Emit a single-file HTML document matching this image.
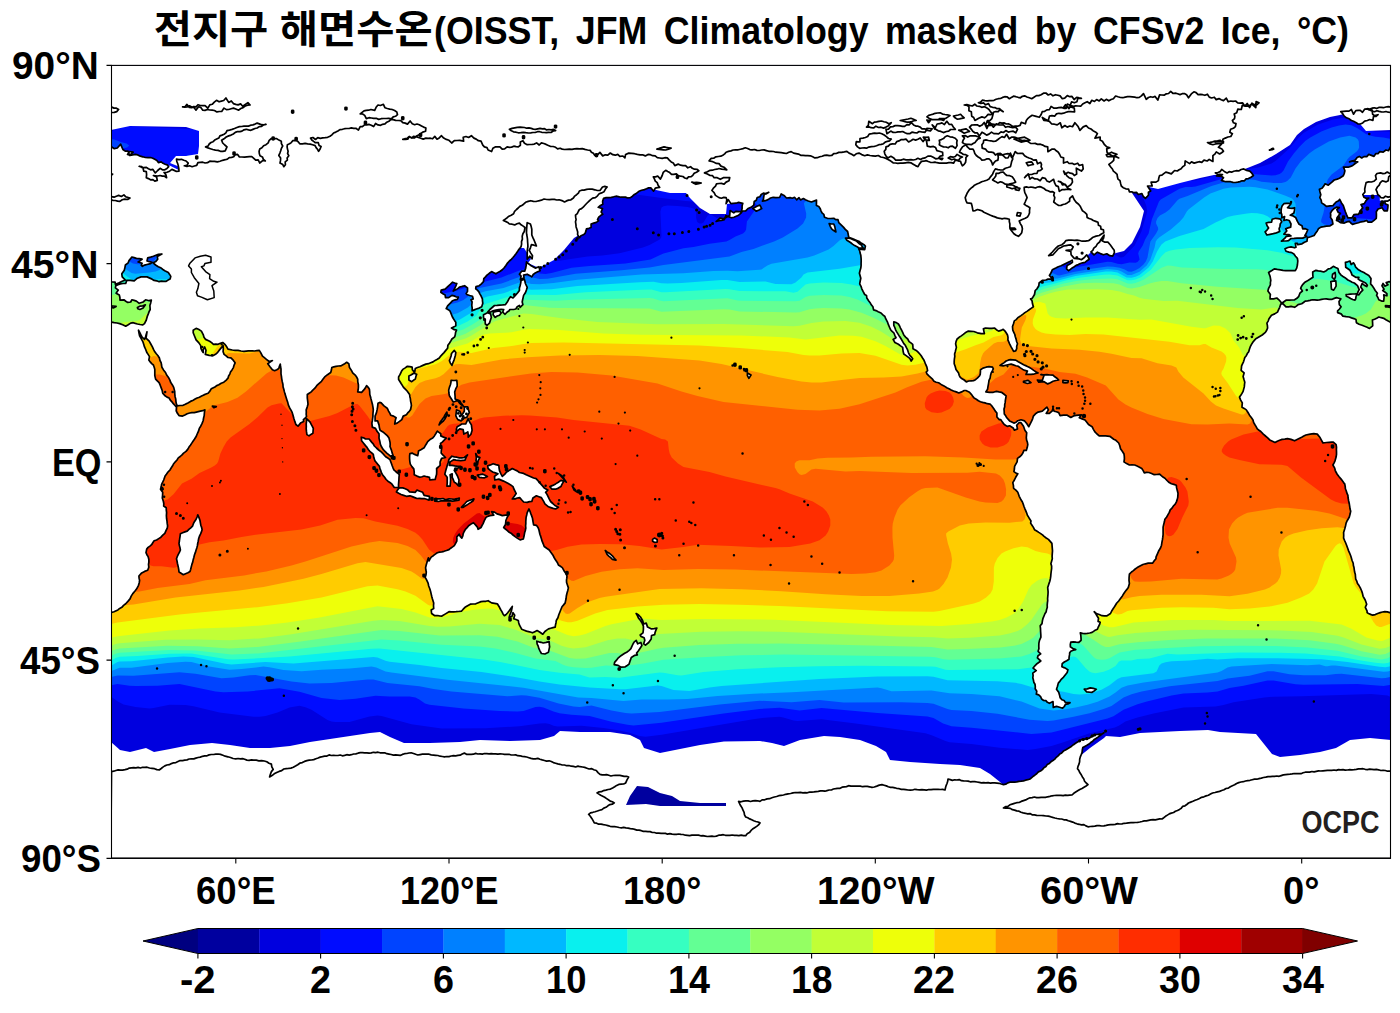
<!DOCTYPE html><html><head><meta charset="utf-8"><title>SST</title><style>html,body{margin:0;padding:0;background:#fff}#p{position:relative;width:1400px;height:1013px;overflow:hidden;background:#fff;font-family:"Liberation Sans",sans-serif}.t{position:absolute;white-space:nowrap;font-weight:bold;color:#000;line-height:normal;transform-origin:0 0;letter-spacing:0}svg{position:absolute;left:0;top:0}</style></head><body><div id="p"><svg width="1400" height="1013" viewBox="0 0 1400 1013"><defs><clipPath id="mc"><rect x="111.5" y="65.4" width="1279.0" height="793.0"/></clipPath></defs><g clip-path="url(#mc)"><rect x="109.5" y="63.4" width="1283.0" height="797.0" fill="#00009f"/><path d="M107.5 61.4L1395.5 61.4L1395.5 863.4L107.5 863.4L107.5 61.4Z" fill="#0000df" fill-rule="evenodd"/><path d="M107.5 61.4L471.5 61.4L472.6 65.4L477.5 76.5L488.1 109.4L487.5 111.7L485.5 112.9L481.5 113.3L383.5 113.2L367.5 111.6L185.5 111.6L181.5 111.9L175.5 114.3L171.5 114.8L167.5 114.1L163.5 112.3L159.5 111.6L118.0 111.4L114.8 109.4L113.5 106.4L110.5 95.4L107.5 92.4L107.5 61.4ZM745.3 63.4L745.6 61.4L971.4 61.4L971.5 79.4L973.3 89.4L973.1 111.4L971.5 115.0L969.5 116.7L965.5 117.6L961.5 117.7L763.5 117.3L757.5 116.8L751.5 114.9L741.5 114.2L739.5 112.9L738.7 111.4L738.6 105.4L742.2 85.4L745.3 63.4ZM1117.9 61.4L1137.9 61.4L1147.0 109.4L1147.0 111.4L1146.3 113.4L1143.5 115.4L1137.5 116.0L1131.5 115.4L1129.5 114.4L1127.6 111.4L1125.9 105.4L1120.8 75.4L1117.9 61.4ZM1385.3 61.4L1395.5 61.4L1395.5 111.1L1393.5 109.1L1391.8 103.4L1385.5 77.2L1384.2 69.4L1385.3 61.4ZM1375.0 79.4L1375.5 79.0L1377.9 79.4L1378.4 81.4L1377.5 87.4L1370.6 109.4L1368.6 113.4L1367.5 114.5L1363.5 116.0L1355.5 116.2L1353.5 116.1L1351.5 115.2L1350.2 113.4L1350.1 111.4L1352.3 107.4L1369.1 85.4L1375.0 79.4ZM1332.9 119.4L1341.5 118.1L1351.5 118.8L1365.5 124.3L1367.5 125.5L1370.7 129.4L1373.5 131.2L1375.5 131.7L1389.5 131.7L1391.5 131.1L1395.5 128.4L1395.5 165.2L1383.5 167.1L1379.5 168.7L1376.1 171.4L1374.9 173.4L1373.8 177.4L1372.5 187.4L1373.5 193.7L1375.5 196.1L1377.5 197.0L1389.5 197.4L1395.5 196.7L1395.5 699.7L1387.5 695.4L1371.5 693.9L1301.5 696.3L1273.5 696.7L1264.3 697.4L1233.5 702.3L1223.5 705.0L1215.5 706.5L1183.5 707.5L1153.5 713.6L1137.5 717.6L1125.4 721.4L1119.2 725.4L1114.9 727.4L1088.9 733.4L1063.5 742.3L1051.5 745.9L1035.5 749.1L1027.5 749.9L999.5 747.8L971.5 744.0L949.5 742.2L945.5 741.1L932.3 735.4L925.5 733.2L855.7 723.4L821.5 719.2L797.5 720.9L793.5 720.4L783.3 717.4L779.5 716.8L767.8 717.4L751.5 719.4L661.5 734.8L645.5 736.8L639.5 736.1L629.5 732.7L619.5 730.4L603.5 727.9L581.5 725.8L557.5 726.6L553.5 725.7L549.5 724.0L545.5 723.3L539.5 723.6L519.5 726.3L485.5 728.3L441.5 728.5L411.5 724.2L381.5 716.0L377.5 715.4L369.5 716.4L349.5 722.0L335.5 722.0L331.5 721.4L327.5 719.9L311.5 709.8L305.5 707.3L299.5 705.8L289.5 707.6L277.5 712.5L265.5 715.9L259.5 716.8L253.5 716.7L219.5 712.6L193.5 706.3L185.5 705.1L169.5 704.8L153.5 708.1L149.5 708.4L135.5 706.9L123.5 704.5L117.5 701.3L111.5 696.9L107.5 695.4L107.5 197.4L113.5 196.9L115.5 196.0L117.5 193.6L125.1 173.4L126.4 169.4L126.4 167.4L124.2 165.4L121.5 165.0L107.5 166.0L107.5 132.2L111.7 131.4L117.5 127.0L121.5 126.2L131.5 126.2L197.5 129.6L505.5 130.1L1171.5 133.3L1199.5 133.8L1210.4 135.4L1210.1 137.4L1202.5 141.4L1083.9 187.4L1075.9 191.4L1075.1 193.4L1077.5 195.4L1086.2 199.4L1091.6 203.4L1102.5 217.4L1105.5 220.4L1107.5 221.3L1113.5 222.0L1114.6 223.4L1115.1 225.4L1114.8 229.4L1110.8 247.4L1110.6 251.4L1112.2 253.4L1119.5 257.3L1121.5 257.6L1123.5 256.9L1125.2 255.4L1134.7 245.4L1141.5 231.3L1147.3 211.4L1146.2 205.4L1142.2 195.4L1142.2 193.4L1143.4 191.4L1145.8 189.4L1151.5 186.5L1183.5 176.4L1185.5 176.0L1187.5 176.3L1187.9 179.4L1189.5 180.1L1191.5 180.8L1195.5 180.5L1221.5 174.3L1241.5 170.1L1258.1 167.4L1271.5 163.5L1275.5 161.1L1289.5 148.2L1298.8 137.4L1303.5 133.1L1317.5 124.8L1332.9 119.4ZM275.5 149.2L273.6 149.4L274.8 151.4L288.6 157.4L529.5 249.0L533.8 251.4L535.6 255.4L539.5 256.2L549.5 256.8L551.6 257.4L555.5 260.4L557.5 260.9L587.5 256.4L602.4 255.4L619.5 253.2L642.9 247.4L649.5 245.0L659.7 239.4L661.2 237.4L661.5 235.4L660.4 211.4L661.5 207.6L663.5 206.3L667.5 205.6L677.5 206.0L687.5 207.1L693.5 208.6L694.9 209.4L696.2 211.4L696.1 217.4L697.0 221.4L697.5 222.3L699.5 223.6L701.5 223.4L703.5 222.4L707.5 215.7L709.5 214.6L711.5 214.7L717.5 218.4L719.5 218.7L723.1 217.4L724.0 215.4L722.8 207.4L721.5 205.6L717.5 204.0L713.5 203.1L685.5 200.9L663.5 198.2L512.3 177.4L359.5 157.4L309.2 151.4L288.3 149.4L275.5 149.2Z" fill="#000cff" fill-rule="evenodd"/><path d="M749.8 61.4L968.5 61.4L968.6 79.4L970.4 89.4L970.3 109.4L969.8 111.4L968.1 113.4L963.5 114.4L863.5 114.5L849.5 113.7L765.5 113.7L759.5 113.2L757.5 112.3L755.5 110.4L753.5 105.4L753.1 97.4L751.5 89.4L751.1 81.4L749.7 73.4L749.8 61.4ZM1339.0 125.4L1345.5 124.6L1351.5 125.2L1357.5 128.2L1365.5 133.8L1369.5 135.5L1375.5 136.8L1383.5 137.5L1395.5 140.0L1395.5 150.4L1385.5 152.8L1375.5 156.8L1365.5 162.2L1361.8 165.4L1360.1 169.4L1356.9 181.4L1355.5 183.7L1349.5 189.6L1341.0 201.4L1338.8 205.4L1337.6 211.4L1338.2 213.4L1339.5 215.0L1343.5 216.6L1361.5 218.6L1369.5 218.9L1373.5 219.8L1377.5 222.6L1387.5 231.3L1391.5 234.1L1395.5 235.9L1395.5 684.1L1383.5 686.0L1357.5 684.0L1303.5 684.8L1295.5 684.2L1273.5 680.5L1267.5 680.5L1243.5 685.8L1229.5 688.0L1217.5 691.4L1207.5 692.6L1183.5 693.5L1171.5 695.6L1146.9 701.4L1137.5 704.3L1123.5 709.7L1113.5 716.3L1107.5 718.6L1051.5 732.5L1031.5 733.9L971.5 727.7L951.5 726.3L943.1 723.4L933.5 718.1L927.5 716.5L877.5 713.0L821.5 707.9L799.5 710.6L779.5 707.7L759.5 708.9L723.5 713.5L661.5 722.8L633.5 725.5L627.5 724.8L611.5 721.7L589.5 716.1L571.5 714.8L559.5 713.2L553.5 711.6L543.5 707.5L539.5 706.7L535.5 707.1L523.5 711.0L517.5 711.5L499.5 711.0L463.5 708.6L429.5 704.8L425.0 703.4L419.3 699.4L415.5 697.5L409.5 696.6L389.5 696.4L375.5 695.7L355.5 698.7L339.5 700.1L321.5 698.0L299.5 691.8L279.5 688.3L247.5 691.5L223.5 692.3L215.5 691.5L179.5 684.1L157.5 685.7L135.5 686.0L129.5 685.7L117.5 684.0L107.5 685.8L107.5 232.0L123.5 240.0L131.5 243.2L135.5 244.1L139.5 244.0L141.5 243.4L143.5 241.7L153.5 219.2L159.5 212.2L163.5 205.9L182.3 163.4L185.5 157.6L187.5 155.6L189.5 155.1L191.5 155.4L197.5 158.4L425.5 288.2L433.5 291.5L439.5 292.7L445.5 293.0L457.5 290.6L475.5 284.0L501.4 277.4L519.5 270.5L523.5 269.5L529.5 269.9L539.5 273.4L545.5 274.0L551.5 273.1L571.5 267.7L589.5 265.9L625.5 263.4L650.5 259.4L663.5 253.4L683.5 248.3L693.5 246.9L709.5 243.7L726.3 241.4L729.5 240.1L735.5 236.6L743.0 233.4L745.1 231.4L746.1 229.4L746.9 221.4L756.6 207.4L757.0 205.4L755.6 203.4L750.2 201.4L745.5 200.5L649.0 187.4L566.1 175.4L530.3 169.4L521.7 167.4L520.8 165.4L533.5 164.7L565.5 164.6L963.5 166.6L993.7 167.4L999.1 169.4L997.4 171.4L988.9 175.4L948.3 191.4L944.5 193.4L943.4 195.4L947.4 197.4L978.3 203.4L996.6 209.4L1005.6 213.4L1010.1 217.4L1037.4 253.4L1041.1 257.4L1048.5 261.4L1059.5 264.8L1065.5 268.1L1067.5 268.7L1107.5 261.8L1111.5 262.0L1117.5 263.8L1121.5 264.3L1129.5 262.5L1135.5 262.8L1137.5 262.0L1139.6 259.4L1138.2 253.4L1138.8 251.4L1142.7 245.4L1145.1 239.4L1148.6 233.4L1151.8 219.4L1159.0 201.4L1160.7 199.4L1179.5 188.8L1185.5 186.9L1191.5 187.1L1195.5 186.5L1223.5 178.5L1245.5 174.7L1255.5 174.3L1271.5 175.6L1275.5 175.2L1279.5 174.0L1281.5 172.8L1283.5 170.5L1288.0 161.4L1293.8 153.4L1299.5 146.7L1305.5 140.8L1310.3 137.4L1321.3 131.4L1331.6 127.4L1339.0 125.4ZM107.5 139.4L107.5 138.7L109.5 138.7L114.2 139.4L121.5 142.2L126.6 143.4L129.2 145.4L127.2 147.4L107.5 152.0L107.5 139.4Z" fill="#0044ff" fill-rule="evenodd"/><path d="M861.5 63.4L863.5 61.4L965.6 61.4L965.8 81.4L967.6 91.4L967.5 107.4L967.0 109.4L965.5 110.9L961.5 111.5L875.5 111.5L861.5 111.4L855.7 109.4L849.7 103.4L849.5 102.1L847.5 101.4L843.5 101.4L843.5 99.4L845.5 97.4L845.5 95.4L847.5 93.4L847.5 91.4L849.5 89.4L849.5 87.4L851.5 85.4L851.5 83.4L853.5 81.4L853.5 79.4L855.5 77.4L855.5 75.4L857.5 73.4L857.5 71.4L859.5 69.4L859.5 67.4L861.5 65.4L861.5 63.4ZM1340.2 137.4L1349.5 135.7L1355.6 137.4L1357.9 139.4L1358.8 141.4L1359.1 147.4L1358.3 149.4L1356.7 151.4L1349.5 157.0L1347.5 159.2L1343.5 165.5L1331.5 174.6L1327.7 179.4L1326.0 185.4L1324.5 207.4L1323.5 212.8L1321.3 219.4L1321.1 221.4L1321.5 222.4L1323.5 223.9L1345.5 230.9L1363.5 232.6L1373.5 230.6L1375.5 230.9L1377.5 231.8L1381.5 235.2L1391.5 246.0L1395.5 249.7L1395.5 675.5L1385.5 678.1L1381.5 678.3L1341.5 673.8L1335.5 673.9L1325.5 675.3L1303.5 675.3L1289.5 674.3L1273.5 671.2L1267.5 671.3L1249.5 675.7L1227.5 678.5L1217.5 681.0L1169.5 686.3L1141.5 691.5L1131.5 694.3L1123.6 697.4L1111.5 706.1L1103.5 709.1L1089.5 713.2L1073.5 716.7L1053.5 720.6L1047.5 721.1L1029.5 719.8L997.5 713.7L971.5 711.1L951.5 710.1L947.5 709.1L933.5 703.7L927.5 702.9L901.5 702.3L843.5 702.6L819.5 699.9L791.5 702.2L759.5 700.7L719.5 704.4L659.5 711.9L631.5 713.5L625.5 713.0L611.5 710.5L591.5 705.4L579.5 707.0L573.5 706.4L558.6 703.4L539.5 697.8L526.4 695.4L521.5 695.2L507.5 696.3L451.5 691.6L433.5 689.1L419.5 686.2L387.5 682.9L373.5 679.5L367.5 679.6L331.5 683.0L309.5 683.5L291.5 681.5L255.5 675.1L249.5 675.2L233.5 677.5L221.5 678.2L195.5 673.7L179.5 672.2L133.5 675.8L117.5 675.5L107.5 677.9L107.5 242.0L111.5 245.1L123.5 257.0L129.5 261.5L133.0 263.4L137.5 264.3L145.5 264.0L149.5 263.3L153.5 261.5L156.4 257.4L171.5 217.5L177.5 203.8L191.5 178.3L193.5 175.8L195.5 174.8L199.5 175.5L203.5 177.6L410.6 295.4L417.5 297.9L451.5 304.1L457.5 302.6L463.5 299.9L467.5 297.1L473.5 291.4L479.5 288.1L501.5 283.4L521.5 276.3L525.5 276.0L539.5 279.1L547.5 278.8L575.5 273.8L621.5 270.3L649.5 267.6L663.5 264.9L729.5 256.5L741.5 252.0L753.5 248.9L774.1 241.4L782.8 237.4L797.5 228.6L803.1 223.4L806.1 217.4L806.2 213.4L803.9 203.4L805.0 201.4L809.5 200.5L815.5 200.8L865.5 207.2L883.2 211.4L912.2 221.4L921.8 225.4L926.7 229.4L937.6 243.4L943.2 247.4L948.0 249.4L961.9 253.4L979.2 257.4L1049.5 271.8L1057.5 275.3L1059.5 275.4L1073.5 272.0L1091.5 268.7L1107.5 266.4L1113.5 266.7L1119.5 267.8L1124.7 269.4L1128.1 271.4L1131.5 271.7L1135.5 270.3L1139.5 267.9L1143.5 264.4L1145.8 261.4L1147.5 257.4L1150.4 241.4L1156.1 233.4L1158.2 229.4L1158.0 227.4L1156.1 223.4L1156.1 221.4L1157.5 218.1L1159.9 215.4L1165.5 212.6L1169.5 209.5L1177.5 200.3L1179.5 198.7L1187.5 196.1L1211.5 186.1L1223.5 182.6L1233.5 180.8L1241.5 179.8L1251.5 179.5L1255.5 180.0L1261.5 181.8L1273.5 182.9L1281.5 182.9L1285.5 181.9L1287.5 180.8L1290.8 177.4L1295.5 168.5L1300.7 161.4L1309.5 153.2L1314.7 149.4L1328.8 141.4L1340.2 137.4Z" fill="#0080ff" fill-rule="evenodd"/><path d="M1230.7 187.4L1249.5 186.7L1255.5 187.2L1267.5 189.4L1284.9 195.4L1291.5 198.3L1293.5 200.1L1295.4 203.4L1295.9 207.4L1295.9 215.4L1296.6 219.4L1301.4 227.4L1303.5 235.4L1305.4 237.4L1309.5 239.6L1313.5 240.2L1321.5 237.9L1325.5 237.6L1329.5 238.6L1345.5 244.5L1359.5 246.4L1365.5 245.9L1375.5 242.3L1379.5 242.4L1383.5 245.1L1391.5 253.6L1395.5 257.1L1395.5 668.6L1391.5 670.5L1387.5 671.5L1383.5 671.7L1335.5 665.4L1331.5 665.4L1327.5 666.3L1325.5 666.2L1319.5 664.6L1307.5 665.2L1271.5 663.9L1231.5 666.5L1227.5 667.5L1221.5 671.1L1217.5 672.4L1143.5 682.6L1127.5 685.5L1121.5 687.8L1115.5 692.5L1109.5 696.4L1097.5 701.7L1087.5 704.7L1075.5 707.5L1065.5 709.3L1053.5 710.6L1039.5 708.5L1021.5 701.5L999.5 696.3L971.5 694.0L949.5 693.3L931.5 690.4L891.5 691.2L881.5 688.2L877.5 687.6L791.5 692.3L753.5 693.7L717.5 696.0L687.5 698.9L667.5 699.6L641.5 699.6L623.5 701.1L591.5 698.1L578.2 697.4L523.5 687.7L447.5 679.8L391.5 672.6L385.5 671.4L376.3 667.4L371.5 666.6L349.5 668.4L321.5 669.7L301.5 671.3L283.5 670.1L269.5 667.2L263.5 666.6L241.5 669.1L229.5 669.8L207.5 666.2L191.5 662.1L185.5 661.7L167.5 663.1L131.5 667.8L119.5 667.8L111.5 670.9L107.5 671.7L107.5 249.2L111.5 252.7L126.2 269.4L131.5 273.1L135.5 273.8L149.5 272.4L155.7 271.4L159.5 270.0L161.9 267.4L169.5 250.2L177.5 235.0L197.5 199.3L199.5 196.4L201.5 194.7L203.5 194.4L205.5 194.8L211.5 197.8L395.5 302.4L403.5 304.8L419.5 306.9L437.5 310.2L447.5 313.9L451.5 314.7L457.5 313.2L467.9 307.4L471.5 304.0L477.6 295.4L481.5 292.5L485.5 291.2L503.5 288.0L519.5 282.4L523.5 282.2L531.5 284.0L539.5 284.3L553.5 283.1L577.5 279.7L641.5 274.4L683.5 273.2L713.5 271.1L727.5 270.7L737.5 271.2L759.5 269.7L761.5 269.4L767.4 265.4L771.5 263.8L807.5 257.5L814.3 255.4L828.6 249.4L833.5 246.0L839.5 240.6L841.5 239.2L843.5 238.6L847.5 239.0L881.5 246.4L1035.5 276.8L1049.5 278.9L1057.5 278.6L1075.5 274.0L1107.5 269.0L1117.5 270.0L1121.5 271.5L1127.5 275.1L1131.5 275.1L1139.5 271.7L1146.7 265.4L1150.4 259.4L1154.6 247.4L1155.8 241.4L1157.1 239.4L1159.5 237.2L1170.8 229.4L1179.9 221.4L1183.4 217.4L1186.8 211.4L1188.5 209.4L1204.1 197.4L1210.4 193.4L1223.5 188.8L1230.7 187.4Z" fill="#00b8ff" fill-rule="evenodd"/><path d="M1247.1 213.4L1251.5 213.0L1257.5 213.3L1263.5 214.5L1267.5 216.2L1272.0 219.4L1285.5 233.5L1290.3 239.4L1292.7 241.4L1301.5 244.7L1313.5 250.7L1315.5 251.0L1321.5 250.1L1325.5 250.4L1347.5 258.5L1357.5 260.1L1363.5 259.6L1377.5 254.3L1381.5 253.4L1385.5 255.1L1395.5 264.2L1395.5 662.6L1389.5 666.5L1385.5 667.2L1379.5 666.8L1347.5 661.9L1321.5 659.2L1277.5 658.3L1237.5 658.2L1217.5 659.5L1207.5 658.7L1189.5 660.5L1171.5 661.2L1165.5 662.3L1161.5 663.6L1159.3 665.4L1156.6 671.4L1153.5 673.2L1121.5 677.3L1117.5 679.1L1109.5 685.3L1101.5 689.8L1089.5 693.8L1079.5 694.6L1073.5 694.1L1063.5 691.7L1035.5 688.3L1021.5 683.9L1015.5 682.8L997.5 681.3L947.5 680.3L933.5 676.8L927.5 676.3L877.5 676.5L819.5 678.9L721.5 686.1L709.5 687.4L689.5 691.1L673.5 690.1L661.5 686.1L657.5 685.6L625.5 689.2L619.5 689.3L589.5 687.6L559.5 684.4L539.5 681.5L513.5 676.8L481.5 672.1L441.5 667.9L419.5 664.9L389.5 661.7L385.5 660.7L377.5 657.4L373.5 657.0L293.5 663.5L265.5 662.0L231.5 664.4L225.5 663.7L193.5 657.1L183.5 656.6L167.5 657.4L131.5 661.2L119.5 661.4L117.5 661.9L111.5 665.6L107.5 667.0L107.5 256.3L111.5 259.8L123.5 273.5L127.5 276.7L133.5 280.4L135.5 281.0L139.5 281.3L159.5 279.3L167.5 279.4L169.5 278.7L171.5 277.0L173.5 274.0L205.4 217.4L207.5 214.9L209.5 214.0L213.5 214.9L217.5 217.0L379.5 308.9L388.5 311.4L413.5 314.6L435.5 319.0L443.5 321.7L449.5 322.3L453.5 321.7L459.5 319.7L471.5 312.6L473.5 310.8L479.5 302.0L483.5 298.0L487.5 296.6L503.5 293.2L517.5 288.2L521.5 288.2L531.5 289.8L551.5 289.2L577.5 286.1L639.5 282.2L653.5 281.7L661.5 283.2L667.5 283.4L681.5 282.9L721.5 280.0L727.5 280.1L739.5 281.9L765.5 281.5L775.5 283.9L791.5 284.2L795.5 282.4L801.4 277.4L803.5 274.6L807.5 272.6L839.5 268.7L861.5 265.0L875.5 265.9L965.5 276.2L1031.5 284.6L1051.5 282.2L1075.5 276.1L1105.5 271.6L1111.5 271.6L1117.5 272.5L1126.6 277.4L1131.5 277.7L1135.5 276.7L1139.5 274.9L1148.6 267.4L1152.8 261.4L1157.1 251.4L1159.5 247.4L1161.5 244.4L1165.2 241.4L1179.5 236.0L1203.5 229.0L1215.5 222.4L1227.5 217.0L1234.1 215.4L1247.1 213.4Z" fill="#09f0ee" fill-rule="evenodd"/><path d="M213.5 235.4L215.5 233.9L217.5 233.6L223.5 236.1L363.5 315.5L371.5 317.7L403.5 321.5L441.5 329.7L447.5 328.9L457.5 326.3L467.5 321.4L476.5 315.4L481.5 307.2L485.5 303.9L517.5 293.9L529.5 294.8L555.5 294.9L585.5 292.3L641.5 289.8L651.5 289.6L661.5 292.2L665.5 292.3L725.5 289.0L729.5 289.2L739.5 291.1L785.5 291.3L793.5 292.7L797.5 291.8L805.5 284.5L809.5 283.4L823.5 282.5L841.5 283.0L851.5 284.5L861.5 287.1L865.5 287.4L869.5 286.6L879.5 282.0L885.5 281.2L1009.5 294.9L1019.5 295.4L1027.5 293.4L1037.5 288.4L1043.5 286.2L1051.5 284.5L1065.5 280.6L1079.5 277.7L1103.5 274.7L1109.5 274.4L1117.5 275.4L1127.5 280.3L1131.5 280.3L1135.5 279.5L1141.5 277.0L1151.1 269.4L1161.5 256.2L1165.5 252.3L1169.5 250.8L1175.5 249.6L1189.5 248.1L1217.5 247.2L1235.5 247.4L1267.5 250.2L1281.5 252.8L1291.5 255.8L1293.5 256.0L1297.5 254.5L1299.5 254.5L1303.5 255.7L1315.5 261.3L1325.5 263.3L1347.5 271.9L1355.5 273.8L1361.5 273.3L1383.5 265.0L1387.5 265.4L1395.5 271.2L1395.5 657.6L1389.5 662.2L1387.5 663.1L1383.5 663.4L1375.5 662.7L1359.5 660.3L1339.5 656.4L1305.5 653.6L1279.5 652.8L1239.5 652.5L1177.5 654.4L1167.5 653.8L1149.5 658.6L1137.5 659.0L1131.5 660.6L1121.5 660.4L1119.0 661.4L1115.5 665.9L1109.5 669.6L1103.5 671.8L1095.5 673.2L1091.5 672.6L1089.4 671.4L1085.5 667.9L1077.5 658.4L1075.5 657.0L1073.5 656.5L1068.0 657.4L1037.5 666.7L1017.5 669.2L949.5 670.1L945.5 669.8L935.5 666.8L931.5 666.4L861.5 665.8L817.5 666.3L779.5 667.2L737.5 669.3L703.5 671.9L681.5 675.4L677.5 675.3L663.5 672.7L659.5 672.5L619.5 677.8L605.5 677.0L589.5 677.5L579.5 674.6L559.5 672.7L539.5 669.9L501.5 662.3L483.5 659.6L379.5 648.5L371.5 648.8L289.5 656.6L233.5 659.6L227.5 659.3L191.5 653.4L169.5 653.7L137.5 656.0L119.5 656.7L115.5 658.0L111.5 660.5L107.5 662.3L107.5 264.7L111.5 267.5L127.2 283.4L133.5 286.8L139.5 287.6L157.5 286.9L171.5 290.8L175.5 291.1L179.5 290.3L181.5 289.4L185.0 285.4L213.5 235.4Z" fill="#36ffc1" fill-rule="evenodd"/><path d="M223.0 253.4L225.5 253.5L231.5 256.4L347.5 322.0L351.6 323.4L357.5 324.4L393.5 328.5L435.5 337.4L441.5 336.4L463.2 329.4L471.5 325.0L479.5 319.9L482.1 317.4L486.3 311.4L488.9 309.4L511.5 301.1L519.5 299.4L555.5 300.8L573.5 299.8L649.5 298.1L653.5 298.5L659.5 300.6L663.5 301.2L727.5 298.2L737.5 300.5L741.5 300.8L795.5 301.3L799.5 300.7L805.5 297.1L809.5 295.8L823.5 295.0L841.5 295.6L849.5 296.9L857.5 299.5L873.5 307.5L877.5 308.6L881.5 307.5L899.5 298.0L903.5 296.8L907.5 296.5L991.5 305.7L1001.5 306.2L1009.5 305.4L1017.5 303.0L1037.5 291.6L1043.5 289.0L1063.5 283.5L1077.5 280.7L1093.5 279.1L1111.5 278.4L1117.5 279.2L1127.5 283.4L1131.5 283.7L1135.5 283.0L1143.5 279.7L1161.5 267.8L1167.5 265.6L1171.5 265.7L1181.5 267.5L1225.5 268.9L1257.5 269.2L1267.5 270.1L1271.5 271.4L1279.5 275.9L1289.5 283.9L1293.5 286.0L1297.5 285.5L1311.5 279.7L1317.5 278.8L1333.5 280.9L1351.5 286.6L1357.5 287.4L1361.5 286.3L1385.5 276.8L1389.5 276.2L1391.5 276.8L1395.5 278.7L1395.5 653.4L1387.5 658.3L1381.5 659.5L1361.5 656.5L1337.5 650.8L1307.5 647.5L1275.5 646.0L1239.5 645.8L1199.5 646.3L1135.5 649.8L1119.5 652.5L1109.5 658.2L1105.5 659.5L1101.5 659.8L1097.5 659.3L1095.5 658.4L1093.5 657.0L1083.2 645.4L1079.5 643.0L1075.5 642.1L1043.5 647.2L1029.5 653.9L1021.5 656.4L999.5 658.4L949.5 659.8L943.5 659.2L935.5 657.3L929.5 656.8L783.5 654.6L741.5 655.2L701.5 657.2L663.5 659.8L643.5 663.6L633.5 664.9L619.5 666.1L605.5 665.6L591.5 667.7L585.5 668.0L573.5 667.2L567.5 666.3L563.5 665.0L555.5 660.9L535.5 658.6L515.5 652.9L495.5 648.5L479.5 646.6L441.5 644.7L399.5 640.5L381.5 639.4L258.1 653.4L231.5 654.6L195.5 650.4L169.5 650.1L119.5 652.7L115.5 653.8L107.5 657.8L107.5 276.1L111.5 276.5L113.5 277.6L117.5 281.4L121.9 287.4L127.5 290.5L133.5 292.8L137.5 293.5L155.5 294.6L177.5 302.1L181.5 302.4L189.5 301.2L193.5 299.8L196.0 297.4L218.7 257.4L221.5 254.0L223.0 253.4Z" fill="#63ff94" fill-rule="evenodd"/><path d="M228.9 273.4L231.5 272.9L237.5 275.5L325.2 325.4L333.5 329.3L343.5 331.1L382.9 335.4L429.5 345.0L435.5 344.1L447.5 339.2L459.5 335.9L465.5 333.7L480.0 325.4L493.5 314.2L509.5 308.9L517.5 305.5L521.5 304.8L549.5 307.7L559.5 308.1L649.5 308.5L661.5 311.7L723.5 309.2L729.5 309.5L739.5 311.4L795.5 312.5L799.5 312.3L809.5 309.2L815.5 308.4L823.5 308.0L841.5 308.5L849.5 309.5L861.5 312.7L873.5 317.7L885.5 323.8L889.5 325.3L891.5 325.4L895.5 324.6L905.5 321.0L921.5 313.2L927.5 311.9L935.5 312.2L979.5 317.0L987.5 316.7L999.5 314.8L1005.5 313.2L1013.5 309.4L1035.5 295.6L1041.5 292.7L1063.5 286.4L1081.5 283.3L1095.5 282.8L1113.5 283.2L1119.5 284.5L1127.5 287.9L1131.5 288.4L1139.5 286.9L1149.5 283.4L1155.5 281.9L1161.5 281.0L1167.5 280.9L1181.5 283.3L1217.5 286.8L1267.5 290.0L1273.5 292.3L1285.3 299.4L1289.5 301.2L1325.5 311.2L1331.1 313.4L1339.5 318.2L1345.5 319.5L1351.5 318.7L1361.5 315.4L1365.9 313.4L1370.8 309.4L1375.5 301.5L1377.5 299.9L1385.5 296.6L1395.5 294.0L1395.5 649.1L1385.5 653.9L1379.5 654.7L1361.5 651.2L1341.5 644.9L1335.5 643.7L1309.5 640.3L1275.5 638.5L1205.5 638.5L1169.5 639.9L1137.5 642.2L1119.5 644.2L1109.5 647.0L1105.5 647.1L1101.5 645.3L1093.0 639.4L1065.5 623.4L1059.5 621.3L1051.5 620.6L1047.5 621.3L1045.5 623.0L1042.9 627.4L1033.5 637.4L1029.5 640.1L1021.5 643.9L1015.5 645.4L1000.3 647.4L967.5 649.0L947.5 649.5L931.5 647.0L817.5 644.3L779.5 643.6L737.5 643.7L699.5 645.1L663.5 647.8L657.5 648.7L631.5 654.6L627.5 654.9L617.5 653.1L609.5 653.1L585.5 658.4L575.5 658.8L569.5 658.1L549.5 650.6L533.5 647.7L517.5 641.6L497.5 636.8L479.5 635.2L439.5 635.5L399.5 631.0L381.5 630.1L300.7 641.4L257.5 646.9L229.5 648.4L197.5 646.2L167.5 645.7L119.5 648.4L115.5 649.4L107.5 652.9L107.5 295.9L115.5 294.3L119.5 294.8L131.5 298.7L153.5 302.7L179.5 312.3L185.5 313.8L202.6 311.4L205.5 310.3L208.3 307.4L225.5 277.1L227.5 274.4L228.9 273.4Z" fill="#94ff63" fill-rule="evenodd"/><path d="M1076.3 289.4L1097.5 289.2L1111.5 290.0L1119.7 291.4L1127.5 293.9L1134.1 295.4L1139.5 297.8L1143.5 298.8L1163.5 300.9L1177.5 300.8L1237.5 308.0L1261.5 309.5L1275.5 307.6L1279.3 309.4L1281.1 311.4L1289.7 327.4L1293.5 335.8L1295.5 337.5L1301.5 338.8L1337.5 339.7L1343.5 339.4L1349.5 337.8L1375.5 328.1L1395.5 324.7L1395.5 643.8L1385.5 648.1L1379.5 648.8L1361.5 644.6L1343.5 637.5L1337.5 635.7L1311.5 632.0L1281.5 630.4L1191.5 629.8L1171.5 630.4L1135.5 632.9L1117.5 635.3L1109.5 636.9L1107.5 636.8L1103.5 635.3L1091.5 629.2L1053.5 604.6L1047.5 601.7L1045.5 601.8L1043.5 603.0L1041.5 605.1L1031.7 619.4L1027.5 623.9L1021.5 628.9L1017.5 631.0L1009.4 633.4L999.5 635.6L969.5 637.7L947.5 638.4L933.5 637.3L899.5 636.4L779.5 631.7L739.5 631.2L701.5 631.7L659.5 633.9L655.5 634.7L637.5 640.3L633.5 640.2L625.5 638.4L617.5 638.4L607.5 640.2L585.5 647.2L573.5 648.5L567.5 647.6L561.5 645.8L549.5 640.2L535.5 637.9L515.5 629.7L499.5 625.0L479.5 623.8L449.5 626.4L437.5 626.7L429.5 625.9L399.5 620.9L381.5 619.9L373.5 620.7L291.5 634.2L259.5 638.4L229.5 640.3L197.5 639.5L165.5 639.8L119.5 643.2L115.5 644.0L107.5 647.5L107.5 325.7L113.5 325.0L123.5 322.3L137.5 320.8L140.3 319.4L145.5 314.4L147.5 313.1L149.5 312.6L155.5 313.7L187.5 324.3L191.5 325.2L195.5 325.0L203.5 322.9L215.5 321.7L217.5 320.8L220.6 317.4L233.5 295.0L235.5 293.1L237.5 292.5L239.5 292.8L243.5 294.7L309.5 332.2L316.2 335.4L326.0 337.4L373.5 342.5L423.5 352.7L427.5 352.4L431.5 351.3L447.5 344.1L465.5 338.6L471.5 335.6L491.5 323.0L495.5 321.0L523.5 313.4L531.5 313.9L561.5 318.3L597.5 321.9L657.5 324.2L723.5 324.1L793.5 326.2L799.5 325.7L811.5 323.1L823.5 321.5L845.5 320.9L859.5 322.8L871.5 326.8L881.0 331.4L893.5 339.4L897.5 340.7L899.5 340.7L928.1 333.4L947.0 327.4L967.5 327.7L993.5 323.3L999.5 321.0L1005.5 317.7L1029.5 302.0L1039.5 296.8L1049.0 293.4L1055.5 291.8L1067.5 289.6L1076.3 289.4Z" fill="#c1ff36" fill-rule="evenodd"/><path d="M1032.3 303.4L1035.5 302.2L1039.5 301.8L1045.3 303.4L1047.7 313.4L1049.3 315.4L1051.5 316.8L1055.5 317.9L1065.5 318.4L1085.5 317.5L1107.5 317.5L1139.5 319.8L1151.5 319.5L1191.5 326.8L1203.5 328.3L1205.5 328.3L1213.5 325.6L1219.5 325.7L1225.5 328.5L1230.7 333.4L1233.5 340.5L1239.2 347.4L1243.0 355.4L1253.5 357.8L1331.5 359.5L1339.5 359.2L1345.5 357.4L1389.5 340.5L1395.5 338.7L1395.5 636.6L1389.5 637.9L1383.5 640.5L1381.5 640.9L1377.5 640.6L1366.3 637.4L1351.5 628.8L1341.5 624.6L1309.5 620.8L1229.5 621.0L1213.5 620.0L1171.5 620.0L1133.5 622.5L1113.5 627.2L1109.5 627.3L1103.4 625.4L1094.4 619.4L1072.5 601.4L1051.5 580.7L1047.5 578.2L1045.5 578.0L1041.5 578.8L1037.5 580.5L1031.5 585.1L1028.4 589.4L1023.1 601.4L1018.0 609.4L1013.5 613.7L1006.5 617.4L999.5 620.1L992.1 621.4L969.5 624.0L941.5 625.9L891.5 624.9L773.5 619.7L703.5 618.9L661.5 619.9L641.5 618.6L611.5 624.2L605.5 625.9L585.5 633.9L579.5 635.5L573.5 636.2L567.5 635.1L555.5 629.9L541.5 626.3L505.5 612.2L493.5 608.8L487.5 608.6L475.5 609.4L461.5 611.7L443.5 617.0L433.5 618.1L429.5 617.5L415.5 612.4L401.5 608.9L377.5 606.3L319.7 617.4L287.5 622.6L261.1 625.4L235.5 627.2L199.5 628.6L169.5 630.5L117.5 636.3L107.5 638.6L107.5 341.2L126.9 335.4L131.5 331.2L133.5 330.2L139.5 328.8L145.5 325.6L147.5 325.0L151.5 325.4L171.5 331.4L183.5 335.6L195.5 339.0L199.5 339.3L201.5 338.7L206.2 335.4L209.5 334.1L213.5 333.3L225.5 332.6L229.5 331.3L231.6 329.4L241.5 313.4L243.5 312.2L245.5 312.3L251.5 314.9L294.6 339.4L301.5 342.3L311.5 344.0L363.5 349.5L417.5 360.4L423.5 359.8L429.5 358.0L439.5 354.1L449.5 348.5L467.5 343.4L479.5 336.3L483.5 334.6L489.5 333.5L511.5 332.3L523.5 329.7L529.5 328.9L559.5 330.1L603.5 333.5L641.5 334.7L741.5 335.6L789.5 337.4L805.5 339.6L839.5 335.6L853.5 335.8L861.5 336.8L875.5 341.3L885.5 346.1L899.5 353.9L903.5 355.4L905.5 355.4L915.5 351.6L943.5 344.5L971.5 335.7L985.5 332.9L991.5 330.9L995.5 328.8L1023.5 308.5L1032.3 303.4Z" fill="#eeff09" fill-rule="evenodd"/><path d="M1031.2 307.4L1034.5 307.4L1036.1 309.4L1035.9 311.4L1032.9 319.4L1032.7 323.4L1033.5 326.3L1035.5 329.0L1037.5 330.4L1041.5 332.4L1045.5 333.5L1055.5 334.6L1069.5 335.0L1085.5 333.9L1103.5 334.4L1169.5 341.7L1189.5 345.3L1199.5 345.2L1203.5 343.9L1205.5 343.9L1211.5 347.4L1221.5 351.5L1224.1 353.4L1225.7 355.4L1226.4 357.4L1226.1 361.4L1223.5 368.8L1221.8 371.4L1221.3 373.4L1222.0 375.4L1227.5 382.7L1235.8 395.4L1237.5 397.4L1239.5 398.0L1241.5 395.9L1245.5 387.8L1247.5 385.9L1253.5 385.0L1255.5 384.0L1259.5 379.6L1261.5 378.7L1267.5 378.3L1329.5 379.4L1335.5 378.9L1395.5 356.7L1395.5 622.9L1389.5 624.1L1381.5 626.9L1379.5 626.9L1376.2 625.4L1373.5 622.1L1369.7 615.4L1367.3 605.4L1364.8 599.4L1361.0 593.4L1356.0 587.4L1353.7 583.4L1343.5 547.8L1341.5 544.0L1339.5 543.2L1337.5 544.2L1335.5 546.1L1324.5 561.4L1317.1 583.4L1313.3 589.4L1309.2 593.4L1301.0 597.4L1287.5 602.7L1269.5 606.6L1249.5 608.6L1229.5 609.3L1213.5 607.7L1181.5 607.3L1161.5 607.7L1131.5 610.2L1127.5 611.1L1121.5 613.9L1117.5 614.6L1109.5 611.3L1097.2 601.4L1087.0 591.4L1072.8 575.4L1051.5 555.2L1047.5 553.4L1041.5 552.6L1035.5 550.9L1027.5 547.3L1021.5 546.6L1013.5 548.2L1005.1 551.4L1001.5 553.5L997.5 558.0L994.8 563.4L993.9 567.4L993.8 581.4L992.6 589.4L990.4 593.4L986.1 597.4L979.7 601.4L973.8 603.4L939.5 610.9L933.5 611.8L887.5 611.2L779.5 606.0L739.5 604.7L699.5 604.0L663.5 604.8L637.5 606.4L607.5 609.9L595.1 613.4L577.5 620.7L571.5 622.2L567.5 622.3L561.5 620.8L537.9 611.4L531.3 607.4L521.8 599.4L515.5 596.8L505.5 596.2L495.5 594.6L465.5 597.4L451.5 595.1L447.5 595.0L445.4 595.4L443.5 596.8L439.5 601.3L436.6 603.4L431.5 605.6L429.5 605.4L427.5 604.4L415.5 595.7L405.5 591.5L397.5 589.2L377.5 585.5L367.5 586.2L321.5 597.4L287.5 603.2L257.5 607.2L199.5 612.4L179.5 614.6L117.5 622.6L107.5 624.7L107.5 359.3L113.5 357.4L139.0 347.4L141.5 345.3L143.2 339.4L145.5 338.1L149.5 339.4L153.5 343.1L155.5 344.0L171.5 346.4L187.5 351.4L205.5 356.1L209.5 356.4L211.5 355.3L216.5 347.4L218.4 345.4L223.5 343.8L239.5 342.7L241.5 341.8L243.5 340.0L248.1 333.4L249.5 332.2L251.5 331.8L257.5 334.0L281.5 347.4L287.5 349.3L355.5 356.8L386.8 363.4L400.6 367.4L402.6 369.4L400.1 371.4L396.0 373.4L394.6 375.4L399.5 380.5L403.5 386.1L405.5 386.5L407.5 384.4L410.5 373.4L411.6 371.4L415.6 369.4L435.5 364.2L441.5 361.2L449.5 355.0L453.5 352.8L459.5 351.8L467.5 352.9L471.5 352.9L493.5 347.9L513.5 345.8L523.5 343.9L531.5 343.1L563.5 342.5L699.5 345.4L739.5 348.0L787.5 352.0L803.5 355.0L809.5 355.6L819.5 355.5L841.5 353.5L859.5 352.9L875.5 355.8L901.5 364.7L907.5 365.4L915.5 364.8L927.5 361.9L965.5 349.3L975.5 345.2L983.5 342.6L993.5 337.0L1001.5 335.3L1003.9 333.4L1004.7 331.4L1005.1 327.4L1006.1 325.4L1009.9 321.4L1023.5 311.2L1031.2 307.4Z" fill="#ffcc00" fill-rule="evenodd"/><path d="M1023.1 315.4L1025.5 314.9L1026.2 315.4L1026.2 317.4L1025.5 320.0L1021.8 327.4L1020.0 339.4L1021.5 344.3L1023.2 345.4L1051.5 348.5L1079.5 349.7L1099.5 351.8L1111.5 353.8L1131.5 358.0L1141.5 358.2L1157.5 363.3L1171.5 365.5L1176.3 367.4L1178.3 371.4L1183.3 377.4L1203.5 393.6L1210.9 401.4L1216.0 405.4L1223.5 408.6L1241.5 414.5L1243.5 414.5L1245.5 413.0L1249.5 402.6L1251.5 400.7L1255.5 400.7L1265.5 402.7L1267.5 402.5L1273.5 399.1L1277.5 398.5L1329.5 399.0L1335.5 397.4L1395.5 374.6L1395.5 598.8L1387.7 593.4L1383.9 589.4L1382.7 587.4L1373.6 557.4L1371.1 551.4L1368.3 547.4L1361.9 541.4L1347.5 530.1L1343.5 528.1L1337.5 527.3L1321.5 528.3L1307.5 530.3L1293.5 533.5L1288.4 535.4L1285.2 537.4L1281.7 541.4L1278.7 549.4L1278.5 555.4L1281.2 569.4L1281.0 573.4L1279.8 577.4L1277.5 581.4L1275.4 583.4L1269.6 587.4L1264.9 589.4L1247.5 593.8L1229.5 596.2L1201.5 594.7L1161.5 594.8L1139.5 596.1L1131.5 597.3L1123.5 599.3L1121.5 599.2L1119.5 598.3L1116.4 595.4L1103.3 579.4L1092.0 567.4L1089.7 563.4L1087.9 551.4L1086.2 547.4L1082.1 543.4L1067.1 531.4L1063.4 527.4L1062.0 523.4L1061.7 517.4L1060.7 513.4L1053.5 502.6L1051.5 500.9L1048.3 499.4L1031.5 495.9L1029.5 495.9L1027.4 497.4L1026.3 501.4L1025.2 517.4L1024.5 519.4L1022.4 521.4L1009.5 522.7L985.5 522.6L968.7 523.4L959.8 525.4L948.3 531.4L946.1 533.4L946.2 535.4L947.9 543.4L951.1 553.4L952.0 559.4L951.0 567.4L947.5 577.4L943.5 584.0L939.5 588.5L937.5 589.8L933.0 591.4L919.3 593.4L889.5 595.9L861.5 595.9L825.5 594.3L781.5 591.2L741.5 589.3L701.5 588.3L659.5 588.9L605.5 596.7L599.5 598.0L587.5 602.2L577.5 607.9L569.7 613.4L567.5 613.9L565.5 613.4L563.6 611.4L559.5 603.9L547.5 591.4L541.5 587.3L529.5 582.0L523.5 581.3L509.5 581.8L499.5 580.7L477.5 583.5L461.5 584.6L433.5 578.9L423.5 578.9L421.5 578.4L415.5 573.9L411.5 571.6L401.5 568.0L365.5 562.0L357.5 563.3L321.5 574.1L303.5 578.7L263.5 586.9L239.5 590.5L175.5 597.4L133.5 604.5L127.5 605.0L123.5 604.5L121.2 603.4L111.5 595.8L107.5 593.4L107.5 377.3L113.5 375.4L125.5 370.1L153.5 355.9L157.5 356.4L191.5 368.4L213.5 374.5L215.5 374.2L218.3 371.4L224.8 355.4L227.4 353.4L229.5 352.9L249.5 353.5L257.5 351.3L259.5 351.5L269.5 355.4L275.5 356.5L343.5 363.6L351.5 365.4L356.6 367.4L363.7 373.4L369.9 377.4L374.0 379.4L389.5 385.1L392.2 387.4L396.9 393.4L405.5 398.4L407.5 398.4L409.5 396.8L415.5 387.1L419.5 383.0L425.5 380.4L435.5 378.3L439.5 376.8L443.5 374.2L451.5 366.6L455.5 364.3L459.5 363.9L471.5 364.9L501.7 359.4L527.5 357.2L559.5 355.6L599.5 355.0L637.5 355.9L699.5 360.6L721.5 364.0L777.5 377.0L801.3 381.4L811.5 382.5L821.5 382.6L841.5 379.9L859.5 378.1L883.5 377.6L901.5 376.5L917.5 373.5L941.5 367.5L945.5 367.2L949.5 368.7L955.5 373.4L961.5 376.4L965.5 379.1L967.5 379.5L973.5 377.3L978.1 373.4L979.7 369.4L980.1 363.4L981.3 357.4L983.0 353.4L984.6 351.4L993.8 343.4L997.5 342.0L1003.5 341.7L1005.5 340.9L1007.1 339.4L1010.8 333.4L1014.1 323.4L1017.4 319.4L1023.1 315.4Z" fill="#ff9400" fill-rule="evenodd"/><path d="M1016.7 363.4L1021.5 363.9L1027.5 366.3L1045.5 368.7L1059.5 372.1L1075.5 373.8L1087.1 377.4L1105.8 385.4L1118.4 399.4L1125.5 404.4L1131.4 407.4L1147.5 414.0L1163.5 419.0L1191.5 424.2L1207.5 424.4L1229.5 423.4L1247.5 424.5L1250.1 423.4L1253.5 416.9L1255.5 415.4L1257.5 415.3L1273.5 419.5L1279.5 420.5L1289.5 418.8L1325.5 418.8L1331.5 417.0L1359.5 406.1L1395.5 389.7L1395.5 554.3L1391.7 551.4L1387.9 547.4L1385.3 543.4L1382.5 537.4L1380.5 535.4L1369.9 529.4L1347.5 519.5L1329.5 513.5L1315.5 510.8L1287.5 507.7L1277.5 507.8L1247.5 512.8L1243.5 514.4L1238.2 517.4L1235.7 519.4L1232.1 523.4L1229.0 529.4L1228.5 537.4L1229.7 543.4L1236.0 557.4L1236.5 561.4L1235.2 569.4L1234.0 571.4L1231.9 573.4L1228.9 575.4L1221.5 578.6L1217.3 579.4L1181.5 578.7L1150.8 581.4L1139.5 581.8L1134.8 581.4L1133.5 580.8L1131.5 578.6L1129.6 573.4L1126.8 547.4L1125.6 543.4L1123.5 540.5L1116.0 533.4L1113.9 529.4L1113.8 497.4L1111.8 491.4L1085.5 452.6L1083.5 450.9L1079.5 449.2L1065.5 446.7L1057.5 447.3L1049.5 449.1L1019.5 458.4L1013.5 459.5L995.5 459.6L963.5 457.4L925.5 456.2L871.5 456.7L851.5 457.6L827.5 457.8L817.5 458.5L809.5 460.3L799.5 460.3L796.3 461.4L794.7 463.4L794.8 467.4L797.5 472.3L799.5 474.2L801.5 475.0L805.5 473.9L811.5 469.6L815.5 468.8L845.5 471.6L859.5 471.1L911.5 472.9L967.5 472.8L979.5 471.7L996.0 473.4L999.8 475.4L1003.4 479.4L1005.0 483.4L1006.1 489.4L1005.9 495.4L1003.6 499.4L1001.5 501.4L997.5 503.0L985.5 502.6L979.5 501.6L965.7 497.4L937.5 487.6L925.5 488.1L921.5 489.1L917.2 491.4L908.9 497.4L900.3 505.4L897.5 509.8L894.4 517.4L892.8 523.4L892.4 527.4L892.5 537.4L894.2 555.4L893.8 559.4L892.8 561.4L889.4 565.4L881.5 570.5L875.5 572.3L865.5 573.6L851.5 573.9L735.5 569.6L697.5 569.1L663.5 569.9L637.5 568.3L619.5 569.2L601.5 571.8L585.5 576.1L573.5 581.1L571.5 580.7L566.1 577.4L545.5 567.9L539.5 566.4L515.5 567.3L503.5 566.9L469.0 571.4L461.5 571.9L455.5 571.2L437.5 567.2L429.5 564.7L425.5 561.5L420.9 555.4L415.5 550.1L407.5 546.0L397.5 542.9L379.5 540.9L369.5 542.4L351.5 546.5L305.4 561.4L291.5 565.4L266.3 571.4L244.1 575.4L205.5 580.3L189.5 583.9L157.5 588.0L139.5 591.5L135.5 591.7L133.5 591.1L131.5 589.0L122.7 565.4L119.7 559.4L113.5 552.3L107.5 547.2L107.5 392.9L135.2 381.4L155.5 374.5L159.5 374.5L163.5 375.6L184.9 383.4L189.2 385.4L191.9 387.4L192.8 389.4L192.2 391.4L188.8 395.4L179.1 403.4L177.8 405.4L177.4 407.4L178.8 413.4L183.5 423.8L185.5 427.3L187.5 429.2L189.5 429.2L193.5 425.9L205.5 412.1L210.9 407.4L215.5 405.1L227.5 401.9L237.5 397.8L246.0 391.4L266.5 373.4L271.5 370.5L275.5 369.6L281.5 369.9L319.5 375.1L336.0 375.4L343.5 377.5L355.5 383.1L375.5 387.9L379.1 389.4L382.1 391.4L392.5 401.4L394.1 403.4L397.3 409.4L399.5 412.0L405.5 416.5L407.5 417.5L409.5 417.6L412.2 415.4L419.5 403.9L425.5 398.5L431.5 395.9L443.5 394.3L447.5 393.2L461.5 384.7L469.5 382.6L530.9 373.4L551.5 372.1L577.5 372.4L611.5 375.4L657.5 383.6L681.5 391.5L697.5 396.1L723.5 401.9L797.5 409.8L819.5 410.6L839.5 408.7L859.5 404.2L895.5 392.6L906.6 387.4L921.5 381.8L929.5 380.0L939.5 380.2L951.5 382.2L955.1 383.4L957.5 385.6L961.5 393.3L963.5 395.8L965.5 397.3L967.5 398.0L969.5 397.8L989.5 383.7L995.5 378.2L1003.5 374.4L1011.5 365.5L1013.5 364.2L1016.7 363.4ZM985.5 413.3L985.5 413.8L985.5 413.3Z" fill="#ff6000" fill-rule="evenodd"/><path d="M935.4 391.4L939.5 390.5L945.5 390.9L949.5 392.5L951.5 394.5L953.1 397.4L953.9 401.4L952.6 405.4L949.5 409.0L941.5 412.4L937.5 413.0L931.5 412.2L926.5 409.4L925.2 407.4L924.7 403.4L926.5 397.4L928.0 395.4L930.6 393.4L935.4 391.4ZM278.8 403.4L281.5 403.2L296.9 419.4L299.5 421.5L303.5 422.7L329.5 416.1L337.5 412.9L353.5 404.8L355.5 404.0L357.5 404.1L359.5 405.7L367.5 416.1L379.1 433.4L379.5 435.4L378.5 467.4L379.5 469.4L383.5 470.8L395.5 470.3L403.5 469.0L411.5 466.8L419.5 462.3L423.5 461.2L429.5 461.3L437.5 463.0L441.5 463.2L443.7 461.4L444.4 457.4L440.6 445.4L440.1 441.4L440.4 437.4L442.3 433.4L447.5 426.3L449.5 424.8L453.5 423.8L469.5 422.8L479.5 418.6L483.9 417.4L503.5 415.8L521.5 415.2L529.7 415.4L557.1 417.4L573.5 420.0L629.5 425.7L640.7 429.4L661.5 439.0L665.2 439.4L667.9 441.4L668.8 449.4L669.7 453.4L671.7 457.4L678.0 463.4L683.5 466.9L709.5 471.9L725.5 476.6L775.5 488.0L779.5 489.2L789.5 493.6L812.8 501.4L822.6 507.4L826.5 511.4L828.9 515.4L830.3 519.4L830.3 525.4L828.2 531.4L825.6 535.4L819.5 540.2L810.3 543.4L789.5 546.9L759.5 547.6L731.5 545.9L697.5 544.7L683.5 547.0L661.5 549.5L639.5 546.1L621.5 544.2L599.5 544.0L581.5 544.5L567.5 546.8L557.5 549.8L551.5 550.9L521.5 552.7L507.5 553.0L467.5 558.6L459.5 559.2L447.5 557.2L433.5 553.1L429.0 549.4L422.4 539.4L418.8 535.4L415.5 532.8L407.5 529.0L397.5 525.8L375.3 521.4L363.5 518.3L355.5 517.9L337.5 519.8L320.2 525.4L301.4 529.4L255.5 534.7L241.5 536.9L223.5 540.5L209.5 542.2L199.5 544.6L195.5 546.7L193.5 548.5L178.9 565.4L175.6 567.4L173.5 567.7L161.5 566.3L153.5 566.2L150.6 565.4L149.5 564.4L148.0 561.4L144.9 547.4L142.5 543.4L137.2 539.4L131.5 536.2L111.5 526.2L107.5 524.7L107.5 503.2L161.5 500.9L167.5 499.4L173.5 494.3L182.0 483.4L191.5 478.7L199.5 473.1L211.3 467.4L214.8 465.4L217.1 463.4L218.2 461.4L220.4 453.4L223.5 446.9L226.7 441.4L230.5 437.4L249.5 424.1L257.5 417.2L267.5 407.4L271.5 405.3L278.8 403.4ZM998.6 423.4L1001.5 423.0L1005.5 424.3L1007.5 425.5L1010.7 429.4L1011.3 431.4L1011.1 435.4L1008.8 441.4L1007.0 443.4L1003.9 445.4L997.5 447.6L990.5 447.4L984.8 445.4L982.3 443.4L979.7 439.4L979.6 435.4L981.4 431.4L987.5 427.4L998.6 423.4ZM1257.6 431.4L1261.5 431.6L1289.5 438.1L1297.5 439.0L1321.5 438.6L1337.5 433.2L1345.5 431.2L1348.6 431.4L1353.1 433.4L1355.5 433.9L1369.5 432.1L1371.5 432.1L1374.5 433.4L1391.5 458.0L1395.5 462.8L1395.5 481.3L1364.4 497.4L1358.9 501.4L1358.4 503.4L1367.5 503.9L1395.5 502.9L1395.5 528.1L1389.0 525.4L1367.3 513.4L1361.2 509.4L1355.5 503.9L1341.5 503.6L1335.5 501.7L1330.9 499.4L1301.0 477.4L1287.5 465.9L1281.5 464.7L1259.5 464.3L1239.5 460.1L1229.4 457.4L1225.7 455.4L1223.1 453.4L1221.7 451.4L1221.9 449.4L1224.1 445.4L1228.1 441.4L1231.1 439.4L1243.5 434.4L1257.6 431.4ZM107.5 453.4L107.5 452.5L109.5 454.4L115.7 463.4L117.3 467.4L118.7 475.4L118.4 477.4L117.3 479.4L115.2 481.4L111.5 483.8L107.5 485.4L107.5 453.4ZM1168.4 477.4L1171.5 477.1L1175.5 478.3L1179.5 480.0L1181.5 481.9L1185.5 487.6L1187.4 491.4L1188.8 501.4L1188.3 505.4L1182.3 517.4L1177.5 529.1L1173.5 534.5L1171.5 535.8L1169.5 536.2L1167.1 535.4L1165.6 533.4L1165.0 529.4L1165.9 485.4L1166.9 479.4L1168.4 477.4Z" fill="#ff2d00" fill-rule="evenodd"/><path d="M476.9 513.4L479.5 512.9L485.8 517.4L491.4 519.4L517.5 524.1L521.5 525.3L526.7 529.4L528.2 531.4L528.6 533.4L527.4 535.4L525.5 536.5L519.5 538.1L461.5 545.5L456.8 545.4L453.5 543.5L452.8 541.4L453.3 537.4L455.2 533.4L457.9 529.4L463.5 523.7L476.9 513.4Z" fill="#df0000" fill-rule="evenodd"/><path d="M105.0 60.0L1396.0 60.0L1392.0 130.0L1366.0 131.0L1350.0 112.0L1340.0 115.0L1330.0 117.0L1316.0 122.0L1304.0 129.0L1297.0 135.0L1290.0 145.0L1276.0 154.0L1260.0 163.0L1250.0 167.0L1232.0 174.0L1214.0 175.0L1200.0 178.0L1180.0 183.0L1158.0 189.0L1140.0 185.0L1132.0 193.0L1144.0 211.0L1140.0 227.0L1132.0 243.0L1124.0 251.0L1114.0 253.4L1110.0 251.0L1100.0 250.0L1091.0 252.0L1087.0 256.0L1078.0 262.0L1060.0 262.0L1020.0 250.0L940.0 245.0L870.0 190.0L800.0 185.0L760.0 195.0L745.0 202.0L727.0 204.0L726.0 214.0L710.0 214.0L700.0 208.0L690.0 198.0L686.0 193.0L670.0 193.0L656.0 190.0L650.0 186.0L610.0 192.0L600.0 200.0L585.0 215.0L579.0 235.0L574.0 238.0L564.0 250.0L554.0 260.0L539.0 268.0L528.0 263.0L531.0 259.0L524.0 248.0L516.0 248.0L500.0 232.0L480.0 210.0L450.0 195.0L300.0 185.0L200.0 175.0L170.0 163.0L176.0 156.0L186.0 156.0L198.0 154.0L199.0 146.0L199.0 131.0L186.0 127.0L130.0 126.0L111.0 130.0Z" fill="#fff"/><path d="M111.0 742.0L120.0 750.0L130.0 752.0L146.0 748.0L154.0 752.0L170.0 749.0L190.0 745.0L212.0 743.0L230.0 745.0L250.0 748.0L270.0 748.0L290.0 746.0L310.0 742.0L330.0 739.0L350.0 736.0L370.0 733.0L380.0 732.0L390.0 737.0L404.0 743.0L430.0 743.0L460.0 742.0L480.0 740.0L510.0 741.0L540.0 740.0L554.0 736.0L560.0 731.0L580.0 732.0L610.0 732.0L630.0 735.0L640.0 740.0L644.0 748.0L660.0 753.0L680.0 749.0L700.0 745.0L724.0 741.6L760.0 741.0L772.0 743.0L784.0 746.0L800.0 740.0L824.0 736.0L840.0 737.0L860.0 740.0L876.0 746.0L886.0 752.0L890.0 760.0L910.0 762.0L940.0 764.0L960.0 765.0L980.0 768.0L990.0 774.0L1000.0 782.0L1004.0 786.0L1012.0 786.0L1030.0 787.0L1060.0 775.0L1075.0 760.0L1090.0 748.0L1104.0 738.0L1106.0 736.0L1120.0 737.0L1140.0 733.0L1160.0 732.0L1180.0 731.0L1208.0 730.0L1220.0 732.0L1256.0 734.0L1264.0 744.0L1272.0 754.0L1280.0 757.0L1300.0 755.0L1320.0 752.0L1336.0 748.0L1350.0 740.0L1370.0 738.0L1392.0 740.0L1396.0 865.0L105.0 865.0Z" fill="#fff"/><path d="M136.4 165.8L170.1 165.8L180.8 171.1L180.8 175.5L164.8 182.1L143.5 182.1L136.4 175.5Z" fill="#fff"/><path d="M1415.4 165.8L1449.1 165.8L1459.8 171.1L1459.8 175.5L1443.8 182.1L1422.5 182.1L1415.4 175.5Z" fill="#fff"/><path d="M83.1 194.9L129.3 194.9L129.3 171.1L83.1 171.1Z" fill="#fff"/><path d="M1362.1 194.9L1408.3 194.9L1408.3 171.1L1362.1 171.1Z" fill="#fff"/><path d="M100.8 200.7L132.8 200.7L132.8 194.0L100.8 194.0Z" fill="#fff"/><path d="M1379.8 200.7L1411.8 200.7L1411.8 194.0L1379.8 194.0Z" fill="#fff"/><path d="M521.1 246.0L527.9 246.0L527.9 221.8L520.1 221.8Z" fill="#fff"/><path d="M1800.1 246.0L1806.9 246.0L1806.9 221.8L1799.1 221.8Z" fill="#fff"/><path d="M637.0 786.0L648.0 787.0L660.0 793.0L672.0 796.0L680.0 801.0L700.0 803.0L726.0 803.0L726.0 806.0L660.0 806.0L646.0 804.0L626.0 805.0L630.0 796.0Z" fill="#00009f"/><path d="M1.7 304.2L3.9 303.7L5.5 305.3L7.0 306.8L9.6 306.8L12.0 306.4L15.6 307.3L17.4 306.1L19.1 304.6L22.7 303.7L24.5 302.5L26.2 301.1L28.6 300.8L31.0 300.4L33.3 299.8L35.7 299.9L38.1 300.1L40.4 299.8L42.7 299.4L44.9 299.0L47.2 298.9L50.2 299.3L53.2 299.3L55.3 298.4L57.5 297.6L59.7 298.2L61.8 298.9L60.0 301.5L60.3 304.6L62.1 306.8L60.5 309.0L58.6 310.8L58.6 312.6L62.1 313.9L63.9 316.1L67.1 316.6L70.3 317.0L72.5 317.9L74.8 318.6L77.0 319.6L77.4 322.7L80.1 324.2L83.1 325.3L85.6 326.3L88.1 327.2L90.5 328.4L93.7 325.8L93.6 322.9L93.4 320.0L95.6 319.2L97.7 318.2L99.8 317.0L102.2 317.7L104.7 318.3L106.9 319.7L109.2 321.0L111.5 322.2L114.2 322.7L117.0 323.0L119.7 323.6L122.7 324.8L125.7 326.2L128.2 324.7L130.7 323.1L133.2 322.7L135.3 323.4L137.4 324.0L140.1 324.5L142.8 324.9L144.5 323.6L146.3 320.0L147.4 316.1L148.3 313.9L149.1 311.6L150.2 309.5L149.9 305.5L150.7 302.9L151.3 300.2L149.2 300.7L145.6 299.8L143.1 302.0L139.2 303.3L136.4 301.1L134.1 300.4L131.8 299.8L130.7 302.0L127.8 302.4L125.8 301.2L123.9 299.8L120.0 300.2L119.9 297.5L119.3 294.9L116.1 293.2L118.3 290.1L115.4 287.9L115.8 285.7L118.0 284.7L120.4 283.9L123.0 283.5L125.7 283.5L126.8 280.4L130.3 280.4L134.2 280.8L137.4 278.2L141.0 276.9L144.0 276.9L147.0 276.9L150.9 278.6L154.1 280.4L156.7 280.8L159.1 281.7L161.4 281.2L163.7 281.3L166.2 281.3L168.1 280.1L170.1 279.1L170.8 276.4L169.6 274.4L168.3 272.5L164.8 270.7L162.9 269.5L161.2 268.1L158.3 266.7L155.6 265.0L153.1 262.8L155.9 261.4L157.7 259.2L157.3 256.6L159.6 255.2L161.9 254.0L158.4 254.4L155.9 255.3L153.4 256.2L150.6 257.1L147.7 257.9L147.0 261.0L149.5 261.7L152.0 262.3L150.6 263.6L147.0 264.5L144.6 265.1L142.4 266.3L141.3 265.4L142.1 263.2L138.1 261.9L140.1 260.6L142.1 259.2L139.2 258.6L136.4 258.4L134.1 257.6L131.8 257.0L130.4 258.9L129.0 260.6L128.2 262.8L125.4 265.0L124.9 267.6L124.3 270.3L121.8 273.8L122.2 276.9L123.7 278.4L125.4 280.0L122.2 281.3L118.6 283.0L115.4 284.4L115.1 282.2L112.4 282.0L109.7 281.7L107.2 282.6L109.0 284.8L105.8 286.1L104.0 283.5L103.0 285.7L105.1 289.2L103.7 290.5L106.2 292.3L107.9 293.6L107.9 295.8L104.7 294.9L105.1 297.1L104.7 301.1L102.6 301.1L99.8 299.8L98.9 297.5L97.6 295.4L98.4 293.2L96.2 290.5L94.4 287.4L93.1 285.6L91.6 283.9L91.8 281.3L92.0 278.6L89.8 275.5L87.3 274.1L84.9 272.5L82.1 271.2L79.5 269.8L76.7 267.2L75.8 264.9L74.6 262.8L72.1 264.5L71.0 261.0L68.7 261.8L66.4 262.3L66.6 264.7L66.7 267.2L68.9 268.7L71.0 270.3L72.2 272.6L73.1 275.1L76.7 277.3L79.9 277.3L79.2 279.1L81.0 280.4L83.1 281.3L86.6 283.0L88.4 285.2L87.7 286.6L85.3 285.2L83.1 283.5L81.7 287.0L83.8 290.1L81.3 292.7L79.9 294.9L78.1 294.5L79.2 291.4L80.2 289.6L78.5 285.7L75.3 283.0L73.1 282.2L71.0 281.1L68.9 280.0L66.0 277.7L64.0 276.5L62.1 275.1L60.0 272.5L58.9 268.5L56.6 267.5L54.3 266.3L51.5 268.5L49.3 268.9L47.2 270.7L44.7 272.0L41.5 271.1L39.2 270.8L36.9 270.3L33.7 272.0L33.8 274.7L34.0 277.3L30.5 279.5L28.0 281.1L25.5 282.6L23.9 284.3L22.6 286.2L21.6 288.3L23.4 291.0L20.9 293.2L19.8 296.3L17.9 298.3L15.6 299.8L12.9 300.0L10.2 300.2L7.0 300.2L4.9 301.7L2.8 303.3L1.4 301.5L-0.1 299.8L-2.2 298.0L-5.4 298.9L-8.9 298.9L-8.9 296.7L-8.6 294.5L-11.1 291.0L-10.4 288.3L-8.6 284.8L-8.6 282.6L-8.2 280.4L-8.9 276.4L-10.4 272.5L-6.8 270.3L-4.7 268.9L-1.7 269.4L1.4 269.8L4.0 270.3L6.7 270.7L9.4 270.7L12.0 270.7L16.3 270.7L17.7 268.1L18.4 265.0L18.8 261.0L18.4 258.4L16.5 256.3L14.9 254.0L12.7 252.6L9.9 252.1L7.0 251.3L6.0 248.7L8.9 247.5L12.0 246.9L15.6 247.8L17.0 247.3L16.3 243.4L18.4 243.4L18.8 244.7L23.0 243.8L25.4 242.2L28.0 241.2L28.4 237.7L31.6 236.8L35.1 235.5L36.9 232.8L38.3 230.9L39.4 228.8L41.9 227.1L44.7 226.7L47.6 226.2L51.1 225.8L53.9 224.0L53.2 220.0L51.5 217.4L51.7 215.2L51.5 213.0L53.2 210.3L55.2 208.4L57.5 207.2L60.3 207.7L57.8 209.7L59.3 212.5L61.4 213.4L59.7 215.4L58.2 217.4L57.5 220.5L59.6 221.3L61.4 222.7L65.3 223.1L67.7 221.9L70.3 221.4L71.8 223.0L73.5 224.4L76.5 223.5L79.5 222.7L82.2 221.8L85.0 221.4L87.7 220.5L89.1 222.2L92.7 222.2L95.0 220.3L97.3 218.3L97.4 216.1L97.4 213.9L97.3 211.7L99.1 209.0L103.0 207.7L105.1 210.8L108.3 210.8L108.8 207.9L109.0 205.1L106.2 203.7L105.8 201.1L108.5 201.2L110.8 199.8L113.1 200.3L115.3 200.5L117.6 201.1L119.9 201.4L122.2 199.8L124.7 199.1L127.6 199.5L130.0 198.0L127.7 197.4L125.6 196.7L123.9 194.9L121.4 196.5L118.6 195.4L116.3 196.2L114.1 197.2L111.5 196.7L109.1 197.1L106.5 196.2L104.4 198.0L102.0 197.7L100.5 195.9L98.7 194.5L98.1 192.0L97.0 189.6L98.4 187.0L100.2 185.1L101.3 182.6L103.3 180.8L106.9 181.9L109.2 180.8L109.7 176.9L112.6 174.2L110.4 173.2L108.3 172.0L106.2 173.3L103.9 173.6L101.6 172.9L98.0 173.5L96.5 175.5L97.3 179.1L94.8 181.3L92.4 182.0L89.5 181.9L87.1 182.6L86.3 186.1L85.7 189.0L85.9 192.1L83.8 194.5L84.9 197.2L87.0 198.3L89.8 198.0L87.0 200.7L85.3 203.6L82.0 204.6L83.7 207.9L81.3 210.8L79.5 214.3L77.2 214.3L74.9 214.7L73.1 217.8L68.9 217.8L67.4 214.3L66.3 211.5L65.3 208.6L64.3 205.5L62.5 202.9L60.7 199.3L59.6 200.7L57.1 202.0L55.4 203.8L53.9 205.7L51.1 205.9L47.6 206.4L45.1 204.5L42.6 202.9L42.2 200.1L40.8 197.6L41.8 194.7L41.0 192.0L40.4 189.2L43.0 188.2L44.7 186.1L46.1 183.8L49.3 185.2L51.1 183.6L52.9 182.1L55.2 180.0L58.2 179.1L60.5 178.3L62.4 177.0L64.3 175.7L65.3 173.3L65.9 170.8L64.5 167.1L69.2 167.2L71.6 166.4L73.8 165.4L76.2 163.5L78.8 161.9L76.1 161.6L73.4 160.9L70.6 161.9L73.5 161.0L76.3 160.1L78.1 157.5L80.3 156.4L82.7 158.0L84.9 156.6L87.8 156.6L89.8 154.4L92.4 155.4L95.0 156.4L96.7 153.7L99.0 153.6L100.8 151.7L104.2 152.1L106.9 150.0L109.6 150.7L111.4 146.8L114.3 148.7L117.3 148.0L120.6 144.2L122.9 149.5L125.2 151.1L128.0 151.0L129.6 155.4L133.2 152.2L129.6 151.5L127.5 154.4L130.0 155.3L132.6 154.8L135.3 154.4L137.8 154.9L140.3 156.2L142.8 156.8L145.3 157.5L147.9 157.6L150.6 157.5L152.8 158.2L154.8 159.3L156.9 160.4L158.4 162.6L161.2 161.9L163.0 163.3L165.1 164.2L167.2 164.9L168.7 166.7L167.0 168.5L164.8 169.8L162.4 169.8L160.1 168.3L157.7 170.5L155.3 172.9L152.9 169.4L150.6 169.8L148.4 168.7L146.4 167.4L143.8 167.6L141.4 167.3L139.2 166.3L141.7 166.6L143.1 168.5L143.8 171.2L146.3 171.6L146.6 174.7L146.3 177.7L148.4 178.6L150.5 179.8L152.9 179.6L154.8 181.1L157.3 180.4L156.6 177.0L153.4 175.5L157.7 176.0L160.1 175.5L162.3 176.1L164.6 176.2L166.6 177.7L165.9 174.8L164.1 172.5L167.0 172.3L169.6 171.2L171.9 169.4L174.2 170.4L176.4 171.4L179.0 171.1L178.8 168.5L178.3 165.8L177.7 163.6L176.8 161.5L176.5 159.2L178.9 159.6L181.5 159.3L183.8 160.3L186.1 161.0L188.2 163.2L186.9 165.4L184.3 165.8L186.9 166.5L189.6 165.8L192.1 166.7L194.4 166.0L196.7 165.4L197.9 162.6L200.3 162.3L202.7 162.2L205.1 163.0L207.5 162.7L209.8 161.2L212.1 161.3L214.5 161.4L217.3 161.9L220.0 161.2L222.6 160.3L225.2 159.7L227.4 159.1L229.2 157.6L231.6 157.4L233.7 156.7L235.3 154.6L237.6 154.4L239.4 157.0L241.9 157.0L244.4 157.1L246.9 156.8L249.3 156.6L251.8 156.6L253.8 158.3L255.7 160.1L258.2 159.9L259.7 163.0L263.0 160.4L265.3 161.0L263.4 159.4L262.4 156.9L260.0 155.7L259.3 153.5L259.1 151.3L259.7 149.1L261.9 147.8L263.6 145.7L266.0 144.7L268.2 142.9L269.2 140.3L271.4 138.5L274.0 138.6L276.7 138.6L278.9 140.1L281.3 141.2L281.4 143.6L282.7 146.0L281.4 148.4L280.7 150.7L279.9 153.1L278.8 155.4L280.6 157.9L280.5 160.4L280.0 163.1L282.8 164.6L283.8 166.7L285.4 164.7L285.2 161.8L287.4 160.1L287.1 157.9L288.8 155.7L287.6 153.5L288.1 151.3L287.5 149.1L287.1 146.9L287.4 144.7L289.5 143.8L291.3 142.6L292.7 140.7L295.7 140.3L298.0 141.6L299.8 143.8L302.5 143.9L305.1 143.4L307.6 143.9L310.2 144.1L312.6 144.8L315.1 145.6L316.1 147.6L317.5 149.3L318.6 151.3L320.1 149.0L321.1 146.5L319.1 145.4L318.3 142.7L315.4 142.7L313.6 141.4L311.8 140.0L310.5 138.1L312.9 137.5L315.5 139.5L317.8 137.7L320.3 138.3L322.7 137.8L325.2 137.6L327.6 137.3L330.0 136.3L331.9 134.9L333.6 133.0L335.8 132.1L337.9 131.0L339.9 129.6L342.4 129.3L344.6 128.7L346.9 128.5L349.1 128.5L351.3 127.9L353.7 128.4L355.9 128.3L358.4 130.1L360.2 126.6L362.4 126.7L364.5 124.8L366.8 124.9L368.9 124.4L371.3 125.2L373.6 126.6L375.6 123.5L378.0 124.9L380.6 125.3L382.6 124.3L385.0 123.9L386.8 122.2L388.9 121.3L390.8 119.7L393.2 119.6L395.6 120.4L398.2 120.5L400.8 120.7L402.8 122.7L405.2 123.1L407.5 124.1L410.1 121.0L412.3 123.8L414.6 124.7L417.0 124.0L419.3 124.8L421.5 126.0L423.6 127.1L425.9 128.0L425.6 131.2L422.7 132.1L420.6 133.7L418.6 135.0L416.5 136.1L414.6 137.9L412.1 137.9L409.3 136.5L407.7 139.2L405.3 139.5L402.8 139.4L404.9 138.7L407.1 138.3L409.0 136.6L411.7 138.1L413.5 136.3L416.0 136.8L418.4 137.4L420.8 138.2L423.2 139.1L425.9 138.1L428.1 138.3L430.4 138.2L432.6 138.8L434.8 136.4L437.0 139.2L439.2 137.9L441.5 135.7L443.7 138.1L446.3 139.4L449.0 140.3L451.7 143.0L454.3 140.7L457.0 140.5L459.7 140.3L463.6 141.2L463.2 137.2L466.0 136.5L468.6 137.5L471.4 135.7L473.9 138.1L476.2 139.1L478.4 140.7L481.0 141.2L482.8 145.1L484.4 146.9L487.0 147.6L488.1 150.0L491.6 151.5L492.9 148.2L495.2 146.9L497.6 146.9L499.9 146.8L502.2 149.1L504.6 148.8L507.1 146.8L509.4 147.3L511.6 147.1L513.8 146.2L516.1 146.7L518.3 146.9L520.4 145.3L520.3 142.0L522.9 140.7L524.5 143.3L527.2 144.7L529.6 144.5L532.0 144.5L534.3 144.1L536.6 142.9L539.2 145.0L541.4 142.9L543.8 143.5L546.1 144.4L548.4 145.5L550.7 146.5L553.2 146.5L555.6 147.3L557.6 148.9L560.1 148.2L562.2 149.1L564.5 149.5L567.0 149.3L569.4 149.1L572.0 149.3L574.4 148.8L576.9 148.7L579.6 148.9L582.3 148.6L584.9 149.4L587.6 150.0L590.1 150.3L591.4 152.2L593.4 153.3L594.7 155.3L597.3 155.1L599.9 152.4L602.7 155.9L605.3 154.8L607.8 155.1L610.3 153.0L612.8 154.7L615.3 155.2L617.8 154.4L619.8 156.3L622.9 156.0L624.9 157.9L625.6 154.5L628.8 153.1L631.7 153.3L634.5 153.7L637.3 154.4L640.0 154.8L642.6 154.8L645.3 155.9L648.0 154.4L650.4 154.7L652.7 155.7L655.2 155.9L657.3 157.6L659.7 158.0L662.2 158.4L664.9 157.7L667.3 157.9L669.3 160.1L671.2 161.9L673.3 163.0L674.8 165.6L678.2 164.1L680.5 165.2L683.0 165.7L685.6 165.6L687.8 167.8L690.6 166.7L692.3 168.3L694.4 169.2L696.9 169.3L698.8 170.7L696.5 172.2L694.2 173.3L692.8 175.3L691.2 176.7L688.5 176.9L687.0 178.6L684.8 178.0L682.9 176.5L680.4 176.2L678.2 175.5L676.4 173.8L673.8 174.4L671.5 174.3L669.7 172.6L667.7 171.5L665.7 170.3L663.2 172.4L662.2 175.5L660.4 179.1L657.7 176.0L655.6 176.9L653.3 176.9L654.4 178.9L655.3 181.1L657.2 182.6L658.1 185.2L659.7 187.4L657.5 187.7L655.3 188.2L653.6 191.2L650.8 187.9L648.6 187.9L646.5 188.8L644.4 189.6L641.6 190.3L638.9 191.3L636.6 193.2L634.4 194.4L632.5 196.2L630.4 197.6L627.7 198.0L625.5 197.1L623.1 197.0L620.7 197.2L618.3 196.6L616.0 196.2L613.6 196.8L611.3 197.3L608.9 197.6L606.1 197.6L603.6 198.4L602.6 201.2L602.8 204.2L600.4 205.5L598.2 207.3L600.3 208.0L602.5 208.6L601.1 212.1L602.8 214.3L600.6 215.6L598.7 217.2L597.5 219.6L598.6 220.9L596.3 222.4L593.7 223.1L591.1 224.0L591.1 227.5L588.9 228.3L586.5 228.8L585.9 231.1L585.1 233.3L583.3 234.8L580.9 235.7L579.4 237.7L577.6 234.6L577.7 231.9L576.9 229.3L576.1 226.9L575.9 224.3L575.5 221.8L576.1 219.6L575.7 217.4L575.5 215.2L577.3 213.6L578.3 211.5L579.4 209.5L581.5 208.6L583.2 207.2L584.7 205.5L586.6 203.5L588.5 201.7L590.4 199.8L592.6 198.1L595.4 197.6L597.5 195.8L599.2 193.8L601.6 192.9L603.9 191.8L605.3 189.3L607.1 187.0L604.8 186.4L602.5 187.0L600.0 190.5L597.3 190.5L594.8 189.8L592.2 189.2L589.4 189.0L586.7 189.4L584.0 190.1L581.7 190.2L579.4 191.0L578.4 193.2L576.6 194.7L574.7 196.1L573.4 198.0L570.9 199.8L568.6 200.1L566.5 200.9L564.5 202.0L561.9 200.6L559.1 199.8L556.8 200.0L554.4 199.4L552.0 199.3L549.4 199.6L546.7 199.5L544.0 199.0L541.4 200.2L538.7 200.8L536.1 201.5L533.4 201.4L530.7 200.7L528.2 201.4L525.6 202.3L523.6 204.2L521.8 205.5L519.8 206.4L518.2 208.0L516.5 209.5L514.6 211.3L513.6 213.8L511.2 215.2L509.0 216.2L507.2 217.7L505.3 219.1L503.4 220.5L505.5 221.4L507.7 222.4L509.4 224.0L512.1 224.2L514.7 224.9L517.0 223.8L519.4 223.1L521.1 224.8L523.2 226.1L525.0 227.5L524.3 231.5L522.9 233.8L522.2 236.3L522.4 239.1L521.5 241.6L521.6 244.1L521.1 246.5L519.8 248.4L518.4 250.1L517.2 252.1L515.8 254.0L514.4 255.8L513.0 257.5L511.3 259.3L509.4 261.0L507.5 263.1L505.9 265.4L504.2 267.7L502.3 269.8L500.2 271.2L498.0 272.4L495.9 273.8L493.8 272.7L491.6 271.6L489.3 273.3L487.0 275.1L485.5 276.9L483.8 278.6L483.5 281.7L481.4 283.8L479.2 285.7L476.0 286.6L475.7 288.8L477.4 290.2L478.9 291.8L479.8 293.9L481.0 295.8L482.4 298.9L482.5 301.1L482.8 303.3L481.7 306.8L479.2 308.1L476.4 309.0L474.2 309.9L472.1 310.8L472.2 308.1L471.8 305.5L472.1 302.0L471.0 299.8L473.2 298.9L472.5 296.3L469.6 295.5L466.8 294.5L466.1 293.6L467.5 291.4L467.5 287.9L464.6 285.7L462.2 286.4L459.7 287.0L458.0 288.4L456.1 289.6L453.3 291.0L454.7 288.3L455.9 285.9L456.8 283.5L454.7 283.0L452.6 282.2L450.5 284.2L448.3 286.1L446.7 287.7L445.1 289.2L441.2 290.1L440.8 292.3L442.9 293.8L445.1 294.9L445.5 297.6L448.7 297.6L451.9 295.4L454.0 295.9L456.1 296.8L458.3 297.1L457.5 299.3L455.0 299.8L452.6 300.7L450.1 303.3L447.6 305.9L446.2 308.6L448.3 309.7L450.1 311.2L451.2 313.9L452.2 316.5L453.3 318.5L454.5 320.4L455.8 322.2L455.8 325.8L453.6 326.9L451.5 328.0L454.3 329.7L456.5 330.2L455.6 332.3L455.3 334.6L454.7 336.8L451.9 339.0L450.7 341.1L449.4 343.2L447.9 345.2L447.6 348.2L445.8 350.4L444.0 352.6L442.3 354.4L440.7 356.1L439.3 358.0L437.3 359.3L435.1 360.4L433.0 361.9L430.7 362.8L428.4 363.7L425.9 364.1L422.9 365.4L419.9 366.7L417.5 367.5L415.3 368.5L414.6 372.5L412.4 369.8L412.1 367.2L409.8 366.7L407.4 366.3L405.2 367.9L402.8 369.4L401.8 370.7L400.8 372.8L399.8 374.9L398.6 376.9L398.6 379.5L399.9 381.5L401.1 383.5L402.3 385.4L403.5 387.4L405.3 389.2L407.1 391.0L409.6 394.5L409.9 396.7L410.4 398.9L410.6 401.1L411.1 403.3L411.4 405.5L410.6 409.5L409.3 411.3L407.7 412.9L406.4 414.8L403.2 416.1L401.8 419.6L399.5 421.4L397.1 423.1L394.7 424.0L395.4 420.0L396.1 417.8L393.6 416.1L390.7 415.2L389.8 413.1L388.6 411.2L387.2 408.2L384.0 405.9L381.2 402.9L379.7 402.4L378.0 403.3L377.6 406.8L377.1 409.7L376.5 412.6L375.1 416.1L375.1 418.5L375.1 420.9L377.6 420.9L379.0 424.9L379.4 427.6L380.1 430.2L382.9 431.9L386.1 434.6L387.7 436.2L389.0 438.1L390.0 442.1L390.2 444.3L390.0 446.5L391.5 450.4L392.2 453.1L393.2 455.7L390.4 456.2L388.7 454.6L386.8 453.1L384.8 451.2L382.9 449.1L381.5 446.8L380.4 444.3L379.8 441.2L379.0 438.1L379.1 435.9L379.0 433.7L376.9 431.1L375.5 428.4L372.3 427.1L371.9 423.1L372.3 420.9L372.6 418.7L372.9 416.5L372.9 414.3L373.1 412.1L373.3 409.9L373.0 407.3L372.4 404.2L371.6 401.1L371.0 398.9L370.5 396.7L369.8 394.5L369.7 391.8L369.4 389.2L368.2 387.3L366.6 385.7L364.5 389.2L361.6 392.3L357.7 391.9L358.2 389.5L358.4 387.2L358.4 384.8L357.8 382.0L357.7 379.1L356.6 377.0L355.2 375.1L352.7 372.9L351.3 370.2L349.5 367.6L348.8 363.7L346.7 362.3L344.2 364.1L340.7 365.9L338.3 366.0L336.0 366.3L333.8 366.8L331.8 367.6L331.4 370.1L330.7 372.5L327.5 374.7L324.7 376.9L323.1 379.1L321.5 381.3L318.6 383.9L316.7 385.7L315.1 387.9L313.1 389.8L311.2 391.9L309.2 393.2L307.3 394.5L307.3 398.0L307.7 401.1L308.0 404.2L307.2 407.1L306.2 409.9L306.3 412.1L306.2 414.3L306.5 416.5L305.1 418.2L303.4 419.6L303.7 421.4L300.5 423.1L298.0 426.2L295.9 424.5L294.8 421.4L293.8 418.3L293.0 415.2L292.0 412.1L291.0 410.1L289.8 408.2L288.4 405.1L287.8 402.6L287.0 400.2L285.9 396.7L284.9 393.6L284.3 391.4L283.8 389.2L283.1 387.0L282.9 384.2L282.2 381.4L281.7 378.6L281.4 376.2L281.0 373.8L281.0 371.4L281.0 368.9L280.5 366.5L280.3 364.1L279.4 366.3L278.8 368.5L276.8 369.7L274.6 370.7L272.4 369.8L270.0 366.7L267.8 363.7L270.1 362.1L272.4 360.6L269.2 361.5L266.4 359.3L264.4 357.7L262.5 356.2L260.7 352.6L259.3 350.4L256.9 350.7L254.6 351.0L252.2 350.9L248.3 350.9L244.0 351.3L241.0 351.0L238.0 350.4L235.1 350.3L232.3 350.0L228.0 349.1L226.7 346.8L225.2 344.7L222.7 342.5L220.4 343.3L218.1 344.3L215.8 344.1L213.5 344.3L211.6 342.6L209.6 341.2L205.6 339.4L204.0 337.2L203.2 334.6L201.4 331.1L198.5 329.3L196.1 328.4L193.2 330.2L193.2 332.8L194.6 336.3L196.1 339.9L198.9 342.9L200.7 345.6L201.0 348.7L202.0 350.7L203.2 352.6L203.2 349.6L204.6 346.9L206.0 350.4L205.3 354.4L209.2 355.3L212.8 355.7L216.0 354.0L217.7 352.3L219.1 350.4L221.6 347.4L223.1 345.6L223.3 348.7L223.1 351.8L224.1 354.4L226.1 355.9L228.0 357.5L230.9 357.9L233.2 360.2L235.1 362.8L234.1 365.1L233.4 367.6L232.0 369.9L230.5 372.0L229.8 374.1L228.6 376.0L228.0 378.2L226.0 380.3L223.8 382.2L221.2 383.3L218.8 384.8L216.7 385.6L214.9 387.0L211.3 388.8L209.9 391.1L208.1 393.2L206.0 394.0L203.9 394.9L201.6 396.0L199.4 397.2L197.1 398.0L195.1 399.1L193.2 400.2L190.5 401.4L187.9 402.9L185.3 404.3L182.6 405.5L179.9 405.5L177.2 405.9L176.2 403.3L175.9 401.1L175.7 398.9L175.1 396.7L174.8 394.1L174.7 391.4L173.7 387.4L172.4 384.9L170.8 382.6L169.9 380.1L168.7 377.8L166.8 375.3L165.5 372.5L163.5 369.9L161.9 367.2L161.5 365.0L161.2 362.8L160.0 360.5L159.4 358.0L158.0 355.7L156.3 353.8L154.8 351.8L153.5 349.4L152.4 346.9L150.8 344.0L149.2 341.2L147.6 339.6L146.0 338.1L146.5 335.0L147.0 331.9L146.2 334.4L145.5 337.0L144.5 339.4L142.1 337.2L140.9 334.9L139.7 332.5L138.5 330.2L139.0 333.0L139.6 335.9L141.2 338.7L142.8 341.6L143.7 344.3L144.5 346.9L145.7 349.5L146.7 352.2L148.1 354.4L149.5 356.6L148.8 360.1L150.2 361.9L151.7 363.6L153.4 365.0L154.2 367.2L154.8 369.4L154.8 372.5L154.8 375.6L155.6 379.1L157.3 380.9L159.1 382.6L160.2 385.2L161.2 387.9L162.2 390.5L162.7 393.2L165.1 395.8L167.0 397.1L169.1 398.0L170.3 400.1L171.9 401.8L173.3 403.7L175.0 405.5L176.5 407.3L176.2 410.8L177.4 413.3L179.0 415.6L182.6 416.1L184.9 415.0L187.2 413.8L189.7 413.0L191.9 412.6L194.2 412.6L196.4 412.1L200.3 411.2L202.7 410.7L204.9 409.9L204.4 412.8L204.2 415.6L203.6 418.0L203.2 420.5L202.1 423.4L200.7 426.2L199.3 428.4L198.6 430.9L197.5 433.3L196.3 436.2L194.6 439.0L193.2 441.0L191.8 443.1L190.4 445.2L189.0 447.1L187.9 449.1L186.0 451.4L183.6 453.1L182.0 454.8L180.2 456.5L178.3 457.9L177.0 460.0L175.3 461.8L173.7 463.7L172.6 465.8L171.3 467.8L170.1 469.8L168.0 472.0L166.6 474.0L165.1 476.0L163.7 480.0L162.7 482.2L161.6 484.4L161.2 486.8L160.5 489.2L162.7 492.3L162.6 495.2L162.3 498.0L163.4 501.5L163.8 503.7L163.7 506.0L166.2 507.7L166.3 510.1L166.6 512.6L166.4 515.6L166.6 518.7L167.0 521.1L167.2 523.4L167.6 525.8L167.3 528.0L166.0 530.6L164.8 533.3L162.8 535.2L160.9 537.2L158.7 538.6L156.6 540.0L154.1 540.8L152.8 542.7L151.6 544.7L149.9 546.1L148.1 547.4L146.7 549.1L146.0 552.7L146.9 554.7L148.1 556.6L148.8 559.3L148.9 561.9L148.5 564.5L148.8 567.2L147.7 570.3L144.6 571.4L141.7 572.9L138.9 576.0L139.1 578.2L139.6 580.4L139.2 582.9L138.5 585.3L136.7 588.8L134.8 591.2L132.8 593.6L131.2 596.1L130.0 598.9L127.9 601.4L125.7 603.8L123.6 605.4L121.8 607.3L119.7 608.4L117.9 609.9L114.0 611.7L110.8 612.6L108.3 611.9L105.8 611.7L103.5 612.0L101.2 612.6L98.7 613.5L96.3 614.6L93.7 615.2L91.6 614.4L89.5 613.5L88.1 612.6L88.1 611.2L86.3 607.3L87.7 604.2L86.3 600.2L85.2 598.3L84.1 596.3L83.5 593.6L82.7 591.0L81.3 587.9L80.0 585.6L78.5 583.5L77.8 581.2L76.7 579.1L76.5 576.7L76.3 574.3L75.6 572.0L75.3 569.8L75.0 567.6L74.4 565.5L74.2 563.2L73.0 560.2L72.1 557.1L71.4 555.0L70.5 552.9L69.6 550.9L68.5 547.8L67.4 544.7L66.5 542.5L65.5 540.3L64.6 538.1L64.7 535.3L64.6 532.4L65.7 528.9L66.5 526.0L67.1 523.1L68.0 521.0L69.2 519.0L70.3 517.0L71.1 514.1L71.7 511.2L71.0 508.8L70.7 506.3L70.3 503.8L69.6 500.7L69.1 498.0L68.9 495.4L67.9 493.2L67.3 491.0L66.4 488.8L66.2 486.3L65.7 483.9L64.6 482.6L62.1 479.1L60.1 476.7L58.2 474.2L57.1 472.3L56.2 470.3L55.7 468.1L53.9 465.0L55.1 462.8L56.1 460.6L57.1 457.1L57.5 454.4L57.5 451.8L57.4 449.4L57.5 447.1L57.1 444.7L54.3 442.1L52.5 442.1L50.0 442.3L47.6 442.5L44.0 443.0L42.4 440.1L40.8 437.2L38.3 434.1L34.8 433.7L31.2 434.1L26.9 435.0L24.8 436.0L22.7 437.2L19.1 439.0L15.6 440.8L12.0 439.4L8.5 438.6L5.8 439.2L3.1 439.4L0.6 440.2L-1.7 441.2L-4.0 442.5L-6.6 441.2L-9.3 439.9L-11.3 437.8L-13.5 436.0L-15.7 434.1L-18.2 431.5L-20.0 430.2L-21.7 428.9L-22.9 426.6L-24.2 424.5L-25.4 422.4L-26.0 420.0L-27.7 417.6L-29.5 415.2L-31.0 412.5L-32.7 409.9L-34.8 408.4L-37.0 407.3L-36.9 405.1L-36.7 402.9L-38.3 400.1L-39.5 397.1L-38.2 395.3L-37.0 393.4L-35.9 391.4L-35.3 389.1L-34.7 386.9L-34.5 384.5L-34.2 382.2L-35.1 379.3L-35.9 376.4L-34.9 372.9L-37.9 370.3L-37.6 368.1L-37.4 365.9L-36.5 363.8L-35.5 361.8L-34.8 359.6L-34.2 357.5L-32.7 355.7L-31.7 353.6L-30.3 351.8L-29.6 349.3L-28.8 346.9L-27.5 344.4L-26.0 342.0L-24.2 339.9L-23.2 338.8L-21.0 337.5L-18.9 336.2L-16.8 335.0L-13.6 332.4L-12.3 330.3L-11.4 328.0L-11.6 325.5L-12.1 323.1L-10.8 321.1L-10.0 318.7L-7.5 315.2L-4.3 313.9L-1.5 312.1L-0.4 309.7L0.7 307.3ZM1280.7 304.2L1282.9 303.7L1284.5 305.3L1286.0 306.8L1288.6 306.8L1291.0 306.4L1294.6 307.3L1296.4 306.1L1298.1 304.6L1301.7 303.7L1303.5 302.5L1305.2 301.1L1307.6 300.8L1310.0 300.4L1312.3 299.8L1314.7 299.9L1317.1 300.1L1319.4 299.8L1321.7 299.4L1323.9 299.0L1326.2 298.9L1329.2 299.3L1332.2 299.3L1334.3 298.4L1336.5 297.6L1338.7 298.2L1340.8 298.9L1339.0 301.5L1339.3 304.6L1341.1 306.8L1339.5 309.0L1337.6 310.8L1337.6 312.6L1341.1 313.9L1342.9 316.1L1346.1 316.6L1349.3 317.0L1351.5 317.9L1353.8 318.6L1356.0 319.6L1356.4 322.7L1359.1 324.2L1362.1 325.3L1364.6 326.3L1367.1 327.2L1369.5 328.4L1372.7 325.8L1372.6 322.9L1372.4 320.0L1374.6 319.2L1376.7 318.2L1378.8 317.0L1381.2 317.7L1383.7 318.3L1385.9 319.7L1388.2 321.0L1390.5 322.2L1393.2 322.7L1396.0 323.0L1398.7 323.6L1401.7 324.8L1404.7 326.2L1407.2 324.7L1409.7 323.1L1412.2 322.7L1414.3 323.4L1416.4 324.0L1419.1 324.5L1421.8 324.9L1423.5 323.6L1425.3 320.0L1426.4 316.1L1427.3 313.9L1428.1 311.6L1429.2 309.5L1428.9 305.5L1429.7 302.9L1430.3 300.2L1428.2 300.7L1424.6 299.8L1422.1 302.0L1418.2 303.3L1415.4 301.1L1413.1 300.4L1410.8 299.8L1409.7 302.0L1406.8 302.4L1404.8 301.2L1402.9 299.8L1399.0 300.2L1398.9 297.5L1398.3 294.9L1395.1 293.2L1397.3 290.1L1394.4 287.9L1394.8 285.7L1397.0 284.7L1399.4 283.9L1402.0 283.5L1404.7 283.5L1405.8 280.4L1409.3 280.4L1413.2 280.8L1416.4 278.2L1420.0 276.9L1423.0 276.9L1426.0 276.9L1429.9 278.6L1433.1 280.4L1435.7 280.8L1438.1 281.7L1440.4 281.2L1442.7 281.3L1445.2 281.3L1447.1 280.1L1449.1 279.1L1449.8 276.4L1448.6 274.4L1447.3 272.5L1443.8 270.7L1441.9 269.5L1440.2 268.1L1437.3 266.7L1434.6 265.0L1432.1 262.8L1434.9 261.4L1436.7 259.2L1436.3 256.6L1438.6 255.2L1440.9 254.0L1437.4 254.4L1434.9 255.3L1432.4 256.2L1429.6 257.1L1426.7 257.9L1426.0 261.0L1428.5 261.7L1431.0 262.3L1429.6 263.6L1426.0 264.5L1423.6 265.1L1421.4 266.3L1420.3 265.4L1421.1 263.2L1417.1 261.9L1419.1 260.6L1421.1 259.2L1418.2 258.6L1415.4 258.4L1413.1 257.6L1410.8 257.0L1409.4 258.9L1408.0 260.6L1407.2 262.8L1404.4 265.0L1403.9 267.6L1403.3 270.3L1400.8 273.8L1401.2 276.9L1402.7 278.4L1404.4 280.0L1401.2 281.3L1397.6 283.0L1394.4 284.4L1394.1 282.2L1391.4 282.0L1388.7 281.7L1386.2 282.6L1388.0 284.8L1384.8 286.1L1383.0 283.5L1382.0 285.7L1384.1 289.2L1382.7 290.5L1385.2 292.3L1386.9 293.6L1386.9 295.8L1383.7 294.9L1384.1 297.1L1383.7 301.1L1381.6 301.1L1378.8 299.8L1377.9 297.5L1376.6 295.4L1377.4 293.2L1375.2 290.5L1373.4 287.4L1372.1 285.6L1370.6 283.9L1370.8 281.3L1371.0 278.6L1368.8 275.5L1366.3 274.1L1363.9 272.5L1361.1 271.2L1358.5 269.8L1355.7 267.2L1354.8 264.9L1353.6 262.8L1351.1 264.5L1350.0 261.0L1347.7 261.8L1345.4 262.3L1345.6 264.7L1345.7 267.2L1347.9 268.7L1350.0 270.3L1351.2 272.6L1352.1 275.1L1355.7 277.3L1358.9 277.3L1358.2 279.1L1360.0 280.4L1362.1 281.3L1365.6 283.0L1367.4 285.2L1366.7 286.6L1364.3 285.2L1362.1 283.5L1360.7 287.0L1362.8 290.1L1360.3 292.7L1358.9 294.9L1357.1 294.5L1358.2 291.4L1359.2 289.6L1357.5 285.7L1354.3 283.0L1352.1 282.2L1350.0 281.1L1347.9 280.0L1345.0 277.7L1343.0 276.5L1341.1 275.1L1339.0 272.5L1337.9 268.5L1335.6 267.5L1333.3 266.3L1330.5 268.5L1328.3 268.9L1326.2 270.7L1323.7 272.0L1320.5 271.1L1318.2 270.8L1315.9 270.3L1312.7 272.0L1312.8 274.7L1313.0 277.3L1309.5 279.5L1307.0 281.1L1304.5 282.6L1302.9 284.3L1301.6 286.2L1300.6 288.3L1302.4 291.0L1299.9 293.2L1298.8 296.3L1296.9 298.3L1294.6 299.8L1291.9 300.0L1289.2 300.2L1286.0 300.2L1283.9 301.7L1281.8 303.3L1280.4 301.5L1278.9 299.8L1276.8 298.0L1273.6 298.9L1270.1 298.9L1270.1 296.7L1270.4 294.5L1267.9 291.0L1268.6 288.3L1270.4 284.8L1270.4 282.6L1270.8 280.4L1270.1 276.4L1268.6 272.5L1272.2 270.3L1274.3 268.9L1277.3 269.4L1280.4 269.8L1283.0 270.3L1285.7 270.7L1288.4 270.7L1291.0 270.7L1295.3 270.7L1296.7 268.1L1297.4 265.0L1297.8 261.0L1297.4 258.4L1295.5 256.3L1293.9 254.0L1291.7 252.6L1288.9 252.1L1286.0 251.3L1285.0 248.7L1287.9 247.5L1291.0 246.9L1294.6 247.8L1296.0 247.3L1295.3 243.4L1297.4 243.4L1297.8 244.7L1302.0 243.8L1304.4 242.2L1307.0 241.2L1307.4 237.7L1310.6 236.8L1314.1 235.5L1315.9 232.8L1317.3 230.9L1318.4 228.8L1320.9 227.1L1323.7 226.7L1326.5 226.2L1330.1 225.8L1332.9 224.0L1332.2 220.0L1330.5 217.4L1330.7 215.2L1330.5 213.0L1332.2 210.3L1334.2 208.4L1336.5 207.2L1339.3 207.7L1336.8 209.7L1338.3 212.5L1340.4 213.4L1338.7 215.4L1337.2 217.4L1336.5 220.5L1338.6 221.3L1340.4 222.7L1344.3 223.1L1346.7 221.9L1349.3 221.4L1350.8 223.0L1352.5 224.4L1355.5 223.5L1358.5 222.7L1361.2 221.8L1364.0 221.4L1366.7 220.5L1368.1 222.2L1371.7 222.2L1374.0 220.3L1376.3 218.3L1376.4 216.1L1376.4 213.9L1376.3 211.7L1378.1 209.0L1382.0 207.7L1384.1 210.8L1387.3 210.8L1387.8 207.9L1388.0 205.1L1385.2 203.7L1384.8 201.1L1387.5 201.2L1389.8 199.8L1392.1 200.3L1394.3 200.5L1396.6 201.1L1398.9 201.4L1401.2 199.8L1403.7 199.1L1406.6 199.5L1409.0 198.0L1406.7 197.4L1404.6 196.7L1402.9 194.9L1400.4 196.5L1397.6 195.4L1395.3 196.2L1393.1 197.2L1390.5 196.7L1388.1 197.1L1385.5 196.2L1383.4 198.0L1381.0 197.7L1379.5 195.9L1377.7 194.5L1377.1 192.0L1376.0 189.6L1377.4 187.0L1379.2 185.1L1380.3 182.6L1382.3 180.8L1385.9 181.9L1388.2 180.8L1388.7 176.9L1391.6 174.2L1389.4 173.2L1387.3 172.0L1385.2 173.3L1382.9 173.6L1380.6 172.9L1377.0 173.5L1375.5 175.5L1376.3 179.1L1373.8 181.3L1371.4 182.0L1368.5 181.9L1366.1 182.6L1365.3 186.1L1364.7 189.0L1364.9 192.1L1362.8 194.5L1363.9 197.2L1366.0 198.3L1368.8 198.0L1366.0 200.7L1364.3 203.6L1361.0 204.6L1362.7 207.9L1360.3 210.8L1358.5 214.3L1356.2 214.3L1353.9 214.7L1352.1 217.8L1347.9 217.8L1346.4 214.3L1345.3 211.5L1344.3 208.6L1343.3 205.5L1341.5 202.9L1339.7 199.3L1338.6 200.7L1336.1 202.0L1334.4 203.8L1332.9 205.7L1330.1 205.9L1326.5 206.4L1324.1 204.5L1321.6 202.9L1321.2 200.1L1319.8 197.6L1320.8 194.7L1320.0 192.0L1319.4 189.2L1322.0 188.2L1323.7 186.1L1325.1 183.8L1328.3 185.2L1330.1 183.6L1331.9 182.1L1334.2 180.0L1337.2 179.1L1339.5 178.3L1341.4 177.0L1343.3 175.7L1344.3 173.3L1344.9 170.8L1343.5 167.1L1348.2 167.2L1350.6 166.4L1352.8 165.4L1355.2 163.5L1357.8 161.9L1355.1 161.6L1352.4 160.9L1349.6 161.9L1352.5 161.0L1355.3 160.1L1357.1 157.5L1359.3 156.4L1361.7 158.0L1363.9 156.6L1366.8 156.6L1368.8 154.4L1371.4 155.4L1374.0 156.4L1375.7 153.7L1378.0 153.6L1379.8 151.7L1383.2 152.1L1385.9 150.0L1388.6 150.7L1390.4 146.8L1393.3 148.7L1396.3 148.0L1399.6 144.2L1401.9 149.5L1404.2 151.1L1407.0 151.0L1408.6 155.4L1412.2 152.2L1408.6 151.5L1406.5 154.4L1409.0 155.3L1411.6 154.8L1414.3 154.4L1416.8 154.9L1419.3 156.2L1421.8 156.8L1424.3 157.5L1426.9 157.6L1429.6 157.5L1431.8 158.2L1433.8 159.3L1435.9 160.4L1437.4 162.6L1440.2 161.9L1442.0 163.3L1444.1 164.2L1446.2 164.9L1447.7 166.7L1446.0 168.5L1443.8 169.8L1441.4 169.8L1439.1 168.3L1436.7 170.5L1434.3 172.9L1431.9 169.4L1429.6 169.8L1427.4 168.7L1425.4 167.4L1422.8 167.6L1420.4 167.3L1418.2 166.3L1420.7 166.6L1422.1 168.5L1422.8 171.2L1425.3 171.6L1425.6 174.7L1425.3 177.7L1427.4 178.6L1429.5 179.8L1431.9 179.6L1433.8 181.1L1436.3 180.4L1435.6 177.0L1432.4 175.5L1436.7 176.0L1439.1 175.5L1441.3 176.1L1443.6 176.2L1445.6 177.7L1444.9 174.8L1443.1 172.5L1446.0 172.3L1448.6 171.2L1450.9 169.4L1453.2 170.4L1455.4 171.4L1458.0 171.1L1457.8 168.5L1457.3 165.8L1456.7 163.6L1455.8 161.5L1455.5 159.2L1457.9 159.6L1460.5 159.3L1462.8 160.3L1465.1 161.0L1467.2 163.2L1465.9 165.4L1463.3 165.8L1465.9 166.5L1468.6 165.8L1471.1 166.7L1473.4 166.0L1475.7 165.4L1476.9 162.6L1479.3 162.3L1481.7 162.2L1484.1 163.0L1486.5 162.7L1488.8 161.2L1491.1 161.3L1493.5 161.4L1496.3 161.9L1499.0 161.2L1501.6 160.3L1504.2 159.7L1506.4 159.1L1508.2 157.6L1510.6 157.4L1512.7 156.7L1514.3 154.6L1516.6 154.4L1518.4 157.0L1520.9 157.0L1523.4 157.1L1525.9 156.8L1528.3 156.6L1530.8 156.6L1532.8 158.3L1534.7 160.1L1537.2 159.9L1538.7 163.0L1542.0 160.4L1544.3 161.0L1542.4 159.4L1541.4 156.9L1539.0 155.7L1538.3 153.5L1538.1 151.3L1538.7 149.1L1540.9 147.8L1542.6 145.7L1545.0 144.7L1547.2 142.9L1548.2 140.3L1550.4 138.5L1553.0 138.6L1555.7 138.6L1557.9 140.1L1560.3 141.2L1560.4 143.6L1561.7 146.0L1560.4 148.4L1559.7 150.7L1558.9 153.1L1557.8 155.4L1559.6 157.9L1559.5 160.4L1559.0 163.1L1561.8 164.6L1562.8 166.7L1564.4 164.7L1564.2 161.8L1566.4 160.1L1566.1 157.9L1567.8 155.7L1566.6 153.5L1567.1 151.3L1566.5 149.1L1566.1 146.9L1566.4 144.7L1568.5 143.8L1570.3 142.6L1571.7 140.7L1574.7 140.3L1577.0 141.6L1578.8 143.8L1581.5 143.9L1584.1 143.4L1586.6 143.9L1589.2 144.1L1591.6 144.8L1594.1 145.6L1595.1 147.6L1596.5 149.3L1597.6 151.3L1599.1 149.0L1600.1 146.5L1598.1 145.4L1597.3 142.7L1594.4 142.7L1592.6 141.4L1590.8 140.0L1589.5 138.1L1591.9 137.5L1594.5 139.5L1596.8 137.7L1599.3 138.3L1601.7 137.8L1604.2 137.6L1606.6 137.3L1609.0 136.3L1610.9 134.9L1612.6 133.0L1614.8 132.1L1616.9 131.0L1618.9 129.6L1621.4 129.3L1623.6 128.7L1625.9 128.5L1628.1 128.5L1630.3 127.9L1632.7 128.4L1634.9 128.3L1637.4 130.1L1639.2 126.6L1641.4 126.7L1643.5 124.8L1645.8 124.9L1647.9 124.4L1650.3 125.2L1652.6 126.6L1654.6 123.5L1657.0 124.9L1659.6 125.3L1661.6 124.3L1664.0 123.9L1665.8 122.2L1667.9 121.3L1669.8 119.7L1672.2 119.6L1674.6 120.4L1677.2 120.5L1679.8 120.7L1681.8 122.7L1684.2 123.1L1686.5 124.1L1689.1 121.0L1691.3 123.8L1693.6 124.7L1696.0 124.0L1698.3 124.8L1700.5 126.0L1702.6 127.1L1704.9 128.0L1704.6 131.2L1701.7 132.1L1699.6 133.7L1697.6 135.0L1695.5 136.1L1693.6 137.9L1691.1 137.9L1688.3 136.5L1686.7 139.2L1684.3 139.5L1681.8 139.4L1683.9 138.7L1686.1 138.3L1688.0 136.6L1690.7 138.1L1692.5 136.3L1695.0 136.8L1697.4 137.4L1699.8 138.2L1702.2 139.1L1704.9 138.1L1707.1 138.3L1709.4 138.2L1711.6 138.8L1713.8 136.4L1716.0 139.2L1718.2 137.9L1720.5 135.7L1722.7 138.1L1725.3 139.4L1728.0 140.3L1730.7 143.0L1733.3 140.7L1736.0 140.5L1738.7 140.3L1742.6 141.2L1742.2 137.2L1745.0 136.5L1747.6 137.5L1750.4 135.7L1752.9 138.1L1755.2 139.1L1757.4 140.7L1760.0 141.2L1761.8 145.1L1763.4 146.9L1766.0 147.6L1767.1 150.0L1770.6 151.5L1771.9 148.2L1774.2 146.9L1776.6 146.9L1778.9 146.8L1781.2 149.1L1783.6 148.8L1786.1 146.8L1788.4 147.3L1790.6 147.1L1792.8 146.2L1795.1 146.7L1797.3 146.9L1799.4 145.3L1799.3 142.0L1801.9 140.7L1803.5 143.3L1806.2 144.7L1808.6 144.5L1811.0 144.5L1813.3 144.1L1815.6 142.9L1818.2 145.0L1820.4 142.9L1822.8 143.5L1825.1 144.4L1827.4 145.5L1829.7 146.5L1832.2 146.5L1834.6 147.3L1836.6 148.9L1839.1 148.2L1841.2 149.1L1843.5 149.5L1846.0 149.3L1848.4 149.1L1851.0 149.3L1853.4 148.8L1855.9 148.7L1858.6 148.9L1861.3 148.6L1863.9 149.4L1866.6 150.0L1869.1 150.3L1870.4 152.2L1872.4 153.3L1873.7 155.3L1876.3 155.1L1878.9 152.4L1881.7 155.9L1884.3 154.8L1886.8 155.1L1889.3 153.0L1891.8 154.7L1894.3 155.2L1896.8 154.4L1898.8 156.3L1901.9 156.0L1903.9 157.9L1904.6 154.5L1907.8 153.1L1910.7 153.3L1913.5 153.7L1916.3 154.4L1919.0 154.8L1921.6 154.8L1924.3 155.9L1927.0 154.4L1929.4 154.7L1931.7 155.7L1934.2 155.9L1936.3 157.6L1938.7 158.0L1941.2 158.4L1943.9 157.7L1946.3 157.9L1948.3 160.1L1950.2 161.9L1952.3 163.0L1953.8 165.6L1957.2 164.1L1959.5 165.2L1962.0 165.7L1964.6 165.6L1966.8 167.8L1969.6 166.7L1971.3 168.3L1973.4 169.2L1975.9 169.3L1977.8 170.7L1975.5 172.2L1973.2 173.3L1971.8 175.3L1970.2 176.7L1967.5 176.9L1966.0 178.6L1963.8 178.0L1961.9 176.5L1959.4 176.2L1957.2 175.5L1955.4 173.8L1952.8 174.4L1950.5 174.3L1948.7 172.6L1946.7 171.5L1944.7 170.3L1942.2 172.4L1941.2 175.5L1939.4 179.1L1936.7 176.0L1934.6 176.9L1932.3 176.9L1933.4 178.9L1934.3 181.1L1936.2 182.6L1937.1 185.2L1938.7 187.4L1936.5 187.7L1934.3 188.2L1932.6 191.2L1929.8 187.9L1927.6 187.9L1925.5 188.8L1923.4 189.6L1920.6 190.3L1917.9 191.3L1915.6 193.2L1913.4 194.4L1911.5 196.2L1909.4 197.6L1906.7 198.0L1904.5 197.1L1902.1 197.0L1899.7 197.2L1897.3 196.6L1895.0 196.2L1892.6 196.8L1890.3 197.3L1887.9 197.6L1885.1 197.6L1882.6 198.4L1881.6 201.2L1881.8 204.2L1879.4 205.5L1877.2 207.3L1879.3 208.0L1881.5 208.6L1880.1 212.1L1881.8 214.3L1879.6 215.6L1877.7 217.2L1876.5 219.6L1877.6 220.9L1875.3 222.4L1872.7 223.1L1870.1 224.0L1870.1 227.5L1867.9 228.3L1865.5 228.8L1864.9 231.1L1864.1 233.3L1862.3 234.8L1859.9 235.7L1858.4 237.7L1856.6 234.6L1856.7 231.9L1855.9 229.3L1855.1 226.9L1854.9 224.3L1854.5 221.8L1855.1 219.6L1854.7 217.4L1854.5 215.2L1856.3 213.6L1857.3 211.5L1858.4 209.5L1860.5 208.6L1862.2 207.2L1863.7 205.5L1865.6 203.5L1867.5 201.7L1869.4 199.8L1871.6 198.1L1874.4 197.6L1876.5 195.8L1878.2 193.8L1880.6 192.9L1882.9 191.8L1884.3 189.3L1886.1 187.0L1883.8 186.4L1881.5 187.0L1879.0 190.5L1876.3 190.5L1873.8 189.8L1871.2 189.2L1868.4 189.0L1865.7 189.4L1863.0 190.1L1860.7 190.2L1858.4 191.0L1857.4 193.2L1855.6 194.7L1853.7 196.1L1852.4 198.0L1849.9 199.8L1847.6 200.1L1845.5 200.9L1843.5 202.0L1840.9 200.6L1838.1 199.8L1835.8 200.0L1833.4 199.4L1831.0 199.3L1828.4 199.6L1825.7 199.5L1823.0 199.0L1820.4 200.2L1817.7 200.8L1815.1 201.5L1812.4 201.4L1809.7 200.7L1807.2 201.4L1804.6 202.3L1802.6 204.2L1800.8 205.5L1798.8 206.4L1797.2 208.0L1795.5 209.5L1793.6 211.3L1792.6 213.8L1790.2 215.2L1788.0 216.2L1786.2 217.7L1784.3 219.1L1782.4 220.5L1784.5 221.4L1786.7 222.4L1788.4 224.0L1791.1 224.2L1793.7 224.9L1796.0 223.8L1798.4 223.1L1800.1 224.8L1802.2 226.1L1804.0 227.5L1803.3 231.5L1801.9 233.8L1801.2 236.3L1801.4 239.1L1800.5 241.6L1800.6 244.1L1800.1 246.5L1798.8 248.4L1797.4 250.1L1796.2 252.1L1794.8 254.0L1793.4 255.8L1792.0 257.5L1790.3 259.3L1788.4 261.0L1786.5 263.1L1784.9 265.4L1783.2 267.7L1781.3 269.8L1779.2 271.2L1777.0 272.4L1774.9 273.8L1772.8 272.7L1770.6 271.6L1768.3 273.3L1766.0 275.1L1764.5 276.9L1762.8 278.6L1762.5 281.7L1760.4 283.8L1758.2 285.7L1755.0 286.6L1754.7 288.8L1756.4 290.2L1757.9 291.8L1758.8 293.9L1760.0 295.8L1761.4 298.9L1761.5 301.1L1761.8 303.3L1760.7 306.8L1758.2 308.1L1755.4 309.0L1753.2 309.9L1751.1 310.8L1751.2 308.1L1750.8 305.5L1751.1 302.0L1750.0 299.8L1752.2 298.9L1751.5 296.3L1748.6 295.5L1745.8 294.5L1745.1 293.6L1746.5 291.4L1746.5 287.9L1743.6 285.7L1741.2 286.4L1738.7 287.0L1737.0 288.4L1735.1 289.6L1732.3 291.0L1733.7 288.3L1734.9 285.9L1735.8 283.5L1733.7 283.0L1731.6 282.2L1729.5 284.2L1727.3 286.1L1725.7 287.7L1724.1 289.2L1720.2 290.1L1719.8 292.3L1721.9 293.8L1724.1 294.9L1724.5 297.6L1727.7 297.6L1730.9 295.4L1733.0 295.9L1735.1 296.8L1737.3 297.1L1736.5 299.3L1734.0 299.8L1731.6 300.7L1729.1 303.3L1726.6 305.9L1725.2 308.6L1727.3 309.7L1729.1 311.2L1730.2 313.9L1731.2 316.5L1732.3 318.5L1733.5 320.4L1734.8 322.2L1734.8 325.8L1732.6 326.9L1730.5 328.0L1733.3 329.7L1735.5 330.2L1734.6 332.3L1734.3 334.6L1733.7 336.8L1730.9 339.0L1729.7 341.1L1728.4 343.2L1726.9 345.2L1726.6 348.2L1724.8 350.4L1723.0 352.6L1721.3 354.4L1719.7 356.1L1718.3 358.0L1716.3 359.3L1714.1 360.4L1712.0 361.9L1709.7 362.8L1707.4 363.7L1704.9 364.1L1701.9 365.4L1698.9 366.7L1696.5 367.5L1694.3 368.5L1693.6 372.5L1691.4 369.8L1691.1 367.2L1688.8 366.7L1686.4 366.3L1684.2 367.9L1681.8 369.4L1680.8 370.7L1679.8 372.8L1678.8 374.9L1677.6 376.9L1677.6 379.5L1678.9 381.5L1680.1 383.5L1681.3 385.4L1682.5 387.4L1684.3 389.2L1686.1 391.0L1688.6 394.5L1688.9 396.7L1689.4 398.9L1689.6 401.1L1690.1 403.3L1690.4 405.5L1689.6 409.5L1688.3 411.3L1686.7 412.9L1685.4 414.8L1682.2 416.1L1680.8 419.6L1678.5 421.4L1676.1 423.1L1673.7 424.0L1674.4 420.0L1675.1 417.8L1672.6 416.1L1669.7 415.2L1668.8 413.1L1667.6 411.2L1666.2 408.2L1663.0 405.9L1660.2 402.9L1658.7 402.4L1657.0 403.3L1656.6 406.8L1656.1 409.7L1655.5 412.6L1654.1 416.1L1654.1 418.5L1654.1 420.9L1656.6 420.9L1658.0 424.9L1658.4 427.6L1659.1 430.2L1661.9 431.9L1665.1 434.6L1666.7 436.2L1668.0 438.1L1669.0 442.1L1669.2 444.3L1669.0 446.5L1670.5 450.4L1671.2 453.1L1672.2 455.7L1669.4 456.2L1667.7 454.6L1665.8 453.1L1663.8 451.2L1661.9 449.1L1660.5 446.8L1659.4 444.3L1658.8 441.2L1658.0 438.1L1658.1 435.9L1658.0 433.7L1655.9 431.1L1654.5 428.4L1651.3 427.1L1650.9 423.1L1651.3 420.9L1651.6 418.7L1651.9 416.5L1651.9 414.3L1652.1 412.1L1652.3 409.9L1652.0 407.3L1651.4 404.2L1650.6 401.1L1650.0 398.9L1649.5 396.7L1648.8 394.5L1648.7 391.8L1648.4 389.2L1647.2 387.3L1645.6 385.7L1643.5 389.2L1640.6 392.3L1636.7 391.9L1637.2 389.5L1637.4 387.2L1637.4 384.8L1636.8 382.0L1636.7 379.1L1635.6 377.0L1634.2 375.1L1631.7 372.9L1630.3 370.2L1628.5 367.6L1627.8 363.7L1625.7 362.3L1623.2 364.1L1619.7 365.9L1617.3 366.0L1615.0 366.3L1612.8 366.8L1610.8 367.6L1610.4 370.1L1609.7 372.5L1606.5 374.7L1603.7 376.9L1602.1 379.1L1600.5 381.3L1597.6 383.9L1595.7 385.7L1594.1 387.9L1592.1 389.8L1590.2 391.9L1588.2 393.2L1586.3 394.5L1586.3 398.0L1586.7 401.1L1587.0 404.2L1586.2 407.1L1585.2 409.9L1585.3 412.1L1585.2 414.3L1585.5 416.5L1584.1 418.2L1582.3 419.6L1582.7 421.4L1579.5 423.1L1577.0 426.2L1574.9 424.5L1573.8 421.4L1572.8 418.3L1572.0 415.2L1571.0 412.1L1570.0 410.1L1568.8 408.2L1567.4 405.1L1566.8 402.6L1566.0 400.2L1564.9 396.7L1563.9 393.6L1563.3 391.4L1562.8 389.2L1562.1 387.0L1561.9 384.2L1561.2 381.4L1560.7 378.6L1560.4 376.2L1560.0 373.8L1560.0 371.4L1560.0 368.9L1559.5 366.5L1559.3 364.1L1558.4 366.3L1557.8 368.5L1555.8 369.7L1553.6 370.7L1551.4 369.8L1549.0 366.7L1546.8 363.7L1549.1 362.1L1551.4 360.6L1548.2 361.5L1545.4 359.3L1543.4 357.7L1541.5 356.2L1539.7 352.6L1538.3 350.4L1535.9 350.7L1533.6 351.0L1531.2 350.9L1527.3 350.9L1523.0 351.3L1520.0 351.0L1517.0 350.4L1514.1 350.3L1511.3 350.0L1507.0 349.1L1505.7 346.8L1504.2 344.7L1501.7 342.5L1499.4 343.3L1497.1 344.3L1494.8 344.1L1492.5 344.3L1490.6 342.6L1488.6 341.2L1484.6 339.4L1483.0 337.2L1482.2 334.6L1480.4 331.1L1477.5 329.3L1475.1 328.4L1472.2 330.2L1472.2 332.8L1473.6 336.3L1475.1 339.9L1477.9 342.9L1479.7 345.6L1480.0 348.7L1481.0 350.7L1482.2 352.6L1482.2 349.6L1483.6 346.9L1485.0 350.4L1484.3 354.4L1488.2 355.3L1491.8 355.7L1495.0 354.0L1496.7 352.3L1498.1 350.4L1500.6 347.4L1502.1 345.6L1502.3 348.7L1502.1 351.8L1503.1 354.4L1505.1 355.9L1507.0 357.5L1509.9 357.9L1512.2 360.2L1514.1 362.8L1513.1 365.1L1512.4 367.6L1511.0 369.9L1509.5 372.0L1508.8 374.1L1507.6 376.0L1507.0 378.2L1505.0 380.3L1502.8 382.2L1500.2 383.3L1497.8 384.8L1495.7 385.6L1493.9 387.0L1490.3 388.8L1488.9 391.1L1487.1 393.2L1485.0 394.0L1482.9 394.9L1480.6 396.0L1478.4 397.2L1476.1 398.0L1474.1 399.1L1472.2 400.2L1469.5 401.4L1466.9 402.9L1464.3 404.3L1461.6 405.5L1458.9 405.5L1456.2 405.9L1455.2 403.3L1454.9 401.1L1454.7 398.9L1454.1 396.7L1453.8 394.1L1453.7 391.4L1452.7 387.4L1451.4 384.9L1449.8 382.6L1448.9 380.1L1447.7 377.8L1445.8 375.3L1444.5 372.5L1442.5 369.9L1440.9 367.2L1440.5 365.0L1440.2 362.8L1439.0 360.5L1438.4 358.0L1437.0 355.7L1435.3 353.8L1433.8 351.8L1432.5 349.4L1431.4 346.9L1429.8 344.0L1428.2 341.2L1426.6 339.6L1425.0 338.1L1425.5 335.0L1426.0 331.9L1425.2 334.4L1424.5 337.0L1423.5 339.4L1421.1 337.2L1419.9 334.9L1418.7 332.5L1417.5 330.2L1418.0 333.0L1418.6 335.9L1420.2 338.7L1421.8 341.6L1422.7 344.3L1423.5 346.9L1424.7 349.5L1425.7 352.2L1427.1 354.4L1428.5 356.6L1427.8 360.1L1429.2 361.9L1430.7 363.6L1432.4 365.0L1433.2 367.2L1433.8 369.4L1433.8 372.5L1433.8 375.6L1434.6 379.1L1436.3 380.9L1438.1 382.6L1439.2 385.2L1440.2 387.9L1441.2 390.5L1441.7 393.2L1444.1 395.8L1446.0 397.1L1448.1 398.0L1449.3 400.1L1450.9 401.8L1452.3 403.7L1454.0 405.5L1455.5 407.3L1455.2 410.8L1456.4 413.3L1458.0 415.6L1461.6 416.1L1463.9 415.0L1466.2 413.8L1468.7 413.0L1470.9 412.6L1473.2 412.6L1475.4 412.1L1479.3 411.2L1481.7 410.7L1483.9 409.9L1483.4 412.8L1483.2 415.6L1482.6 418.0L1482.2 420.5L1481.1 423.4L1479.7 426.2L1478.3 428.4L1477.6 430.9L1476.5 433.3L1475.3 436.2L1473.6 439.0L1472.2 441.0L1470.8 443.1L1469.4 445.2L1468.0 447.1L1466.9 449.1L1465.0 451.4L1462.6 453.1L1461.0 454.8L1459.2 456.5L1457.3 457.9L1456.0 460.0L1454.3 461.8L1452.7 463.7L1451.6 465.8L1450.3 467.8L1449.1 469.8L1447.0 472.0L1445.6 474.0L1444.1 476.0L1442.7 480.0L1441.7 482.2L1440.6 484.4L1440.2 486.8L1439.5 489.2L1441.7 492.3L1441.6 495.2L1441.3 498.0L1442.4 501.5L1442.8 503.7L1442.7 506.0L1445.2 507.7L1445.3 510.1L1445.6 512.6L1445.4 515.6L1445.6 518.7L1446.0 521.1L1446.2 523.4L1446.6 525.8L1446.3 528.0L1445.0 530.6L1443.8 533.3L1441.8 535.2L1439.9 537.2L1437.7 538.6L1435.6 540.0L1433.1 540.8L1431.8 542.7L1430.6 544.7L1428.9 546.1L1427.1 547.4L1425.7 549.1L1425.0 552.7L1425.9 554.7L1427.1 556.6L1427.8 559.3L1427.9 561.9L1427.5 564.5L1427.8 567.2L1426.7 570.3L1423.6 571.4L1420.7 572.9L1417.9 576.0L1418.1 578.2L1418.6 580.4L1418.2 582.9L1417.5 585.3L1415.7 588.8L1413.8 591.2L1411.8 593.6L1410.2 596.1L1409.0 598.9L1406.9 601.4L1404.7 603.8L1402.6 605.4L1400.8 607.3L1398.7 608.4L1396.9 609.9L1393.0 611.7L1389.8 612.6L1387.3 611.9L1384.8 611.7L1382.5 612.0L1380.2 612.6L1377.7 613.5L1375.3 614.6L1372.7 615.2L1370.6 614.4L1368.5 613.5L1367.1 612.6L1367.1 611.2L1365.3 607.3L1366.7 604.2L1365.3 600.2L1364.2 598.3L1363.1 596.3L1362.5 593.6L1361.7 591.0L1360.3 587.9L1359.0 585.6L1357.5 583.5L1356.8 581.2L1355.7 579.1L1355.5 576.7L1355.3 574.3L1354.6 572.0L1354.3 569.8L1354.0 567.6L1353.4 565.5L1353.2 563.2L1352.0 560.2L1351.1 557.1L1350.4 555.0L1349.5 552.9L1348.6 550.9L1347.5 547.8L1346.4 544.7L1345.5 542.5L1344.5 540.3L1343.6 538.1L1343.7 535.3L1343.6 532.4L1344.7 528.9L1345.5 526.0L1346.1 523.1L1347.0 521.0L1348.2 519.0L1349.3 517.0L1350.1 514.1L1350.7 511.2L1350.0 508.8L1349.7 506.3L1349.3 503.8L1348.6 500.7L1348.1 498.0L1347.9 495.4L1346.9 493.2L1346.3 491.0L1345.4 488.8L1345.2 486.3L1344.7 483.9L1343.6 482.6L1341.1 479.1L1339.1 476.7L1337.2 474.2L1336.1 472.3L1335.2 470.3L1334.7 468.1L1332.9 465.0L1334.1 462.8L1335.1 460.6L1336.1 457.1L1336.5 454.4L1336.5 451.8L1336.4 449.4L1336.5 447.1L1336.1 444.7L1333.3 442.1L1331.5 442.1L1329.0 442.3L1326.5 442.5L1323.0 443.0L1321.4 440.1L1319.8 437.2L1317.3 434.1L1313.8 433.7L1310.2 434.1L1305.9 435.0L1303.8 436.0L1301.7 437.2L1298.1 439.0L1294.6 440.8L1291.0 439.4L1287.5 438.6L1284.8 439.2L1282.1 439.4L1279.6 440.2L1277.3 441.2L1275.0 442.5L1272.4 441.2L1269.7 439.9L1267.7 437.8L1265.5 436.0L1263.3 434.1L1260.8 431.5L1259.0 430.2L1257.3 428.9L1256.1 426.6L1254.8 424.5L1253.6 422.4L1253.0 420.0L1251.3 417.6L1249.5 415.2L1248.0 412.5L1246.3 409.9L1244.2 408.4L1242.0 407.3L1242.1 405.1L1242.3 402.9L1240.7 400.1L1239.5 397.1L1240.8 395.3L1242.0 393.4L1243.1 391.4L1243.7 389.1L1244.3 386.9L1244.5 384.5L1244.8 382.2L1243.9 379.3L1243.1 376.4L1244.1 372.9L1241.1 370.3L1241.4 368.1L1241.6 365.9L1242.5 363.8L1243.5 361.8L1244.2 359.6L1244.8 357.5L1246.3 355.7L1247.3 353.6L1248.7 351.8L1249.4 349.3L1250.2 346.9L1251.5 344.4L1253.0 342.0L1254.8 339.9L1255.8 338.8L1258.0 337.5L1260.1 336.2L1262.2 335.0L1265.4 332.4L1266.7 330.3L1267.6 328.0L1267.4 325.5L1266.9 323.1L1268.2 321.1L1269.0 318.7L1271.5 315.2L1274.7 313.9L1277.5 312.1L1278.6 309.7L1279.7 307.3ZM704.5 172.9L707.4 171.7L710.1 170.3L712.4 170.2L714.6 169.5L716.9 169.2L719.0 168.5L721.6 169.1L724.3 169.3L726.8 169.8L724.0 167.2L721.0 166.1L719.0 163.6L716.4 163.4L714.0 162.3L711.6 161.3L709.1 160.8L711.2 158.4L713.7 158.2L715.9 156.8L718.4 156.5L720.8 156.2L722.8 155.2L724.7 153.9L726.1 152.2L728.5 151.4L730.9 150.9L733.2 150.0L735.7 149.8L738.2 149.8L740.6 149.2L743.0 148.6L745.3 147.8L747.6 148.5L749.8 149.6L752.1 149.9L754.6 149.5L756.9 150.4L759.3 150.5L761.7 150.0L764.1 149.9L766.4 150.6L768.8 151.3L771.2 151.3L773.5 151.5L775.9 152.2L778.6 152.3L781.2 152.7L783.9 153.1L786.5 153.5L788.8 152.3L791.2 151.6L793.6 153.1L796.1 153.6L798.5 154.1L800.7 155.3L803.1 155.4L805.5 155.6L807.8 155.7L810.4 155.8L812.7 156.8L814.9 157.9L817.4 157.7L819.7 156.8L822.1 156.2L824.4 155.4L826.7 155.1L829.2 155.7L831.7 155.5L833.7 153.7L836.3 153.5L838.8 152.4L841.6 152.4L844.3 151.9L846.9 151.3L849.1 153.1L851.7 154.2L854.0 155.7L856.2 153.8L859.0 153.1L861.7 154.6L864.7 155.7L867.4 154.9L870.0 155.5L872.7 155.8L875.3 156.2L878.3 155.5L880.7 157.0L883.4 157.5L886.0 158.4L888.5 159.7L890.8 161.1L893.1 162.8L895.5 163.0L897.8 163.3L900.2 163.2L902.9 163.2L905.5 162.8L908.2 162.4L910.9 162.8L913.2 164.2L915.5 165.6L918.0 166.7L919.5 163.9L921.5 161.4L923.8 161.2L926.1 160.6L928.3 161.5L930.4 162.3L932.6 162.5L934.9 162.1L937.1 162.7L939.3 163.2L941.7 163.0L944.0 163.1L946.4 163.2L948.8 162.7L951.1 162.7L953.5 163.2L955.3 160.1L957.9 160.8L960.6 161.4L961.3 163.7L962.4 165.8L964.2 164.3L965.5 162.5L965.9 160.1L965.9 157.5L967.7 155.7L965.7 154.7L963.4 154.5L961.6 153.1L959.5 152.2L960.7 149.4L962.4 146.9L965.9 144.7L967.6 147.2L969.8 149.1L973.0 149.1L974.1 151.2L974.8 153.5L976.3 155.5L978.2 157.0L980.3 158.3L981.9 160.1L984.4 160.0L986.6 158.9L989.0 158.8L990.8 160.5L991.9 162.6L992.6 165.0L993.9 162.9L995.5 161.0L997.9 160.1L998.3 157.5L997.9 154.8L1000.4 154.7L1002.9 154.9L1005.4 154.0L1007.8 153.6L1010.4 154.4L1011.2 156.8L1012.8 158.8L1011.7 161.3L1011.1 164.1L1010.4 166.7L1007.9 167.5L1005.4 168.2L1003.2 169.8L1000.6 170.0L998.0 169.6L995.4 168.9L993.8 171.4L992.6 174.2L990.7 176.6L989.0 179.1L986.7 180.2L984.2 181.0L981.7 181.7L979.4 183.0L976.9 184.0L974.5 185.2L972.9 186.8L971.1 188.1L969.5 189.6L967.4 192.7L966.3 195.1L965.2 197.6L965.9 200.3L967.0 202.9L971.3 203.3L972.0 205.7L972.5 208.3L973.0 210.8L975.3 210.6L977.5 209.5L979.7 210.1L981.9 210.8L983.9 212.2L986.1 213.2L988.3 214.2L990.5 215.2L992.7 216.1L995.0 216.9L997.3 217.9L999.7 218.3L1002.1 218.9L1004.5 218.3L1006.9 218.6L1009.3 219.2L1009.3 221.6L1009.9 224.0L1009.8 226.4L1010.0 228.8L1011.9 231.3L1013.9 233.7L1016.1 235.3L1018.5 236.3L1020.2 234.7L1021.7 232.8L1022.4 228.8L1021.8 226.0L1020.3 223.6L1019.2 220.9L1022.2 219.5L1025.3 218.3L1027.4 217.1L1028.6 215.1L1029.5 213.0L1029.5 210.3L1029.9 207.7L1028.0 206.6L1026.0 205.4L1024.2 204.2L1025.2 202.0L1026.1 199.8L1027.1 197.6L1026.1 195.1L1024.8 192.7L1024.3 190.2L1024.2 187.4L1026.4 186.9L1028.6 187.5L1030.9 187.0L1033.1 187.4L1035.4 188.0L1037.6 187.0L1039.8 186.6L1042.0 187.4L1044.1 188.5L1045.9 190.1L1048.0 190.7L1050.0 191.8L1052.4 191.6L1054.4 192.7L1053.7 195.2L1054.8 197.6L1054.3 199.8L1053.7 202.0L1056.1 203.9L1058.7 205.5L1061.0 205.4L1063.0 204.5L1065.2 204.0L1067.2 202.9L1069.6 201.3L1069.7 198.4L1072.5 195.8L1074.3 199.8L1076.1 202.3L1078.6 204.2L1080.2 206.2L1081.3 208.5L1082.5 210.8L1084.8 212.4L1086.8 214.3L1087.1 217.4L1089.1 218.5L1091.4 219.2L1093.3 220.5L1095.7 221.4L1098.0 222.3L1098.5 225.3L1100.6 226.2L1101.0 229.1L1103.4 229.7L1103.8 232.8L1101.4 234.0L1099.2 235.5L1096.1 236.1L1093.1 237.2L1090.9 239.0L1088.5 240.7L1085.3 241.2L1082.1 241.2L1079.6 240.5L1077.0 240.1L1074.3 240.3L1071.4 240.0L1068.6 240.2L1065.8 240.7L1064.1 243.0L1061.9 244.7L1058.3 246.0L1056.1 247.9L1054.1 250.0L1052.4 252.0L1050.5 253.8L1048.7 255.7L1053.0 254.8L1054.8 252.8L1056.6 250.8L1058.3 248.7L1061.0 247.4L1063.6 246.0L1066.0 245.6L1068.4 245.2L1070.8 244.9L1073.2 246.9L1071.5 250.0L1068.8 250.2L1066.1 250.4L1068.5 250.8L1070.8 251.3L1071.1 254.8L1072.7 256.6L1074.3 258.4L1076.7 258.7L1079.1 258.9L1081.4 259.7L1083.4 258.3L1085.1 256.6L1086.7 254.8L1088.1 257.0L1089.2 259.2L1087.0 260.7L1085.0 262.3L1082.6 262.8L1080.4 263.5L1078.3 264.6L1076.1 265.4L1074.2 266.7L1072.2 267.9L1070.4 269.3L1068.6 270.7L1066.5 268.9L1067.2 265.4L1070.0 264.1L1072.5 262.3L1072.2 260.1L1069.8 261.6L1067.2 262.8L1063.6 264.5L1061.1 265.8L1058.3 266.7L1056.3 267.8L1054.3 268.8L1052.3 269.8L1050.5 273.8L1049.4 275.5L1050.9 277.3L1053.0 277.7L1052.3 276.6L1053.2 278.2L1050.9 279.1L1048.0 279.1L1045.9 280.0L1042.3 280.4L1039.1 283.0L1038.8 285.7L1037.0 288.8L1035.2 290.5L1034.5 294.5L1033.3 296.5L1032.0 298.5L1030.6 298.9L1032.0 300.7L1032.5 303.8L1033.4 306.8L1031.5 308.1L1029.5 309.5L1027.3 311.1L1024.9 312.6L1023.0 314.1L1021.0 315.6L1017.8 317.8L1016.2 319.6L1014.3 320.9L1013.5 323.8L1012.5 326.6L1012.8 330.2L1013.8 332.3L1014.8 334.5L1015.3 336.8L1016.1 339.1L1016.6 341.5L1017.5 343.8L1016.7 346.2L1016.7 348.7L1015.7 350.9L1013.6 351.3L1012.4 349.1L1011.1 346.9L1009.6 343.8L1007.9 339.9L1008.0 337.4L1007.5 335.0L1006.3 333.0L1005.0 331.1L1003.2 329.3L1001.0 330.4L998.6 331.1L996.4 329.7L994.4 328.0L991.9 328.3L989.4 328.4L985.5 328.0L983.4 328.9L983.9 331.3L984.4 333.7L981.2 333.7L977.3 332.8L973.8 331.5L971.1 331.3L968.4 331.1L965.2 332.8L963.3 334.4L961.3 335.9L959.1 337.3L957.1 339.0L956.1 341.3L955.6 343.8L956.4 347.4L955.8 349.6L955.3 351.8L954.6 354.0L954.8 356.4L954.4 358.8L954.2 361.2L954.2 363.7L955.2 366.5L956.0 369.4L957.3 371.2L958.6 373.1L959.2 375.3L960.3 377.3L962.1 378.8L964.2 380.0L966.3 381.9L968.7 381.0L971.3 380.8L973.5 380.6L975.5 379.7L977.6 377.9L979.4 376.0L980.2 374.4L980.4 372.1L980.5 369.8L983.0 368.1L986.0 367.2L989.0 366.7L992.6 367.2L993.3 368.9L992.3 370.9L991.2 372.9L990.5 375.5L990.1 378.2L989.0 380.4L988.7 382.6L988.3 384.8L987.9 387.0L987.6 389.2L985.8 391.9L989.4 392.3L993.3 392.3L996.5 391.4L999.0 391.9L1001.5 392.3L1003.8 394.0L1006.1 395.8L1005.8 398.0L1005.4 400.2L1005.2 402.4L1004.7 404.6L1004.7 406.8L1004.0 409.0L1004.2 411.5L1004.3 413.9L1005.7 415.8L1006.8 417.8L1009.6 420.9L1011.8 422.0L1013.9 423.1L1016.1 422.2L1017.8 420.7L1021.0 419.8L1024.6 420.9L1026.7 423.6L1028.8 426.7L1030.2 423.8L1031.7 420.9L1032.7 418.6L1033.4 416.1L1035.9 413.4L1038.1 412.1L1042.3 411.2L1044.6 409.2L1046.9 407.1L1048.4 409.9L1046.2 413.4L1049.4 413.4L1052.3 410.8L1053.0 408.2L1054.1 411.2L1056.4 411.8L1058.7 412.6L1060.1 415.6L1063.6 415.2L1067.2 415.2L1070.8 417.4L1073.6 415.9L1076.2 415.4L1078.8 415.1L1081.4 414.8L1079.3 417.8L1082.1 418.9L1085.0 420.0L1086.8 422.2L1088.5 424.5L1092.1 426.7L1093.4 429.3L1094.9 431.9L1097.0 434.0L1099.2 435.9L1102.4 435.8L1105.6 435.9L1109.8 436.3L1111.8 437.8L1113.7 439.2L1115.9 440.3L1118.7 443.0L1119.8 445.8L1120.5 448.7L1122.3 451.3L1124.0 454.0L1124.3 456.4L1124.4 458.8L1124.0 461.9L1126.6 463.6L1129.4 465.0L1132.0 464.8L1134.7 465.0L1137.1 466.0L1139.5 467.2L1141.8 468.5L1143.2 470.6L1144.3 472.9L1146.6 472.4L1148.9 472.5L1151.6 473.5L1154.2 474.7L1156.9 474.5L1159.6 474.2L1161.3 475.7L1163.0 477.1L1164.9 478.2L1167.0 480.5L1169.2 482.6L1171.4 483.8L1173.8 484.4L1176.3 485.2L1176.6 487.9L1177.3 490.5L1178.0 493.2L1177.9 495.4L1177.7 497.6L1177.1 499.9L1176.3 502.1L1175.2 504.2L1173.4 506.0L1172.0 508.1L1170.2 509.9L1169.3 512.4L1168.0 514.7L1166.7 517.0L1164.9 519.2L1164.4 521.8L1163.7 524.5L1163.1 527.1L1163.1 529.6L1163.1 532.1L1163.1 534.6L1162.8 537.2L1162.4 539.9L1161.9 542.5L1161.5 545.2L1160.6 547.8L1158.5 551.3L1157.3 554.2L1156.0 557.1L1156.0 558.8L1154.1 560.9L1152.5 563.2L1148.2 563.2L1145.5 563.8L1142.9 564.5L1140.0 566.1L1137.2 567.6L1135.2 569.0L1133.4 570.6L1131.5 572.0L1129.4 574.2L1129.1 577.3L1129.0 580.4L1129.4 583.5L1128.3 587.5L1126.9 589.4L1125.4 591.2L1124.0 593.2L1122.4 595.9L1120.5 598.5L1118.7 601.0L1116.6 603.3L1115.1 605.7L1113.6 608.1L1112.0 610.4L1110.5 613.5L1108.6 614.7L1106.6 615.9L1104.3 615.8L1102.0 615.7L1099.2 614.5L1096.3 613.5L1094.2 611.7L1095.8 613.8L1097.1 616.0L1098.5 618.3L1098.1 621.4L1100.2 622.3L1099.5 624.7L1098.3 627.0L1097.4 629.3L1094.6 630.6L1092.1 632.4L1089.7 633.0L1087.3 633.4L1085.0 633.7L1082.6 633.3L1080.3 632.8L1080.8 635.3L1081.0 637.8L1081.1 640.3L1078.6 642.5L1076.0 642.2L1073.4 641.8L1070.8 642.1L1070.3 644.5L1070.4 646.9L1072.9 648.5L1075.7 649.6L1073.2 650.2L1070.8 651.3L1069.7 652.7L1069.5 654.9L1069.1 657.1L1069.0 659.3L1066.7 660.7L1064.3 662.0L1062.2 663.7L1061.9 666.8L1064.0 667.6L1066.0 668.6L1067.9 669.8L1067.2 672.5L1065.4 674.7L1063.6 677.1L1061.5 679.1L1060.0 681.1L1058.3 683.1L1057.5 686.2L1056.5 689.2L1058.7 692.3L1059.5 694.9L1060.1 697.6L1061.9 699.8L1064.1 700.5L1065.4 702.4L1067.7 702.6L1070.0 702.7L1067.9 704.0L1065.4 704.4L1064.3 706.5L1062.6 708.2L1059.6 707.3L1056.5 706.4L1053.3 707.4L1053.0 701.6L1049.4 703.3L1047.4 702.3L1045.9 700.7L1043.4 700.3L1041.6 699.0L1040.6 696.7L1038.7 694.9L1036.3 694.1L1036.8 691.2L1035.2 688.8L1035.3 686.5L1035.0 684.2L1033.8 682.2L1033.4 680.0L1032.8 677.8L1033.1 675.6L1032.8 673.1L1036.2 670.6L1033.1 668.1L1034.9 665.8L1037.0 663.7L1040.8 661.0L1037.4 657.9L1038.0 655.8L1040.7 653.9L1038.1 651.3L1038.9 648.8L1038.8 646.1L1038.9 643.2L1039.5 640.3L1040.9 637.2L1040.8 634.4L1040.6 631.5L1040.5 628.6L1040.2 625.8L1042.0 623.6L1042.4 620.9L1043.0 618.3L1044.0 616.0L1044.9 613.8L1046.2 611.7L1046.6 609.4L1047.3 607.3L1047.2 605.1L1047.4 602.9L1047.7 600.7L1047.6 598.5L1047.8 596.3L1048.0 594.1L1048.1 591.9L1047.9 589.7L1047.7 587.5L1048.7 584.4L1049.8 581.3L1050.3 579.0L1050.7 576.6L1050.9 574.2L1051.2 571.5L1051.6 568.7L1051.6 565.9L1050.9 563.7L1051.6 561.2L1052.3 558.8L1052.1 556.2L1052.3 553.5L1052.5 550.9L1052.3 548.4L1052.1 545.9L1051.9 543.4L1050.2 541.4L1048.4 539.4L1046.2 538.0L1044.1 536.4L1042.5 534.9L1040.7 533.6L1038.8 532.4L1036.7 531.0L1034.5 529.7L1033.4 527.4L1032.0 525.3L1030.6 523.1L1031.0 520.9L1029.7 519.1L1028.6 517.1L1027.4 515.2L1026.6 512.8L1025.6 510.4L1024.7 508.3L1023.9 506.2L1023.2 504.1L1022.4 502.0L1020.7 499.2L1019.2 496.3L1017.8 492.3L1015.9 490.1L1013.6 488.3L1013.4 485.4L1012.8 482.6L1014.4 480.0L1015.7 477.3L1017.8 473.8L1016.4 473.4L1013.9 471.6L1014.4 469.0L1014.6 466.3L1015.8 464.1L1017.1 461.9L1017.5 458.4L1019.7 456.8L1021.7 454.9L1023.0 452.8L1023.9 450.4L1026.3 450.4L1027.2 447.6L1027.8 444.7L1027.4 442.3L1026.6 440.1L1026.3 437.7L1026.5 435.2L1026.7 432.8L1024.9 430.2L1023.5 426.2L1021.0 422.7L1019.2 422.5L1016.7 425.3L1017.5 428.9L1014.3 430.2L1013.2 428.0L1009.6 425.8L1007.2 426.4L1004.3 424.5L1002.4 422.1L1000.8 419.6L999.3 419.6L996.9 417.0L996.9 413.0L995.3 411.1L994.0 409.0L991.5 405.5L990.1 404.2L987.3 403.7L985.0 402.9L982.6 402.4L980.4 401.7L978.4 400.7L976.3 399.2L974.1 398.0L972.6 396.1L971.1 394.1L969.5 392.3L965.9 390.5L964.2 390.5L961.6 391.9L958.8 393.0L956.2 391.9L953.5 391.0L951.2 389.9L949.0 388.7L946.8 387.7L944.0 385.9L941.1 384.4L938.6 382.8L936.2 382.2L934.0 381.3L932.7 379.4L931.1 377.8L928.9 375.9L926.9 373.8L926.2 372.0L927.6 370.7L926.9 367.2L925.8 364.7L924.8 362.2L923.7 359.7L922.4 357.8L921.2 355.8L919.8 354.0L918.1 352.1L916.2 350.4L913.0 348.7L912.9 346.5L912.7 344.3L910.9 342.9L909.1 341.6L907.7 339.0L905.6 337.1L903.8 335.0L902.8 332.6L901.6 330.2L900.5 328.1L899.6 326.0L898.4 324.0L896.3 322.6L893.8 321.8L893.8 325.3L894.8 327.5L895.6 329.8L896.7 331.9L898.4 334.6L899.6 336.6L900.9 338.5L902.7 341.6L903.8 343.6L905.3 345.3L906.3 347.4L907.6 349.9L908.4 352.6L909.8 355.3L911.4 356.9L912.7 358.8L911.2 361.0L909.8 358.4L907.8 356.9L905.8 355.4L903.8 354.0L903.2 351.8L902.9 349.6L902.7 347.4L900.5 345.9L898.4 344.3L894.9 342.5L893.1 339.4L896.0 337.7L894.8 335.3L893.8 332.8L892.1 331.4L890.6 329.7L889.6 327.5L888.4 324.7L887.4 321.8L885.7 318.7L884.9 316.5L882.9 314.9L881.0 313.0L878.2 311.7L876.0 310.6L873.6 309.9L872.9 306.8L871.3 304.8L870.1 302.7L868.6 300.7L866.8 298.0L866.5 295.4L864.7 294.5L863.2 291.7L861.8 288.8L861.0 286.3L859.7 283.9L860.2 281.0L860.8 278.2L860.1 275.7L859.4 273.3L860.0 270.7L860.8 268.1L861.1 265.6L861.1 263.2L861.2 260.8L861.1 258.4L860.8 255.3L860.1 253.1L859.7 250.8L858.6 248.7L861.6 249.3L864.7 249.6L865.4 246.0L864.0 244.7L861.6 243.3L859.4 241.6L856.7 240.5L854.0 239.4L851.4 238.3L848.7 237.2L848.2 234.3L847.6 231.5L845.3 229.4L843.4 227.1L841.1 224.8L838.8 222.7L838.0 219.6L835.7 219.6L833.8 218.3L830.6 218.5L827.4 218.3L824.5 217.2L823.8 214.3L822.0 212.9L821.0 210.8L820.1 208.4L818.8 206.5L816.4 205.5L816.5 200.1L811.4 202.0L808.3 201.0L805.4 199.8L803.4 198.5L800.5 199.9L799.0 197.6L796.7 199.8L794.5 197.3L792.3 198.2L790.1 197.6L786.5 198.0L784.0 195.4L781.2 194.0L779.6 197.5L775.9 197.6L773.2 197.3L770.5 198.0L768.0 199.6L765.3 200.7L762.4 201.1L763.4 199.3L763.7 197.1L764.1 194.9L766.2 193.2L768.8 192.3L766.3 193.9L763.4 193.2L761.2 194.5L759.9 196.7L757.2 197.5L756.3 200.2L754.2 201.5L753.8 205.1L751.0 207.3L748.0 208.5L745.7 210.8L742.5 211.0L740.7 213.4L738.6 215.2L736.2 216.2L733.9 217.2L731.5 217.8L728.7 216.7L725.8 215.5L724.4 219.6L721.5 220.5L718.8 220.6L716.2 221.4L718.1 220.0L719.9 218.2L722.6 218.7L725.1 218.0L727.3 216.7L729.7 215.6L730.1 210.5L733.8 212.9L735.8 211.4L738.6 211.7L741.4 211.3L742.1 208.6L742.1 205.9L742.8 203.3L738.6 202.4L736.0 203.2L733.2 203.3L730.9 203.6L728.3 199.6L726.1 203.7L726.8 199.8L726.1 197.6L723.8 197.4L721.4 198.2L719.0 197.6L715.5 195.4L714.1 192.6L711.9 190.5L713.4 188.1L715.5 186.1L716.5 183.8L719.0 183.5L721.5 183.4L724.1 184.2L726.1 182.1L729.0 180.8L729.7 177.7L726.5 177.6L723.3 177.7L720.3 179.3L717.2 177.7L714.1 177.7L712.6 175.7L710.1 175.5L707.4 174.0ZM111.5 771.6L113.7 771.2L115.9 770.5L118.1 769.9L120.5 770.2L122.7 770.1L125.0 769.7L127.2 769.2L129.3 768.1L131.5 767.8L133.7 767.6L135.9 767.8L138.1 767.4L140.4 768.0L142.6 767.3L144.8 767.3L147.0 767.2L149.5 768.0L152.0 768.3L154.5 768.7L156.9 769.6L159.5 769.8L161.2 768.5L162.9 767.1L164.8 765.9L166.9 765.0L169.3 764.7L171.4 763.6L173.6 762.8L175.9 762.6L178.0 761.6L180.1 760.6L182.6 760.6L184.8 760.2L187.0 759.9L189.2 759.0L191.4 758.8L193.8 758.9L195.9 758.1L198.1 757.5L200.3 757.1L202.5 756.3L204.7 755.9L207.0 755.8L209.1 754.9L211.3 754.5L213.6 754.5L215.8 754.2L218.1 754.0L220.5 754.4L222.9 755.3L225.2 756.2L227.9 756.8L230.5 757.5L233.1 758.5L235.8 758.8L238.1 758.5L240.3 758.9L242.6 758.6L244.7 759.2L246.9 760.1L249.1 760.3L251.4 759.9L253.6 760.2L256.3 760.2L258.9 760.8L261.6 760.6L264.3 761.0L266.8 761.7L269.0 763.2L271.4 764.1L271.8 766.9L273.2 769.4L271.4 771.6L270.4 774.2L269.6 776.9L272.0 775.6L274.2 773.8L276.7 772.5L279.1 771.4L281.7 770.6L283.8 769.0L286.2 768.6L288.5 768.4L290.9 768.1L293.3 767.2L295.5 766.0L297.7 764.7L299.8 763.2L302.3 762.6L304.5 761.4L306.9 760.6L309.2 760.2L311.5 760.0L313.7 759.6L315.9 758.7L318.1 758.0L320.2 757.1L322.4 756.7L324.7 756.2L326.9 756.1L329.1 754.9L331.3 755.5L333.5 755.3L335.8 755.5L338.0 755.5L340.2 755.0L342.4 755.8L344.6 755.4L346.8 754.7L349.2 755.1L351.4 754.7L353.6 754.0L355.8 753.9L358.0 753.2L360.2 752.7L362.4 752.7L364.6 752.8L366.9 752.8L369.1 753.2L371.3 752.9L373.5 752.3L375.7 752.6L378.0 752.2L380.1 752.8L382.4 752.9L384.7 752.8L386.8 753.7L389.0 754.1L391.2 754.5L393.4 755.1L395.7 754.9L398.0 755.1L400.2 755.4L402.4 754.4L404.6 753.7L406.8 753.5L409.0 753.0L411.2 752.8L413.5 753.5L415.7 754.3L417.8 755.0L420.1 754.6L422.4 754.2L424.6 754.2L426.8 754.0L429.1 754.2L431.2 754.9L433.5 755.1L435.7 755.3L437.9 755.5L440.1 756.2L442.3 756.5L444.5 756.8L446.8 756.5L449.0 756.6L451.2 756.0L453.4 755.7L455.7 755.8L457.9 755.4L460.1 755.2L462.2 754.0L464.4 753.1L466.8 754.4L469.0 754.4L471.2 754.3L473.4 754.2L475.6 753.4L477.9 754.0L480.1 753.8L482.3 754.1L484.5 753.5L486.8 753.7L489.0 753.9L491.2 753.7L493.4 753.9L495.6 753.9L497.9 754.2L500.1 753.9L502.3 754.0L504.5 754.3L506.8 754.4L509.0 754.3L511.2 755.0L513.4 755.0L515.7 754.9L517.8 755.7L520.1 755.8L522.2 756.4L524.5 756.6L526.7 757.0L528.9 757.7L531.0 758.4L533.2 758.8L535.5 758.8L537.8 758.4L540.0 759.2L542.2 759.9L544.4 760.5L546.6 761.1L549.1 760.8L551.3 761.5L553.4 762.6L555.6 763.2L557.8 763.9L560.0 764.3L562.2 765.0L564.5 765.0L566.7 765.7L569.0 765.5L571.2 766.2L573.4 766.4L575.6 767.0L578.0 766.1L580.2 766.7L582.5 767.0L584.7 767.4L586.9 768.2L589.1 769.0L591.4 768.6L593.8 769.7L596.3 770.5L598.0 772.6L600.0 774.3L602.2 774.8L604.4 774.9L606.6 774.6L608.8 775.3L610.9 776.0L613.2 775.5L615.4 775.3L617.7 775.3L619.9 775.4L622.1 775.8L624.2 776.3L626.5 776.3L628.6 777.1L627.0 779.9L625.7 782.9L623.6 784.0L621.2 784.2L618.8 784.4L616.7 785.4L614.7 786.8L612.6 788.0L610.5 789.1L608.2 789.5L605.9 790.1L603.6 790.6L601.5 791.7L599.1 791.8L597.0 792.9L598.9 794.1L600.7 795.3L602.7 796.3L604.7 797.3L606.6 798.6L608.4 799.8L610.2 801.1L612.4 801.8L614.3 802.9L612.3 804.2L609.9 804.6L607.9 805.8L606.0 807.3L603.8 808.1L601.9 809.6L599.6 810.2L597.4 811.0L595.1 811.7L592.9 812.3L590.5 812.8L588.6 814.3L590.3 816.2L591.8 818.4L593.1 820.6L594.3 822.9L596.6 823.2L598.7 824.2L601.1 824.2L603.4 824.7L605.6 825.0L607.9 825.6L610.1 826.3L612.4 826.6L614.7 826.6L617.0 827.0L619.2 827.5L621.4 827.8L623.7 827.4L625.9 827.9L628.1 828.2L630.3 828.7L632.5 828.8L634.7 829.4L636.9 830.1L639.1 830.2L641.3 830.7L643.4 831.4L645.7 831.4L647.9 831.7L650.1 831.6L652.3 832.5L654.5 832.5L656.6 833.2L658.9 833.1L661.1 833.3L663.3 833.4L665.5 833.4L667.6 834.2L669.9 833.7L672.1 834.1L674.3 834.3L676.5 834.3L678.7 834.0L680.9 834.4L683.1 834.5L685.3 835.2L687.5 835.3L689.7 835.6L691.9 835.2L694.1 835.0L696.3 835.2L698.5 835.1L700.7 835.8L702.9 835.7L705.2 836.1L707.4 836.5L709.7 836.3L711.9 836.2L714.2 836.5L716.4 836.1L718.7 835.2L720.9 835.1L723.2 834.7L725.4 835.3L727.7 835.4L729.9 835.4L732.2 835.0L734.4 835.4L736.7 835.3L738.9 835.6L741.2 835.2L743.4 835.7L745.7 835.7L747.2 833.8L749.4 832.6L750.9 830.7L752.6 829.0L754.6 827.7L756.7 826.4L758.5 824.9L760.0 822.9L758.0 822.0L755.8 821.5L753.7 820.8L751.7 819.8L749.7 818.9L747.8 817.8L745.7 817.0L744.5 814.9L744.1 812.4L743.0 810.2L742.1 807.9L740.7 805.8L739.6 803.6L738.6 801.4L741.0 801.8L743.4 801.1L745.7 800.8L748.1 800.9L750.5 801.5L752.9 800.9L755.2 800.6L757.6 800.8L760.0 801.4L762.1 799.9L764.7 799.8L767.1 798.9L769.6 798.7L771.9 797.8L774.3 797.0L776.6 796.5L778.8 795.7L781.1 795.3L783.5 795.0L785.7 794.3L788.1 793.8L790.6 793.5L793.0 792.9L795.4 792.5L797.9 792.6L800.4 792.4L802.9 792.9L805.1 792.6L807.3 792.8L809.5 792.1L811.7 792.1L813.9 791.9L816.1 791.6L818.3 791.4L820.4 790.9L822.6 790.9L824.9 791.2L827.0 790.6L829.2 790.0L831.4 790.0L833.4 789.0L835.6 788.7L837.8 788.3L840.1 788.3L842.1 787.2L844.3 786.9L846.5 786.6L848.6 785.7L850.9 786.2L853.3 786.2L855.6 786.1L857.9 786.1L860.3 786.1L862.6 786.7L865.0 786.4L867.3 786.3L869.6 786.8L871.9 787.4L874.3 787.0L876.8 786.1L879.3 785.1L882.0 784.6L884.1 785.2L886.3 785.9L888.3 786.8L890.5 787.4L892.7 787.3L894.9 787.8L897.0 788.5L899.2 788.7L901.4 789.4L903.6 789.4L905.8 789.7L908.0 790.0L910.3 790.1L912.6 790.0L914.9 789.3L917.2 789.7L919.6 789.8L921.9 789.7L924.2 789.9L926.5 790.1L928.8 789.5L931.1 789.7L933.4 789.4L935.8 789.4L938.1 789.3L940.4 789.5L942.7 789.4L945.0 790.0L945.5 787.8L946.1 785.6L947.0 783.5L947.7 781.3L948.0 779.0L950.2 779.6L952.4 780.4L954.7 779.8L956.9 780.0L959.2 779.6L961.4 780.7L963.6 780.9L965.8 781.0L968.1 781.1L970.3 781.8L972.5 781.6L974.8 781.7L977.0 782.0L979.2 782.3L981.4 782.8L983.6 782.7L985.8 782.9L988.1 782.7L990.3 783.2L992.5 782.8L994.7 782.9L997.0 783.1L999.2 783.3L1001.3 784.0L1003.5 784.6L1005.7 784.2L1007.8 782.9L1009.9 782.2L1012.2 782.1L1014.5 782.2L1016.8 781.9L1019.0 781.4L1021.2 781.2L1023.5 780.9L1025.6 780.2L1027.8 779.7L1030.0 779.0L1031.7 777.6L1033.4 776.2L1035.2 774.9L1036.9 773.5L1038.4 771.9L1040.5 771.0L1042.4 769.6L1043.9 767.8L1045.9 766.6L1047.2 764.6L1049.3 763.5L1050.9 761.8L1052.9 760.5L1054.8 759.1L1056.3 757.3L1058.1 755.8L1059.7 754.1L1061.7 752.9L1063.4 751.1L1065.5 750.0L1067.6 748.7L1069.6 747.5L1071.6 746.2L1073.5 744.7L1075.5 743.3L1077.5 742.0L1079.6 740.9L1081.6 739.5L1083.9 739.1L1086.3 738.9L1088.6 738.4L1090.7 737.2L1092.7 736.0L1094.8 734.7L1097.2 734.5L1099.5 734.1L1102.0 734.1L1104.0 732.8L1102.0 734.0L1100.1 735.5L1098.3 736.9L1096.3 738.2L1094.3 739.4L1092.7 741.2L1090.7 742.5L1089.0 744.1L1086.9 745.3L1084.8 746.4L1082.8 747.6L1082.3 750.0L1082.1 752.4L1081.2 754.7L1080.3 756.9L1079.7 759.3L1079.6 761.7L1079.0 764.1L1078.0 766.3L1077.5 768.7L1078.9 770.6L1079.9 772.8L1081.3 774.8L1082.4 776.9L1083.7 778.8L1084.6 781.2L1086.2 783.0L1088.0 784.6L1086.1 786.0L1084.0 787.3L1082.0 788.5L1079.8 789.5L1077.7 790.7L1075.7 792.0L1073.8 793.3L1072.0 795.0L1069.8 795.1L1067.6 795.4L1065.3 795.1L1063.2 795.6L1060.9 795.3L1058.7 795.3L1056.5 795.4L1054.3 795.5L1052.1 795.8L1049.9 796.4L1047.7 796.8L1045.5 797.4L1043.3 797.3L1041.1 797.3L1038.9 797.6L1036.6 797.6L1034.4 797.0L1032.2 797.6L1030.0 797.8L1027.8 798.7L1025.7 799.9L1023.5 800.6L1021.2 801.4L1019.1 802.5L1016.7 802.7L1014.4 803.4L1012.1 804.1L1009.9 804.8L1007.9 806.4L1005.5 806.7L1003.5 808.0L1005.8 808.1L1008.1 808.2L1010.3 808.4L1012.4 809.7L1014.6 810.1L1016.7 810.9L1019.0 811.2L1021.0 812.3L1023.2 812.9L1025.4 813.3L1027.6 813.9L1030.0 813.6L1032.1 814.8L1034.5 814.8L1036.7 815.3L1039.0 815.5L1041.3 815.5L1043.6 815.7L1045.9 816.0L1048.2 816.2L1050.4 816.7L1052.7 817.4L1054.9 818.0L1057.1 818.5L1059.4 818.9L1061.7 819.0L1063.9 819.8L1066.2 819.9L1068.3 820.8L1070.5 821.4L1072.7 822.1L1074.8 823.1L1077.0 823.8L1079.2 824.3L1081.4 824.9L1083.9 824.6L1085.9 825.9L1088.0 826.8L1090.3 826.5L1092.5 826.3L1094.8 826.1L1097.0 825.6L1099.3 825.6L1101.7 826.0L1103.9 825.8L1106.2 825.4L1108.4 824.9L1110.7 824.7L1113.0 824.6L1115.3 824.4L1117.5 823.6L1119.8 824.0L1122.0 823.9L1124.2 823.3L1126.5 823.2L1128.7 822.8L1130.9 822.7L1133.2 822.7L1135.4 822.5L1137.6 822.4L1139.8 822.0L1142.0 821.5L1144.2 820.9L1146.4 820.8L1148.6 820.3L1150.8 819.8L1153.1 819.6L1155.3 819.8L1157.5 819.3L1159.7 818.8L1162.0 819.0L1163.8 817.7L1165.5 816.3L1167.4 815.1L1169.3 813.9L1171.3 813.1L1173.6 812.5L1175.4 811.3L1177.5 810.5L1179.5 809.4L1181.3 808.2L1182.7 806.3L1185.0 805.8L1186.8 804.5L1188.5 803.0L1190.7 802.1L1192.9 801.3L1195.1 800.2L1197.3 799.5L1199.5 798.5L1201.6 797.3L1203.9 796.8L1206.1 795.9L1208.4 795.3L1210.5 794.1L1212.6 793.0L1215.0 792.5L1217.3 791.9L1219.6 791.4L1221.7 790.5L1224.0 789.8L1226.0 788.5L1228.3 788.1L1230.3 786.7L1232.4 785.7L1234.6 784.8L1236.6 783.5L1238.7 782.6L1241.0 782.0L1243.3 781.7L1245.5 781.0L1247.7 780.6L1250.0 780.3L1252.2 779.7L1254.5 779.1L1256.8 779.2L1259.0 778.6L1261.3 778.1L1263.5 777.5L1265.8 777.1L1268.0 776.6L1270.2 776.6L1272.4 776.4L1274.6 776.3L1276.8 776.0L1279.1 776.3L1281.2 775.6L1283.4 774.9L1285.6 774.6L1287.8 774.4L1290.0 774.2L1292.1 773.9L1294.3 773.5L1296.6 773.6L1298.8 773.6L1301.0 773.7L1303.1 772.8L1305.3 772.2L1307.5 772.1L1309.7 772.1L1311.9 771.5L1314.1 771.9L1316.3 771.4L1318.5 770.9L1320.7 771.0L1322.9 770.8L1325.1 770.6L1327.4 770.4L1329.6 770.4L1331.8 770.3L1334.0 770.0L1336.3 770.4L1338.5 769.6L1340.7 769.9L1343.0 769.6L1345.2 770.1L1347.4 770.0L1349.7 769.7L1351.9 769.8L1354.1 769.7L1356.3 769.4L1358.5 768.9L1360.8 768.8L1363.0 768.7L1365.2 769.3L1367.4 769.7L1369.7 769.2L1371.9 769.4L1374.1 769.7L1376.4 769.4L1378.6 769.8L1380.8 770.5L1383.1 770.3L1385.3 770.5L1387.5 771.2L1389.7 771.2L1392.0 771.0L1391.2 858.4L110.8 858.4ZM197.8 514.8L199.0 517.6L200.0 520.5L200.4 522.8L200.8 525.2L201.6 527.4L202.1 529.7L201.4 531.9L200.6 533.9L199.6 535.9L198.7 538.5L198.2 541.2L197.7 543.4L197.4 545.7L196.8 547.9L196.1 550.0L195.4 552.4L194.5 554.8L193.9 557.3L193.2 559.7L192.7 562.1L191.9 564.4L191.3 566.8L190.7 569.2L190.0 571.6L187.9 572.8L185.5 573.7L183.3 574.7L181.1 573.3L179.0 572.0L178.8 569.8L178.4 567.6L177.9 565.4L177.4 563.2L177.0 561.0L176.5 558.8L177.3 556.5L178.3 554.3L179.5 552.2L180.4 550.0L180.0 547.8L179.4 545.6L179.0 543.4L179.4 541.0L179.7 538.6L180.1 536.1L180.4 533.7L182.7 532.8L184.9 531.9L187.2 531.1L188.9 529.4L190.8 527.9L192.5 526.2L193.4 523.7L194.6 521.4L196.1 519.2L197.1 517.0ZM306.5 418.7L308.4 420.4L310.1 422.2L311.2 424.3L312.3 426.3L313.3 428.4L313.1 430.8L312.9 433.3L310.9 434.4L309.0 435.9L306.9 434.6L306.5 431.7L306.2 428.9L306.3 426.4L306.2 424.0L306.5 421.4ZM361.3 437.2L363.5 437.8L365.5 439.0L369.1 439.0L371.6 442.1L373.2 443.9L374.4 446.0L376.5 448.0L378.7 450.0L381.5 452.2L383.1 453.8L384.5 455.5L386.1 457.1L388.2 458.3L390.0 459.7L391.5 463.7L392.2 465.7L393.0 467.8L393.9 469.8L395.7 471.5L397.5 473.0L399.3 474.7L399.0 477.1L398.9 479.5L398.7 482.2L398.5 484.8L398.6 487.5L394.3 487.5L391.8 483.9L389.9 482.5L387.9 481.2L386.1 479.5L384.6 477.3L382.9 475.2L381.5 472.9L380.8 470.7L379.9 468.6L379.4 466.3L377.8 464.4L376.3 462.5L374.8 460.6L373.8 457.6L373.3 454.4L371.7 452.8L369.8 451.3L368.3 449.5L367.0 447.4L365.5 445.6L363.6 443.2L361.6 440.8ZM396.4 491.9L397.7 489.8L399.3 487.9L402.8 487.9L405.2 488.7L407.4 489.7L409.6 491.9L412.4 492.1L415.3 492.3L417.0 490.1L419.9 491.2L422.7 492.3L424.1 495.4L426.8 495.8L429.5 496.3L429.1 500.2L426.6 499.3L424.1 498.5L421.8 498.7L419.4 498.4L417.0 498.5L414.7 497.6L412.3 496.6L409.9 495.8L406.4 496.3L403.7 495.4L401.1 494.5L398.7 493.3ZM409.9 453.5L412.1 453.1L414.6 454.4L417.7 455.7L418.2 453.3L418.5 450.9L421.3 449.4L424.1 447.8L425.3 445.7L426.5 443.7L427.7 441.6L430.0 439.6L432.7 438.1L434.4 435.9L435.9 433.5L437.3 431.1L439.0 432.4L440.8 433.7L440.8 435.9L443.5 437.1L446.2 438.1L444.2 440.1L442.3 442.1L440.5 443.4L440.8 446.1L441.6 448.7L441.3 450.9L441.2 453.1L443.3 455.3L445.5 457.5L441.6 458.4L440.1 461.9L440.1 465.4L438.4 467.0L436.6 468.5L436.7 471.4L436.6 474.2L435.8 476.9L435.2 479.5L432.5 479.7L429.8 480.0L429.5 477.3L426.8 476.7L424.1 476.0L422.0 476.7L419.9 477.3L417.0 476.1L414.2 474.7L414.2 471.8L413.8 468.9L411.9 466.6L410.3 464.1L409.8 461.3L409.6 458.4L409.6 455.9ZM449.0 459.3L451.9 456.2L454.3 456.9L456.9 457.2L459.3 457.9L461.8 457.9L464.3 457.5L467.5 454.9L466.1 457.4L465.0 460.1L460.7 460.6L458.4 460.4L456.0 460.2L453.6 459.7L450.1 461.9L449.4 465.4L452.1 465.4L454.7 465.9L457.7 466.3L460.7 466.3L458.7 467.6L456.8 468.9L454.3 470.3L455.9 473.1L457.5 476.0L459.0 480.0L458.6 482.8L458.3 485.7L455.8 483.0L454.3 482.2L453.3 479.7L452.2 477.3L452.2 473.8L450.1 474.7L450.5 477.5L450.6 480.2L450.4 483.0L450.1 486.1L446.9 486.1L447.2 483.3L447.2 480.4L447.2 477.3L444.8 474.2L445.6 471.1L446.5 468.1L447.3 465.2L448.3 462.3ZM487.7 465.9L490.5 464.9L493.1 463.7L495.9 464.6L498.8 465.4L499.1 468.1L499.5 470.7L500.8 473.6L502.3 476.4L504.6 474.4L506.6 472.0L508.5 470.9L510.4 469.7L512.3 468.5L514.7 469.8L517.2 470.9L519.4 472.5L523.6 473.4L526.2 474.8L529.0 476.0L531.3 477.0L533.6 478.0L536.1 478.6L537.7 480.3L539.1 482.2L540.7 483.9L542.5 485.9L544.2 487.9L547.8 490.1L545.6 492.3L547.0 494.4L548.1 496.7L549.3 499.1L550.6 501.5L552.8 503.5L554.9 505.5L558.4 507.3L555.6 509.0L553.2 508.4L550.8 507.6L548.5 506.8L546.7 505.3L544.9 503.8L543.8 501.7L542.6 499.6L541.4 497.6L538.9 496.7L536.4 495.8L532.9 498.0L531.8 501.5L529.4 501.6L527.2 502.4L523.6 502.0L521.6 499.8L519.7 497.6L517.3 498.0L515.1 498.9L512.3 498.9L514.3 496.3L516.2 493.6L515.1 491.3L513.9 489.0L513.0 486.6L510.7 484.9L508.3 483.5L505.9 482.2L503.5 481.1L501.1 480.1L498.8 479.1L494.8 480.0L494.5 476.4L496.2 475.0L498.0 473.8L495.4 472.9L492.7 472.0L490.3 470.4L488.1 468.5ZM451.1 380.4L454.0 380.5L456.8 380.4L457.1 383.3L457.2 386.1L455.7 388.9L454.7 391.9L454.9 394.2L455.1 396.5L455.1 398.9L457.3 399.9L459.7 400.7L460.8 402.7L462.2 404.5L463.6 406.4L461.1 404.6L459.3 402.8L457.9 400.7L455.6 401.2L453.3 402.0L451.1 398.5L449.4 395.8L448.9 393.0L448.7 390.1L449.4 387.4L450.4 384.8L450.9 382.6ZM468.2 418.7L469.1 420.9L470.1 422.9L471.4 424.9L471.7 427.5L472.1 430.2L471.0 434.1L468.2 437.2L468.2 434.6L467.8 431.9L465.9 433.1L463.9 434.1L463.5 432.0L463.2 429.7L459.7 428.9L456.5 431.5L456.4 429.0L457.2 426.7L459.5 425.4L461.8 424.0L465.7 424.0L466.9 421.3ZM464.3 406.8L467.8 406.8L468.4 409.7L469.3 412.6L467.9 414.9L466.8 417.4L464.3 417.8L462.7 419.4L461.1 420.9L457.9 419.6L456.7 417.7L455.8 415.6L456.2 412.8L456.5 409.9L459.7 411.2L460.7 413.4L461.4 415.6L462.9 413.5L464.3 411.2L464.4 409.0ZM439.1 424.9L440.9 423.0L443.0 421.4L444.7 419.3L445.9 417.0L447.2 414.8L446.9 412.1L445.3 414.4L444.0 417.0L442.1 419.6L440.1 422.2ZM454.3 350.4L455.8 352.6L455.4 355.2L454.7 357.7L454.0 360.1L452.9 362.8L451.9 365.4L450.4 363.1L449.4 360.6L450.3 358.3L451.1 356.0L451.5 353.5ZM413.8 373.3L416.7 374.2L415.9 376.6L415.3 379.1L413.4 380.3L411.7 381.7L408.9 380.0L408.9 376.0L411.4 374.8ZM487.7 312.6L490.6 313.9L491.3 317.4L490.4 320.2L489.5 323.1L487.0 325.3L485.3 324.0L485.2 321.8L485.3 319.6L483.5 317.8L483.5 314.8L485.6 313.7ZM493.4 312.1L496.4 311.4L499.5 310.8L501.2 313.0L499.5 315.2L497.2 316.0L495.2 317.4L493.1 314.8ZM487.7 312.1L489.9 309.5L492.2 307.5L494.5 305.5L497.2 305.4L499.8 305.1L502.7 304.9L505.5 304.6L507.3 302.1L508.7 299.3L510.5 296.7L513.0 298.0L515.8 294.9L517.7 292.8L519.4 290.5L519.4 288.1L520.1 285.7L520.7 283.1L521.1 280.4L524.3 279.1L524.9 281.3L525.4 283.5L527.2 287.4L526.4 290.1L525.4 292.7L523.6 295.4L523.1 297.6L522.6 299.8L522.2 302.0L522.9 304.6L520.1 307.3L519.4 305.5L517.2 306.8L515.8 309.0L513.7 309.5L509.8 309.5L509.1 310.8L506.9 312.3L505.1 314.3L502.7 312.1L503.7 309.5L501.2 309.4L498.8 309.5L495.9 310.1L493.1 310.8L490.6 312.1ZM520.4 279.5L521.1 276.0L519.4 274.2L521.8 271.1L524.7 271.1L525.6 268.5L526.1 265.9L526.5 261.9L528.5 263.8L530.7 265.4L533.0 266.7L535.3 268.1L538.9 266.7L540.0 270.7L537.6 271.7L535.3 272.9L533.2 274.5L531.8 276.9L529.6 275.4L527.2 274.2L523.6 275.1L524.0 277.7ZM527.2 222.7L530.4 224.0L531.2 226.6L531.8 229.3L531.8 232.2L531.8 235.0L533.0 237.9L534.3 240.7L535.4 243.4L536.4 246.0L534.0 245.2L531.4 244.7L530.5 247.6L529.3 250.4L530.8 253.1L532.5 255.7L532.1 258.8L529.7 256.2L527.2 259.2L527.2 257.0L527.2 254.8L527.2 252.6L527.4 249.5L527.9 246.5L527.8 244.1L527.6 241.8L527.5 239.4L527.2 237.2L526.8 235.0L526.5 232.8L526.6 229.7L526.8 226.6ZM461.4 507.3L463.2 505.4L465.0 503.5L466.8 501.5L469.1 500.5L471.5 499.7L473.9 498.9L473.2 500.7L471.1 502.2L468.9 503.6L466.8 505.1L463.2 507.3ZM434.8 498.9L438.4 498.9L440.7 498.8L443.0 498.5L445.5 499.8L449.0 498.9L451.7 499.0L454.3 499.3L456.8 498.7L459.3 498.0L459.0 500.2L455.8 500.6L452.6 501.1L448.3 500.7L446.0 500.8L443.7 500.7L441.0 500.9L438.4 501.5L434.8 501.1ZM475.7 453.5L477.4 456.6L479.9 457.5L478.1 460.6L477.8 462.8L477.4 465.0L476.9 462.7L476.0 460.6L476.4 457.5ZM477.4 475.1L480.1 474.7L482.8 474.2L485.1 475.3L487.4 476.4L484.5 477.8L481.9 477.7L479.2 477.3ZM549.9 486.6L552.8 485.4L555.6 483.9L558.3 482.2L560.9 480.4L563.8 481.3L562.2 483.9L560.9 486.6L558.4 488.1L555.6 489.2L552.0 489.2ZM529.0 509.0L530.0 511.3L530.8 513.6L531.7 515.9L532.5 518.3L532.8 520.5L533.2 522.7L533.6 524.9L536.4 525.3L538.0 527.4L538.9 529.7L539.4 532.0L539.9 534.2L540.7 536.4L541.4 538.8L542.1 541.2L543.2 543.8L544.2 546.5L546.7 548.3L549.2 550.0L551.0 552.4L552.8 554.9L554.1 557.5L555.6 560.1L557.3 562.4L558.4 565.0L560.4 566.3L562.3 567.6L563.4 569.6L564.5 571.6L565.9 573.4L567.0 576.0L566.8 578.2L566.5 580.4L566.6 582.6L567.5 585.3L568.4 587.9L567.7 590.7L566.9 593.5L566.3 596.3L566.1 598.5L565.6 600.7L565.2 602.9L563.6 604.9L562.0 606.8L561.1 609.0L560.2 611.2L558.8 614.8L557.9 617.8L556.3 620.5L556.0 622.7L555.5 624.9L555.2 627.1L553.0 627.6L550.7 628.2L548.5 628.9L546.7 630.1L544.9 631.5L542.8 634.2L539.6 632.0L537.1 630.6L534.8 631.7L532.5 632.8L529.5 631.8L526.5 631.1L524.2 630.2L521.8 629.3L520.6 627.1L519.4 624.9L518.7 622.7L518.3 620.5L516.0 619.5L513.7 618.7L514.7 615.2L513.0 612.6L511.9 616.5L509.1 617.4L510.0 614.5L511.2 611.7L511.8 609.1L512.3 606.4L510.8 608.4L509.4 610.4L507.7 612.7L505.9 614.8L504.4 615.7L503.0 613.9L501.9 611.6L500.6 609.5L499.5 607.3L497.3 603.8L494.5 603.3L491.6 602.9L488.1 600.7L485.8 601.3L483.4 601.4L481.0 601.6L478.3 602.7L475.7 603.8L473.0 604.0L470.3 604.2L467.6 605.7L465.0 607.3L463.2 609.2L461.4 611.2L458.8 611.5L456.1 611.7L453.8 611.8L451.4 611.8L449.0 611.7L445.5 613.9L441.9 616.1L439.5 615.9L437.2 615.5L434.8 615.7L431.6 613.5L431.2 609.9L433.7 608.6L433.5 605.7L433.7 602.9L433.0 600.7L432.3 598.5L431.7 596.3L431.2 594.1L430.6 591.4L429.8 588.8L428.7 586.0L428.1 583.1L426.7 580.2L425.2 577.3L426.0 574.7L426.3 572.0L425.8 569.8L425.6 567.6L426.2 565.0L427.0 562.3L427.6 560.1L428.4 557.9L429.1 561.0L430.0 559.0L431.2 557.1L433.3 555.7L435.3 554.1L437.3 552.7L439.5 552.1L441.8 551.8L444.0 551.3L446.5 550.5L449.0 549.6L450.7 548.2L452.6 546.9L454.3 545.6L455.6 543.4L456.8 541.2L456.9 539.0L456.8 536.8L459.3 534.2L460.2 536.4L461.8 538.1L462.8 536.0L463.2 533.7L464.2 531.5L465.4 529.3L467.1 527.6L468.6 525.8L471.0 524.1L473.5 522.7L475.5 524.9L477.4 527.1L478.1 529.3L481.0 527.5L482.0 525.5L483.1 523.6L484.2 520.9L486.0 517.4L487.4 516.5L489.9 515.6L493.8 515.2L491.6 511.7L494.5 512.1L497.0 513.9L499.7 514.6L502.3 515.6L505.5 515.1L508.7 514.8L507.1 517.5L505.9 520.5L505.5 524.5L503.7 527.5L505.4 529.0L507.1 530.4L508.7 531.9L511.0 533.2L513.0 535.0L515.1 536.6L517.2 538.1L520.1 539.9L523.3 539.0L523.9 536.8L524.3 534.6L524.7 532.4L525.4 530.2L525.8 528.0L525.6 525.8L525.8 523.6L525.8 521.4L526.1 517.4L526.7 515.0L527.2 512.6ZM536.8 641.2L538.9 641.8L541.1 642.3L543.2 643.0L546.2 642.4L549.2 641.6L549.3 644.3L549.6 646.9L549.0 649.6L548.5 652.2L544.9 654.0L541.4 653.5L540.1 651.1L538.9 648.7L538.2 646.2L537.1 643.8ZM636.2 613.5L638.6 615.0L640.5 617.0L642.6 620.5L643.7 624.0L646.2 623.1L647.6 627.1L651.5 628.9L654.2 628.6L656.9 628.0L655.9 630.2L655.1 632.4L654.7 634.6L651.5 635.5L651.2 639.0L648.7 642.5L645.5 645.2L643.7 643.8L644.8 640.3L644.1 637.7L640.9 636.4L640.2 635.0L643.0 632.8L643.4 629.3L643.4 626.2L641.9 622.7L640.3 620.2L638.4 617.9L637.4 615.6ZM636.2 640.3L637.7 643.8L640.9 642.5L641.9 645.6L639.8 648.7L638.3 651.0L636.6 653.1L637.3 654.9L634.8 655.3L631.3 657.5L630.2 660.6L629.1 664.1L627.2 665.5L625.2 666.8L621.0 667.2L618.1 665.4L614.2 664.6L614.6 662.4L616.3 660.4L617.8 658.4L621.0 655.7L622.8 654.5L624.7 653.3L626.7 652.2L628.9 650.6L630.9 648.7L632.0 646.1L633.0 644.0L634.1 642.1ZM845.5 238.1L848.0 238.2L850.5 238.5L853.2 239.6L855.8 240.7L857.6 242.1L859.2 243.7L861.1 244.7L863.3 248.2L859.4 248.2L857.1 246.8L854.7 245.6L852.5 244.1L850.5 242.5L846.9 240.3ZM829.2 223.6L831.4 224.0L833.8 224.0L834.8 226.6L835.3 229.3L835.9 231.9L833.7 230.6L831.6 228.8L830.2 226.3ZM752.8 208.6L755.1 207.3L757.4 206.0L759.9 205.1L761.7 208.6L759.0 210.0L756.3 211.2L754.6 209.9ZM1104.1 235.0L1102.5 237.2L1100.9 239.4L1099.6 242.0L1097.4 243.8L1096.0 246.3L1093.8 248.2L1092.8 250.3L1091.0 251.8L1094.0 254.9L1097.4 252.2L1100.4 253.6L1103.4 254.8L1106.8 253.8L1109.8 255.7L1112.7 256.2L1114.4 252.6L1114.2 250.2L1112.7 248.2L1110.2 244.7L1107.9 242.1L1104.5 242.1L1102.0 240.7L1103.6 238.1ZM1000.0 365.4L1002.1 364.0L1004.2 362.6L1006.1 361.0L1008.2 360.2L1010.4 359.7L1013.0 359.8L1015.7 360.1L1018.3 361.7L1021.0 363.2L1023.6 364.7L1026.3 365.9L1029.1 367.3L1031.7 368.9L1033.7 370.4L1035.8 371.7L1038.1 372.9L1035.7 373.5L1033.4 374.2L1031.0 374.4L1028.5 374.4L1026.0 374.4L1027.4 371.1L1025.0 370.4L1022.8 369.4L1020.4 367.9L1018.2 366.3L1015.8 365.7L1013.4 364.9L1011.1 364.1L1006.8 365.0L1003.2 365.9ZM1037.4 380.0L1039.8 380.3L1042.3 380.4L1043.2 377.7L1044.1 375.1L1040.9 374.7L1043.9 374.8L1046.9 374.7L1050.0 375.0L1053.0 375.1L1054.8 376.8L1056.9 378.2L1058.7 380.0L1055.8 380.5L1053.0 381.3L1050.4 382.7L1047.7 383.9L1044.1 381.7L1041.4 381.9L1038.8 382.2ZM1023.5 381.3L1025.8 380.9L1028.1 380.4L1031.0 382.6L1027.4 383.5L1023.5 382.2ZM1062.9 380.4L1065.6 380.6L1068.3 380.8L1067.9 382.6L1065.4 382.8L1062.9 382.6ZM1084.3 689.2L1087.3 688.9L1090.3 687.9L1093.3 688.4L1096.3 689.2L1094.3 690.9L1092.1 692.3L1089.4 692.2L1086.7 691.9ZM1215.3 172.9L1217.9 172.5L1220.2 171.6L1221.7 169.4L1224.3 171.4L1227.1 172.9L1229.1 171.7L1231.6 172.2L1233.7 171.3L1236.0 170.7L1238.7 170.9L1241.2 169.5L1243.8 168.9L1246.7 170.4L1249.8 171.1L1251.8 173.2L1253.4 175.5L1251.0 177.3L1248.4 178.6L1246.1 178.9L1244.4 180.8L1242.0 180.8L1239.9 181.6L1237.7 182.1L1235.3 182.5L1233.0 182.4L1230.6 181.7L1228.3 181.7L1225.9 181.7L1223.6 181.1L1221.4 180.4L1223.5 177.7L1221.4 176.3L1218.9 176.1L1216.4 176.0L1219.2 174.4L1222.5 174.7L1219.9 174.6L1217.5 174.3ZM1283.9 203.7L1286.3 203.4L1288.7 203.4L1291.0 203.7L1289.3 205.7L1287.5 207.7L1289.8 208.1L1292.2 208.4L1294.6 207.7L1294.4 210.4L1293.9 213.0L1290.3 215.2L1293.1 215.9L1295.6 217.4L1297.4 221.4L1299.1 224.2L1302.0 225.8L1302.7 228.8L1305.3 228.7L1307.7 229.7L1306.3 233.3L1304.9 235.5L1306.7 236.3L1302.7 238.1L1299.9 238.1L1297.1 238.1L1294.1 238.4L1291.0 238.5L1288.5 240.7L1286.2 241.0L1283.8 240.9L1281.4 241.2L1283.2 239.7L1284.9 238.1L1286.4 236.3L1288.7 236.2L1291.0 235.9L1288.8 234.6L1286.3 234.5L1283.9 234.1L1286.8 231.0L1285.7 228.8L1288.1 227.9L1290.7 227.1L1291.0 224.0L1289.2 220.5L1286.6 219.8L1283.9 220.5L1284.6 216.5L1281.8 217.8L1281.9 215.1L1281.1 212.5L1281.1 210.3L1281.4 208.1L1282.2 205.7ZM1275.7 218.3L1278.1 218.7L1280.4 219.2L1281.8 221.8L1280.3 223.7L1280.0 226.2L1279.1 228.8L1279.7 231.5L1277.6 232.4L1275.5 233.2L1273.3 233.7L1270.1 234.3L1266.9 235.0L1265.1 231.9L1267.0 230.1L1268.6 228.0L1267.1 225.7L1266.2 223.1L1268.8 222.3L1271.5 222.2L1272.2 219.2ZM1346.1 294.5L1348.3 294.4L1350.5 294.2L1352.7 294.0L1354.9 294.0L1357.1 293.6L1356.1 296.2L1355.7 298.9L1355.0 300.2L1352.7 299.5L1350.6 298.5L1348.6 297.2L1346.4 296.3ZM1330.8 281.7L1333.3 281.2L1335.8 280.8L1336.0 283.5L1336.1 286.1L1334.9 288.1L1333.7 290.1L1331.5 289.2L1331.2 286.7L1331.2 284.2ZM1332.6 274.2L1335.1 272.5L1335.4 274.7L1335.4 276.9L1334.4 279.5L1332.2 277.3ZM106.5 305.5L109.7 305.9L112.9 306.0L116.1 306.4L113.3 307.9L111.1 307.4L108.8 307.0L106.5 306.8ZM1385.5 305.5L1388.7 305.9L1391.9 306.0L1395.1 306.4L1392.3 307.9L1390.1 307.4L1387.8 307.0L1385.5 306.8ZM137.4 307.5L139.9 306.2L142.8 305.9L145.4 304.8L143.1 307.9L139.9 309.5L137.8 308.8ZM205.6 146.9L208.0 146.1L209.2 144.0L211.0 142.5L213.1 141.7L214.7 140.1L216.7 139.1L218.8 138.1L219.9 135.9L222.0 135.1L224.1 134.2L225.9 132.9L227.0 130.6L229.5 130.1L232.1 129.4L234.5 128.5L236.9 127.5L239.4 126.6L241.7 126.5L243.9 126.2L246.2 126.0L248.5 126.1L250.7 125.2L252.9 124.9L255.1 124.1L257.2 123.1L259.3 123.9L261.5 124.7L263.7 124.8L266.0 124.4L263.6 124.8L261.6 126.3L259.2 126.6L257.2 128.0L255.0 128.5L252.9 129.4L250.9 130.3L248.5 129.9L246.2 129.3L244.0 129.8L242.0 131.1L239.9 131.6L237.6 131.5L235.3 132.4L233.3 134.0L231.1 135.1L228.7 135.9L226.2 137.0L224.0 138.8L221.6 140.3L222.7 143.0L224.8 145.0L227.0 146.9L225.2 150.9L222.8 151.4L220.4 151.3L218.1 150.4L215.4 150.1L212.8 149.5L210.4 148.7L208.0 147.9ZM1340.8 111.7L1343.5 111.3L1346.2 111.1L1349.0 111.1L1351.4 109.5L1353.5 114.2L1355.8 110.6L1358.1 110.4L1360.3 110.3L1362.5 112.3L1364.8 109.1L1367.0 108.8L1369.2 109.9L1372.1 109.9L1372.6 114.2L1374.7 115.6L1378.1 114.7L1376.1 116.3L1373.5 116.4L1372.9 120.4L1369.6 119.5L1367.4 120.5L1364.7 121.1L1362.7 122.9L1360.3 124.0L1357.8 123.8L1355.8 122.4L1353.6 121.3L1351.4 120.5L1349.2 118.8L1346.5 117.8L1344.3 116.1L1342.7 113.7ZM88.4 108.6L90.7 109.0L93.0 108.2L95.2 107.8L97.6 108.4L99.8 107.4L102.1 107.4L104.4 107.7L106.9 107.0L109.3 106.6L111.7 107.1L114.0 108.1L116.4 108.2L118.6 109.5L116.7 111.6L114.3 112.4L111.5 112.5L109.2 112.2L107.0 111.5L104.7 112.0L102.4 111.9L100.1 111.4L97.9 110.7L95.5 111.7L93.0 111.0L90.6 110.0ZM1367.4 108.6L1369.7 109.0L1372.0 108.2L1374.2 107.8L1376.6 108.4L1378.8 107.4L1381.1 107.4L1383.4 107.7L1385.9 107.0L1388.3 106.6L1390.7 107.1L1393.0 108.1L1395.4 108.2L1397.6 109.5L1395.7 111.6L1393.3 112.4L1390.5 112.5L1388.2 112.2L1386.0 111.5L1383.7 112.0L1381.4 111.9L1379.1 111.4L1376.9 110.7L1374.5 111.7L1372.0 111.0L1369.6 110.0ZM747.4 372.9L751.0 375.1L748.9 378.4L747.4 375.6ZM605.3 550.5L607.0 551.9L608.9 553.0L610.7 554.4L612.6 556.1L614.3 558.2L616.0 560.1L612.4 559.3L610.7 557.7L608.8 556.1L607.1 554.4ZM652.6 539.4L654.4 538.1L657.2 539.4L657.2 542.1L654.4 542.3L652.6 541.2ZM558.4 473.4L560.6 474.9L562.7 476.4L563.9 478.3L565.0 480.3L566.3 482.2L564.8 480.4L563.1 478.4L561.3 476.4ZM572.3 486.1L573.8 488.0L575.3 489.8L576.6 491.9L574.1 490.1ZM212.4 406.2L216.3 406.6L213.8 407.7ZM162.3 487.5L163.2 489.2L162.3 490.1ZM1145.4 198.4L1143.3 196.5L1141.9 193.5L1138.3 194.5L1136.5 192.4L1134.0 192.7L1131.8 191.9L1129.4 191.8L1128.6 189.2L1125.8 188.8L1123.2 187.7L1121.3 186.0L1120.6 183.4L1120.0 180.7L1118.0 179.1L1117.4 176.8L1117.1 174.3L1115.3 172.6L1113.4 171.1L1112.4 169.0L1110.9 167.2L1108.9 164.4L1111.6 162.3L1113.7 160.4L1114.1 155.7L1118.7 157.9L1116.4 156.8L1113.6 156.4L1111.3 155.3L1108.9 154.1L1107.0 152.2L1106.7 148.9L1109.8 147.8L1106.8 146.9L1104.5 144.7L1102.4 141.2L1100.1 140.0L1100.2 137.2L1094.9 138.1L1097.4 133.7L1095.4 131.9L1093.0 130.7L1091.0 129.0L1088.5 128.0L1086.2 125.6L1083.2 126.9L1079.9 130.4L1077.9 126.2L1074.9 122.7L1072.5 126.7L1069.8 126.0L1067.2 127.1L1064.9 125.5L1061.8 127.8L1060.3 122.8L1057.2 124.9L1054.4 124.2L1051.5 123.8L1049.4 121.4L1046.7 120.7L1043.8 120.4L1042.3 117.4L1045.3 119.3L1048.2 120.8L1049.5 116.0L1051.9 115.6L1054.6 116.2L1056.5 113.9L1058.9 113.3L1061.3 113.6L1063.7 113.2L1066.0 112.3L1068.3 111.6L1070.8 111.7L1074.6 112.0L1074.3 108.1L1071.7 107.2L1069.0 107.2L1066.3 107.3L1063.6 107.3L1065.5 104.7L1069.0 108.7L1070.8 105.5L1073.4 106.3L1075.7 105.9L1078.2 106.0L1080.7 106.2L1082.7 104.0L1085.0 102.8L1087.2 101.7L1089.9 103.5L1091.8 100.3L1094.5 101.5L1096.6 99.5L1099.2 100.9L1101.3 98.9L1104.1 101.0L1106.3 99.3L1108.8 100.8L1111.1 99.5L1113.4 98.8L1115.6 96.0L1118.0 96.8L1120.4 97.5L1122.8 97.7L1125.2 97.1L1127.5 96.6L1129.9 96.6L1132.3 96.8L1134.7 97.1L1137.0 97.7L1139.3 97.4L1141.4 95.9L1143.5 93.6L1146.3 99.3L1148.4 97.5L1150.6 96.7L1152.9 97.3L1155.1 96.4L1157.8 100.1L1159.6 94.9L1161.8 95.0L1164.1 95.2L1166.3 93.8L1168.6 93.5L1170.7 91.4L1173.1 93.5L1175.3 93.1L1177.6 93.8L1180.0 94.6L1182.2 93.7L1184.4 93.6L1186.6 94.8L1188.5 97.8L1191.3 93.9L1193.9 91.8L1196.1 92.6L1198.1 94.7L1200.5 94.4L1202.7 94.7L1204.9 95.3L1207.4 94.2L1209.3 97.1L1211.6 98.0L1214.3 97.2L1216.2 99.6L1219.0 98.6L1221.2 99.7L1223.5 100.6L1226.3 98.1L1228.2 101.8L1230.7 101.0L1233.1 101.3L1235.6 101.0L1237.7 102.8L1240.1 103.2L1242.5 102.8L1244.8 106.1L1247.2 103.5L1249.6 107.5L1251.9 103.1L1254.3 104.6L1256.7 104.8L1259.0 102.8L1256.1 101.6L1255.8 107.7L1251.9 104.1L1249.9 105.3L1247.6 106.1L1245.1 106.2L1242.3 105.3L1241.3 109.5L1237.8 109.2L1236.7 112.7L1234.2 113.9L1234.9 116.4L1234.5 118.7L1232.4 120.5L1233.5 122.8L1236.0 123.6L1235.4 126.6L1233.4 128.3L1230.6 129.3L1229.8 132.2L1232.4 133.7L1230.8 136.5L1227.9 137.0L1225.3 138.1L1222.9 139.3L1222.7 141.8L1221.7 143.8L1218.4 147.3L1221.9 149.0L1223.5 151.3L1221.6 152.7L1219.6 154.0L1216.3 151.9L1214.8 154.2L1212.9 155.7L1212.9 161.4L1209.2 159.4L1207.2 161.0L1204.0 160.1L1201.8 162.3L1199.1 161.7L1196.7 162.4L1194.2 163.1L1191.5 161.9L1189.6 163.6L1185.2 160.9L1184.8 165.4L1182.7 166.7L1181.1 168.7L1179.1 169.7L1177.3 171.0L1174.6 170.5L1173.0 172.1L1171.3 173.9L1168.5 172.9L1165.8 172.1L1163.8 173.6L1161.9 175.2L1159.6 175.5L1158.8 178.0L1158.4 180.6L1156.0 182.1L1151.1 182.2L1152.2 185.9L1147.5 186.0L1150.7 191.0L1148.4 192.2L1148.5 194.9L1147.1 196.7ZM1083.2 168.9L1082.6 164.5L1079.3 165.5L1077.7 163.2L1074.3 164.5L1072.1 163.3L1069.1 163.5L1067.2 161.7L1063.5 163.0L1063.6 157.9L1060.8 157.0L1059.7 154.5L1058.3 152.2L1056.3 150.8L1054.5 149.1L1051.8 149.2L1047.9 151.7L1047.7 146.9L1045.1 146.4L1042.8 145.1L1040.4 144.2L1037.6 144.4L1035.2 143.4L1032.9 143.5L1030.6 143.4L1028.7 142.1L1026.7 140.8L1024.6 140.3L1022.2 140.6L1020.1 139.8L1018.2 138.5L1016.1 137.7L1013.9 137.2L1011.5 137.2L1009.2 138.8L1006.6 134.3L1004.4 137.5L1002.0 136.6L999.7 138.1L997.6 139.7L995.5 141.2L993.2 141.4L990.8 140.8L988.4 140.5L986.0 139.9L983.7 140.3L983.4 142.7L981.9 144.7L982.2 148.1L985.5 149.1L986.9 151.1L989.0 152.2L991.3 152.1L993.5 152.6L995.4 155.0L997.9 153.5L1000.4 153.3L1003.0 155.5L1005.5 157.9L1008.0 158.0L1010.4 153.1L1012.4 157.8L1015.2 151.6L1017.5 153.5L1020.1 153.3L1022.7 153.4L1024.6 155.7L1026.7 157.0L1029.0 158.0L1031.4 158.7L1033.4 160.1L1036.2 159.8L1037.5 163.8L1040.6 162.3L1041.5 164.4L1041.1 166.9L1042.3 168.9L1040.5 170.3L1037.9 170.9L1037.0 173.3L1034.3 173.5L1031.7 174.5L1028.9 174.4L1026.3 175.5L1024.6 177.7L1028.3 173.9L1029.9 179.1L1032.2 177.4L1034.9 178.9L1037.4 179.0L1040.1 180.7L1042.3 177.7L1045.2 178.3L1046.9 180.9L1049.4 182.1L1053.6 179.3L1054.6 182.9L1056.0 185.6L1058.3 186.6L1059.3 191.4L1062.3 189.5L1064.6 189.6L1067.2 189.2L1070.8 189.6L1068.3 188.5L1066.6 186.7L1065.4 184.3L1062.4 184.8L1060.9 181.9L1058.3 181.3L1060.7 182.2L1063.0 183.5L1065.4 184.9L1067.4 187.1L1070.8 184.8L1072.5 182.1L1072.0 178.9L1069.0 177.7L1066.9 175.8L1065.3 173.4L1063.6 171.1L1064.8 174.3L1068.2 172.3L1070.3 173.2L1072.6 173.6L1074.3 175.5L1076.7 174.1L1076.3 168.2L1081.4 171.1ZM886.0 146.9L888.3 146.1L890.0 144.3L892.4 143.8L895.2 144.0L896.7 141.6L899.0 140.9L901.3 139.6L903.7 139.6L906.0 139.2L908.6 142.0L910.9 140.7L913.1 139.3L915.6 140.1L917.9 139.3L920.2 138.0L923.0 141.6L925.1 139.0L926.5 140.9L926.9 143.5L927.3 146.1L930.4 146.9L933.4 146.4L935.6 147.6L936.9 150.6L939.3 151.3L942.6 152.3L942.8 155.7L940.2 156.1L938.4 158.3L935.7 158.8L933.2 157.3L930.6 156.0L927.9 156.1L925.1 157.9L922.7 158.3L920.5 159.5L917.9 158.3L915.7 159.5L913.3 160.0L910.9 159.7L908.4 159.9L905.9 159.8L903.4 159.2L900.9 160.1L898.4 160.1L895.7 160.1L893.4 157.7L890.9 156.3L887.8 157.9L886.0 156.0L884.8 153.8L884.2 151.3L885.8 149.4ZM855.8 144.7L856.3 141.6L859.9 142.0L860.0 138.5L862.9 138.1L865.4 137.5L867.7 136.5L869.2 134.1L871.8 133.7L874.4 133.1L876.9 133.4L879.4 133.0L881.8 133.8L884.2 135.0L886.4 136.7L888.5 138.5L891.3 139.0L889.7 140.8L887.4 141.3L885.2 142.1L883.5 143.7L881.3 144.4L878.9 144.7L876.5 145.7L874.0 146.5L871.4 146.6L868.8 147.1L866.5 148.2L864.3 147.8L862.0 148.0L859.6 148.3L857.6 146.9ZM985.5 125.8L987.0 121.5L990.2 124.5L992.6 124.2L995.1 124.5L997.6 124.6L999.7 122.7L1001.9 123.1L1004.3 122.9L1006.4 124.0L1008.7 123.9L1010.8 125.1L1012.8 126.5L1015.2 126.2L1017.5 126.2L1020.1 125.4L1021.3 122.4L1025.4 123.8L1026.3 120.5L1028.0 118.3L1030.0 116.7L1032.1 115.3L1035.2 116.1L1039.3 117.3L1041.0 114.8L1042.3 111.7L1044.7 111.3L1046.9 109.9L1049.4 109.6L1051.1 106.4L1054.0 108.2L1056.5 108.1L1058.8 107.6L1061.2 107.4L1063.8 108.3L1066.2 108.3L1067.4 104.1L1070.2 105.4L1071.6 101.8L1074.3 102.8L1076.9 101.8L1077.9 98.1L1081.4 98.4L1079.1 97.9L1076.7 97.3L1074.1 99.5L1072.0 96.4L1069.6 96.7L1067.3 95.6L1064.7 98.1L1062.3 98.7L1060.1 95.9L1057.8 95.3L1055.5 94.7L1053.0 95.8L1050.6 93.9L1048.2 95.0L1045.9 93.0L1043.5 93.2L1041.1 94.7L1038.8 95.6L1036.4 95.6L1034.0 97.2L1031.7 98.7L1029.3 97.8L1026.9 97.0L1024.6 95.8L1022.4 96.3L1020.4 97.8L1018.1 97.3L1015.8 96.7L1013.5 96.2L1011.4 97.4L1009.4 98.7L1006.9 96.8L1004.7 96.7L1002.6 97.4L1000.5 98.5L998.3 98.7L996.1 99.3L994.0 100.3L991.8 100.6L989.5 100.7L987.2 100.8L984.9 100.7L982.5 100.2L980.5 102.1L978.4 102.8L980.8 103.5L983.5 102.9L985.6 104.8L988.5 103.6L990.2 106.6L992.6 107.3L995.0 107.6L997.0 108.7L999.5 108.7L1001.3 110.3L1003.2 111.7L999.9 109.7L998.2 111.6L995.7 111.5L993.5 112.2L992.6 116.1L991.8 118.7L990.1 120.3L987.3 120.5L992.7 125.2ZM964.2 105.0L966.8 104.6L969.6 105.4L972.3 106.0L974.8 104.2L976.8 106.0L979.4 106.3L981.7 107.3L984.7 106.7L986.9 107.9L989.0 109.5L990.6 111.9L992.6 113.9L990.5 114.7L988.1 114.4L986.4 116.3L984.5 117.8L981.9 116.9L978.7 118.2L974.9 120.4L973.7 117.5L971.7 116.2L971.3 111.7L968.9 110.7L969.0 107.0L967.3 105.3ZM974.8 124.9L977.2 124.8L979.7 126.3L982.0 125.1L984.2 122.5L986.9 128.5L989.0 124.0L991.4 124.5L993.4 127.2L996.3 123.9L998.6 124.8L1001.0 125.0L1003.4 124.8L1005.5 127.3L1008.0 126.5L1010.4 127.1L1012.8 127.6L1015.5 127.1L1017.5 129.3L1015.7 132.8L1013.2 131.2L1010.7 131.5L1008.3 132.1L1005.8 130.6L1003.4 132.5L1001.0 131.9L998.6 133.9L996.1 133.7L993.8 133.6L991.5 132.1L989.0 134.1L986.6 135.1L984.3 133.5L982.0 132.2L979.4 135.9L977.2 132.8L974.8 132.8L972.7 131.2L971.2 129.1L969.5 127.1L971.8 125.0ZM962.4 135.9L965.1 135.6L967.7 137.1L970.4 135.8L973.0 135.9L975.6 135.9L978.0 136.8L980.2 138.1L978.0 138.9L976.5 140.6L975.1 142.4L973.1 143.5L971.3 144.7L969.0 144.4L966.7 144.3L964.4 143.9L962.4 142.5L963.1 140.3L964.5 138.1ZM939.3 140.3L941.4 139.6L943.5 138.6L945.2 136.7L947.3 135.8L950.0 136.8L952.7 137.2L955.2 138.2L957.1 140.3L956.7 142.9L957.1 145.6L955.4 148.3L952.5 146.2L950.2 146.4L948.2 147.8L946.0 147.0L943.5 146.9L941.3 146.0L939.3 144.7L939.7 142.5ZM886.0 129.3L888.5 129.1L890.4 126.9L892.9 126.6L895.2 125.6L897.7 125.7L900.2 125.8L902.4 126.3L904.6 126.4L906.9 124.6L909.1 124.9L911.4 122.7L913.6 124.9L915.8 126.1L918.0 126.2L920.2 127.1L922.0 128.8L924.5 128.9L926.9 129.3L925.0 132.3L921.5 131.9L919.1 131.5L916.9 133.0L914.4 132.7L911.9 132.2L909.7 133.7L907.3 133.7L905.0 132.7L902.7 131.5L900.3 131.8L897.9 131.9L895.5 132.5L893.1 132.4L890.8 131.1L886.9 133.7ZM932.2 124.9L934.7 129.0L937.1 124.0L939.5 123.7L941.9 122.9L944.4 124.6L946.8 121.3L949.3 124.5L951.7 124.4L953.3 127.0L955.3 129.3L953.0 129.5L950.6 129.5L948.7 131.1L946.4 131.5L943.4 132.6L940.9 131.4L938.2 130.8L935.7 129.3L934.4 126.8ZM948.2 157.9L950.3 156.7L953.0 157.2L955.3 156.5L957.1 154.4L959.6 156.0L962.4 157.0L960.2 158.1L958.8 160.1L956.5 160.0L954.2 159.0L951.7 159.7ZM992.6 179.9L994.3 178.0L995.8 176.0L996.1 173.3L998.6 173.4L1000.8 172.3L1003.2 172.0L1004.9 173.9L1006.8 175.5L1009.7 175.7L1012.2 176.7L1013.9 179.1L1015.7 182.1L1013.5 183.0L1011.3 183.5L1009.1 184.1L1006.8 184.3L1004.6 183.8L1002.5 182.4L1000.4 181.8L997.9 183.0L995.3 181.4ZM360.2 113.9L362.1 112.4L364.0 110.9L366.2 110.4L368.6 110.2L370.9 109.5L374.7 110.3L376.1 107.3L378.0 105.0L380.4 105.5L383.4 104.3L384.9 107.7L387.3 108.5L389.7 109.1L392.2 109.5L394.6 110.6L396.8 111.9L397.5 114.7L395.5 116.3L393.2 116.9L391.4 118.9L388.6 118.3L386.1 118.5L383.6 118.5L381.2 118.7L378.7 119.4L376.2 118.3L373.7 118.4L371.4 118.0L369.0 117.7L366.3 118.6L364.7 115.4L362.6 114.0ZM182.6 106.8L184.8 107.1L186.8 104.4L189.3 107.4L191.6 107.7L193.7 106.5L196.0 106.9L198.0 104.7L200.3 105.5L202.7 105.7L205.1 105.6L207.8 108.2L209.8 104.9L212.2 104.3L214.3 102.1L216.5 100.3L219.1 101.8L221.4 101.1L223.7 100.5L225.9 98.0L228.7 102.4L231.3 100.9L233.4 103.6L235.7 104.4L238.1 104.9L240.6 103.9L242.7 106.2L245.3 104.4L247.9 102.7L250.1 105.0L247.6 105.2L245.2 106.0L243.1 107.6L240.8 108.5L238.7 110.2L235.8 109.0L233.5 108.1L231.1 108.8L228.7 109.5L226.4 109.6L224.0 108.1L221.7 111.4L219.3 111.5L216.9 111.9L214.5 110.5L212.2 110.1L209.8 110.0L207.4 109.5L205.0 110.4L202.8 110.2L200.8 107.5L198.6 106.8L195.9 110.1L193.9 107.5L191.7 106.9L189.5 105.8L187.1 106.9L184.8 107.2ZM509.4 129.3L512.0 128.4L514.7 127.8L517.3 127.3L520.1 127.1L522.3 127.3L524.5 127.5L526.7 128.2L529.0 127.9L531.2 128.4L533.3 129.1L535.5 129.3L537.8 128.8L540.1 128.3L542.3 128.8L544.6 128.7L546.7 129.9L549.0 129.5L551.2 129.9L553.5 129.4L555.6 130.6L553.2 131.0L551.0 132.5L548.5 132.4L546.3 132.6L544.1 132.5L541.8 132.3L539.6 131.7L537.4 131.7L535.2 132.5L532.9 132.5L530.7 132.8L528.2 133.0L525.8 132.7L523.3 132.3L520.8 132.7L518.3 132.8L516.0 132.2L513.5 131.8L511.4 130.8ZM656.9 149.1L659.2 148.4L661.6 147.6L664.0 146.9L666.3 147.4L668.7 147.8L671.1 148.2L668.4 149.1L665.7 150.0L663.5 149.8L661.3 149.6L659.1 149.4ZM691.7 182.1L694.0 182.6L696.5 182.4L698.9 182.7L701.3 183.0L698.6 183.6L695.9 184.3L693.8 183.3ZM866.5 127.1L868.3 125.5L868.8 121.3L872.5 123.7L874.3 122.2L876.6 121.9L878.9 121.4L881.5 121.0L883.9 121.7L886.3 122.3L888.7 123.7L891.3 122.7L889.7 124.3L888.1 126.0L886.0 127.1L883.6 128.1L881.0 127.2L878.5 127.5L875.9 126.2L873.6 128.0L871.2 127.7L868.9 126.9ZM900.2 120.5L902.9 120.0L905.6 119.5L908.2 119.0L910.9 118.3L913.5 119.3L916.2 120.5L913.9 120.7L911.8 121.5L909.6 122.1L907.3 122.2L905.0 121.6L902.6 121.0ZM926.9 116.9L928.7 115.4L930.9 114.7L933.1 114.1L935.2 113.3L937.5 113.0L940.2 112.8L942.5 114.1L945.0 114.5L947.5 114.8L950.0 115.6L947.7 117.1L945.5 118.5L942.8 119.1L940.2 119.6L937.5 119.7L934.9 119.7L932.2 119.6L929.4 118.5ZM953.5 116.1L955.9 115.5L958.3 115.0L960.6 114.3L962.3 116.2L964.2 117.8L961.8 118.3L959.5 118.8L957.1 119.1L955.1 117.8ZM958.8 130.2L961.2 129.8L963.6 129.3L965.9 128.8L967.8 130.1L969.5 131.5L966.8 132.3L964.2 133.2L961.5 131.6ZM1013.9 139.0L1016.6 138.8L1019.2 138.2L1021.9 137.7L1024.6 137.2L1027.3 138.7L1029.9 140.3L1027.7 140.9L1025.5 141.2L1023.2 141.7L1021.0 142.1L1018.6 141.0L1016.3 140.0ZM1026.3 162.8L1029.0 162.1L1031.7 161.9L1033.4 164.5L1030.7 165.0L1028.1 165.8ZM1006.8 184.8L1009.5 184.9L1012.1 184.8L1014.8 186.2L1017.5 187.4L1014.8 188.0L1012.1 188.8L1009.5 187.8L1006.8 187.0ZM1015.7 187.4L1019.9 188.3L1018.9 190.5L1015.3 189.6ZM1010.4 228.0L1014.6 228.0L1015.7 229.3L1013.4 229.7L1011.1 229.7ZM1017.5 212.5L1021.0 213.0L1019.9 216.1L1016.7 215.6ZM1106.3 154.8L1109.0 153.6L1111.6 152.2L1114.2 153.4L1116.9 154.4L1113.4 156.6L1110.4 156.5L1107.3 156.6ZM939.3 118.7L942.0 118.5L944.6 118.7L943.6 120.5L941.4 119.6ZM926.9 120.0L930.4 120.5L928.6 122.7ZM926.9 128.4L929.5 128.5L932.2 128.8L930.4 131.0L926.5 130.2ZM923.3 137.2L926.0 137.3L928.6 137.2L929.3 140.3L925.1 139.9ZM939.3 158.4L942.8 158.4L941.8 159.7ZM1207.5 142.5L1210.1 142.3L1212.6 141.9L1215.0 141.1L1217.5 140.8L1220.0 140.3L1221.8 141.5L1223.5 142.9L1220.8 143.3L1218.2 143.7L1215.5 144.0L1212.9 144.7L1210.1 143.9ZM1214.6 141.6L1216.9 141.5L1219.1 141.5L1221.3 141.5L1223.5 141.6L1221.7 143.4L1219.1 143.3L1216.4 143.2ZM1269.4 150.0L1273.3 148.4L1273.6 149.1L1269.7 150.2Z" fill="#fff" stroke="#000" stroke-width="1.7" stroke-linejoin="round"/><path d="M189.7 263.6L195.0 257.9L200.3 256.2L205.6 255.3L211.0 257.0L211.0 262.3L204.9 263.6L203.9 265.9L201.4 266.7L205.6 271.6L209.9 274.7L209.6 278.6L213.8 281.3L217.0 282.2L212.0 285.7L213.8 291.0L214.2 297.6L207.4 299.8L201.4 297.1L197.5 295.8L196.4 292.3L197.8 288.8L198.9 283.5L194.3 277.7L191.4 272.5L191.4 268.9L188.6 265.9Z" fill="#fff" stroke="#000" stroke-width="1.5" stroke-linejoin="round"/><path d="M477.4 345.2m-1.4 0a1.4 1.4 0 1 0 2.8 0a1.4 1.4 0 1 0 -2.8 0M482.8 337.2m-1.4 0a1.4 1.4 0 1 0 2.8 0a1.4 1.4 0 1 0 -2.8 0M467.8 352.6m-1.4 0a1.4 1.4 0 1 0 2.8 0a1.4 1.4 0 1 0 -2.8 0M463.9 354.4m-1.4 0a1.4 1.4 0 1 0 2.8 0a1.4 1.4 0 1 0 -2.8 0M486.7 328.0m-1.4 0a1.4 1.4 0 1 0 2.8 0a1.4 1.4 0 1 0 -2.8 0M473.9 346.0m-1.4 0a1.4 1.4 0 1 0 2.8 0a1.4 1.4 0 1 0 -2.8 0M480.6 339.4m-1.4 0a1.4 1.4 0 1 0 2.8 0a1.4 1.4 0 1 0 -2.8 0M518.3 309.0m-1.1 0a1.1 1.1 0 1 0 2.2 0a1.1 1.1 0 1 0 -2.2 0M519.4 316.1m-1.1 0a1.1 1.1 0 1 0 2.2 0a1.1 1.1 0 1 0 -2.2 0M527.9 342.5m-1.1 0a1.1 1.1 0 1 0 2.2 0a1.1 1.1 0 1 0 -2.2 0M523.3 327.5m-1.1 0a1.1 1.1 0 1 0 2.2 0a1.1 1.1 0 1 0 -2.2 0M537.1 402.6m-1.1 0a1.1 1.1 0 1 0 2.2 0a1.1 1.1 0 1 0 -2.2 0M540.5 394.9m-1.1 0a1.1 1.1 0 1 0 2.2 0a1.1 1.1 0 1 0 -2.2 0M540.7 382.2m-1.1 0a1.1 1.1 0 1 0 2.2 0a1.1 1.1 0 1 0 -2.2 0M540.3 388.3m-1.1 0a1.1 1.1 0 1 0 2.2 0a1.1 1.1 0 1 0 -2.2 0M538.5 399.3m-1.1 0a1.1 1.1 0 1 0 2.2 0a1.1 1.1 0 1 0 -2.2 0M539.3 375.1m-1.1 0a1.1 1.1 0 1 0 2.2 0a1.1 1.1 0 1 0 -2.2 0M500.5 428.9m-1.1 0a1.1 1.1 0 1 0 2.2 0a1.1 1.1 0 1 0 -2.2 0M513.3 420.0m-1.1 0a1.1 1.1 0 1 0 2.2 0a1.1 1.1 0 1 0 -2.2 0M562.0 429.3m-1.1 0a1.1 1.1 0 1 0 2.2 0a1.1 1.1 0 1 0 -2.2 0M584.7 431.5m-1.1 0a1.1 1.1 0 1 0 2.2 0a1.1 1.1 0 1 0 -2.2 0M601.8 438.6m-1.1 0a1.1 1.1 0 1 0 2.2 0a1.1 1.1 0 1 0 -2.2 0M630.2 430.6m-1.1 0a1.1 1.1 0 1 0 2.2 0a1.1 1.1 0 1 0 -2.2 0M618.5 423.6m-1.1 0a1.1 1.1 0 1 0 2.2 0a1.1 1.1 0 1 0 -2.2 0M637.3 455.7m-1.1 0a1.1 1.1 0 1 0 2.2 0a1.1 1.1 0 1 0 -2.2 0M615.6 464.1m-1.1 0a1.1 1.1 0 1 0 2.2 0a1.1 1.1 0 1 0 -2.2 0M624.9 412.6m-1.1 0a1.1 1.1 0 1 0 2.2 0a1.1 1.1 0 1 0 -2.2 0M599.3 411.7m-1.1 0a1.1 1.1 0 1 0 2.2 0a1.1 1.1 0 1 0 -2.2 0M536.8 429.3m-1.1 0a1.1 1.1 0 1 0 2.2 0a1.1 1.1 0 1 0 -2.2 0M544.9 429.3m-1.1 0a1.1 1.1 0 1 0 2.2 0a1.1 1.1 0 1 0 -2.2 0M568.7 437.7m-1.1 0a1.1 1.1 0 1 0 2.2 0a1.1 1.1 0 1 0 -2.2 0M580.5 492.7m-1.8 0a1.8 1.8 0 1 0 3.5 0a1.8 1.8 0 1 0 -3.5 0M587.6 497.1m-1.8 0a1.8 1.8 0 1 0 3.5 0a1.8 1.8 0 1 0 -3.5 0M591.1 504.2m-1.8 0a1.8 1.8 0 1 0 3.5 0a1.8 1.8 0 1 0 -3.5 0M594.7 501.5m-1.8 0a1.8 1.8 0 1 0 3.5 0a1.8 1.8 0 1 0 -3.5 0M597.9 508.2m-1.8 0a1.8 1.8 0 1 0 3.5 0a1.8 1.8 0 1 0 -3.5 0M582.2 498.5m-1.8 0a1.8 1.8 0 1 0 3.5 0a1.8 1.8 0 1 0 -3.5 0M578.7 491.4m-1.8 0a1.8 1.8 0 1 0 3.5 0a1.8 1.8 0 1 0 -3.5 0M590.1 499.3m-1.8 0a1.8 1.8 0 1 0 3.5 0a1.8 1.8 0 1 0 -3.5 0M594.0 498.9m-1.8 0a1.8 1.8 0 1 0 3.5 0a1.8 1.8 0 1 0 -3.5 0M615.6 529.3m-1.5 0a1.5 1.5 0 1 0 3.0 0a1.5 1.5 0 1 0 -3.0 0M617.8 533.7m-1.5 0a1.5 1.5 0 1 0 3.0 0a1.5 1.5 0 1 0 -3.0 0M620.6 539.9m-1.5 0a1.5 1.5 0 1 0 3.0 0a1.5 1.5 0 1 0 -3.0 0M624.5 547.8m-1.5 0a1.5 1.5 0 1 0 3.0 0a1.5 1.5 0 1 0 -3.0 0M616.7 531.5m-1.5 0a1.5 1.5 0 1 0 3.0 0a1.5 1.5 0 1 0 -3.0 0M620.3 529.7m-1.5 0a1.5 1.5 0 1 0 3.0 0a1.5 1.5 0 1 0 -3.0 0M619.9 534.2m-1.5 0a1.5 1.5 0 1 0 3.0 0a1.5 1.5 0 1 0 -3.0 0M659.3 535.0m-2.4 0a2.4 2.4 0 1 0 4.8 0a2.4 2.4 0 1 0 -4.8 0M662.5 535.9m-1.5 0a1.5 1.5 0 1 0 3.0 0a1.5 1.5 0 1 0 -3.0 0M655.4 546.0m-1.5 0a1.5 1.5 0 1 0 3.0 0a1.5 1.5 0 1 0 -3.0 0M662.9 538.1m-1.5 0a1.5 1.5 0 1 0 3.0 0a1.5 1.5 0 1 0 -3.0 0M661.8 533.3m-1.5 0a1.5 1.5 0 1 0 3.0 0a1.5 1.5 0 1 0 -3.0 0M689.2 521.8m-1.2 0a1.2 1.2 0 1 0 2.5 0a1.2 1.2 0 1 0 -2.5 0M691.3 523.1m-1.2 0a1.2 1.2 0 1 0 2.5 0a1.2 1.2 0 1 0 -2.5 0M695.2 524.9m-1.2 0a1.2 1.2 0 1 0 2.5 0a1.2 1.2 0 1 0 -2.5 0M679.2 555.3m-1.2 0a1.2 1.2 0 1 0 2.5 0a1.2 1.2 0 1 0 -2.5 0M683.5 543.8m-1.2 0a1.2 1.2 0 1 0 2.5 0a1.2 1.2 0 1 0 -2.5 0M770.9 539.7m-1.2 0a1.2 1.2 0 1 0 2.5 0a1.2 1.2 0 1 0 -2.5 0M763.8 535.5m-1.2 0a1.2 1.2 0 1 0 2.5 0a1.2 1.2 0 1 0 -2.5 0M804.3 501.5m-1.2 0a1.2 1.2 0 1 0 2.5 0a1.2 1.2 0 1 0 -2.5 0M807.8 505.1m-1.2 0a1.2 1.2 0 1 0 2.5 0a1.2 1.2 0 1 0 -2.5 0M786.5 532.4m-1.2 0a1.2 1.2 0 1 0 2.5 0a1.2 1.2 0 1 0 -2.5 0M779.4 528.0m-1.2 0a1.2 1.2 0 1 0 2.5 0a1.2 1.2 0 1 0 -2.5 0M793.6 536.8m-1.2 0a1.2 1.2 0 1 0 2.5 0a1.2 1.2 0 1 0 -2.5 0M733.9 555.3m-1.2 0a1.2 1.2 0 1 0 2.5 0a1.2 1.2 0 1 0 -2.5 0M742.5 453.5m-1.2 0a1.2 1.2 0 1 0 2.5 0a1.2 1.2 0 1 0 -2.5 0M698.1 545.6m-1.2 0a1.2 1.2 0 1 0 2.5 0a1.2 1.2 0 1 0 -2.5 0M675.7 520.5m-1.2 0a1.2 1.2 0 1 0 2.5 0a1.2 1.2 0 1 0 -2.5 0M655.1 499.3m-1.2 0a1.2 1.2 0 1 0 2.5 0a1.2 1.2 0 1 0 -2.5 0M659.3 499.3m-1.2 0a1.2 1.2 0 1 0 2.5 0a1.2 1.2 0 1 0 -2.5 0M693.4 502.4m-1.2 0a1.2 1.2 0 1 0 2.5 0a1.2 1.2 0 1 0 -2.5 0M811.4 556.6m-1.2 0a1.2 1.2 0 1 0 2.5 0a1.2 1.2 0 1 0 -2.5 0M822.1 563.7m-1.2 0a1.2 1.2 0 1 0 2.5 0a1.2 1.2 0 1 0 -2.5 0M839.5 572.5m-1.2 0a1.2 1.2 0 1 0 2.5 0a1.2 1.2 0 1 0 -2.5 0M913.0 581.3m-1.2 0a1.2 1.2 0 1 0 2.5 0a1.2 1.2 0 1 0 -2.5 0M789.0 583.5m-1.2 0a1.2 1.2 0 1 0 2.5 0a1.2 1.2 0 1 0 -2.5 0M770.5 565.0m-1.2 0a1.2 1.2 0 1 0 2.5 0a1.2 1.2 0 1 0 -2.5 0M735.0 364.8m-1.8 0a1.8 1.8 0 1 0 3.5 0a1.8 1.8 0 1 0 -3.5 0M740.3 367.4m-1.8 0a1.8 1.8 0 1 0 3.5 0a1.8 1.8 0 1 0 -3.5 0M746.4 370.3m-1.8 0a1.8 1.8 0 1 0 3.5 0a1.8 1.8 0 1 0 -3.5 0M743.9 368.9m-1.2 0a1.2 1.2 0 1 0 2.5 0a1.2 1.2 0 1 0 -2.5 0M732.5 365.4m-1.2 0a1.2 1.2 0 1 0 2.5 0a1.2 1.2 0 1 0 -2.5 0M744.2 370.3m-1.2 0a1.2 1.2 0 1 0 2.5 0a1.2 1.2 0 1 0 -2.5 0M978.0 465.4m-1.6 0a1.6 1.6 0 1 0 3.2 0a1.6 1.6 0 1 0 -3.2 0M980.5 464.5m-1.6 0a1.6 1.6 0 1 0 3.2 0a1.6 1.6 0 1 0 -3.2 0M983.7 465.9m-1.1 0a1.1 1.1 0 1 0 2.2 0a1.1 1.1 0 1 0 -2.2 0M979.4 463.2m-1.1 0a1.1 1.1 0 1 0 2.2 0a1.1 1.1 0 1 0 -2.2 0M976.6 463.7m-1.1 0a1.1 1.1 0 1 0 2.2 0a1.1 1.1 0 1 0 -2.2 0M710.1 225.3m-1.5 0a1.5 1.5 0 1 0 3.0 0a1.5 1.5 0 1 0 -3.0 0M704.1 227.1m-1.5 0a1.5 1.5 0 1 0 3.0 0a1.5 1.5 0 1 0 -3.0 0M682.4 232.4m-1.5 0a1.5 1.5 0 1 0 3.0 0a1.5 1.5 0 1 0 -3.0 0M674.3 233.7m-1.5 0a1.5 1.5 0 1 0 3.0 0a1.5 1.5 0 1 0 -3.0 0M658.6 235.0m-1.5 0a1.5 1.5 0 1 0 3.0 0a1.5 1.5 0 1 0 -3.0 0M653.3 232.8m-1.5 0a1.5 1.5 0 1 0 3.0 0a1.5 1.5 0 1 0 -3.0 0M637.3 228.8m-1.5 0a1.5 1.5 0 1 0 3.0 0a1.5 1.5 0 1 0 -3.0 0M612.4 219.6m-1.5 0a1.5 1.5 0 1 0 3.0 0a1.5 1.5 0 1 0 -3.0 0M698.4 229.3m-1.5 0a1.5 1.5 0 1 0 3.0 0a1.5 1.5 0 1 0 -3.0 0M688.8 231.5m-1.5 0a1.5 1.5 0 1 0 3.0 0a1.5 1.5 0 1 0 -3.0 0M668.9 233.7m-1.5 0a1.5 1.5 0 1 0 3.0 0a1.5 1.5 0 1 0 -3.0 0M712.6 223.6m-1.5 0a1.5 1.5 0 1 0 3.0 0a1.5 1.5 0 1 0 -3.0 0M706.6 226.2m-1.5 0a1.5 1.5 0 1 0 3.0 0a1.5 1.5 0 1 0 -3.0 0M696.6 209.9m-1.5 0a1.5 1.5 0 1 0 3.0 0a1.5 1.5 0 1 0 -3.0 0M699.1 212.5m-1.5 0a1.5 1.5 0 1 0 3.0 0a1.5 1.5 0 1 0 -3.0 0M687.0 195.4m-1.5 0a1.5 1.5 0 1 0 3.0 0a1.5 1.5 0 1 0 -3.0 0M711.2 196.7m-1.5 0a1.5 1.5 0 1 0 3.0 0a1.5 1.5 0 1 0 -3.0 0M540.7 267.6m-1.5 0a1.5 1.5 0 1 0 3.0 0a1.5 1.5 0 1 0 -3.0 0M547.8 263.6m-1.5 0a1.5 1.5 0 1 0 3.0 0a1.5 1.5 0 1 0 -3.0 0M555.6 259.2m-1.5 0a1.5 1.5 0 1 0 3.0 0a1.5 1.5 0 1 0 -3.0 0M562.7 254.8m-1.5 0a1.5 1.5 0 1 0 3.0 0a1.5 1.5 0 1 0 -3.0 0M572.7 244.3m-1.5 0a1.5 1.5 0 1 0 3.0 0a1.5 1.5 0 1 0 -3.0 0M576.2 240.3m-1.5 0a1.5 1.5 0 1 0 3.0 0a1.5 1.5 0 1 0 -3.0 0M544.2 265.9m-1.5 0a1.5 1.5 0 1 0 3.0 0a1.5 1.5 0 1 0 -3.0 0M566.3 250.9m-1.5 0a1.5 1.5 0 1 0 3.0 0a1.5 1.5 0 1 0 -3.0 0M559.1 257.0m-1.5 0a1.5 1.5 0 1 0 3.0 0a1.5 1.5 0 1 0 -3.0 0M577.3 238.5m-1.5 0a1.5 1.5 0 1 0 3.0 0a1.5 1.5 0 1 0 -3.0 0M1246.3 338.5m-1.4 0a1.4 1.4 0 1 0 2.8 0a1.4 1.4 0 1 0 -2.8 0M1243.1 337.2m-1.4 0a1.4 1.4 0 1 0 2.8 0a1.4 1.4 0 1 0 -2.8 0M1253.0 334.1m-1.4 0a1.4 1.4 0 1 0 2.8 0a1.4 1.4 0 1 0 -2.8 0M1251.9 336.8m-1.4 0a1.4 1.4 0 1 0 2.8 0a1.4 1.4 0 1 0 -2.8 0M1238.1 335.5m-1.4 0a1.4 1.4 0 1 0 2.8 0a1.4 1.4 0 1 0 -2.8 0M1240.6 338.1m-1.4 0a1.4 1.4 0 1 0 2.8 0a1.4 1.4 0 1 0 -2.8 0M1237.7 339.6m-1.4 0a1.4 1.4 0 1 0 2.8 0a1.4 1.4 0 1 0 -2.8 0M1241.6 317.8m-1.2 0a1.2 1.2 0 1 0 2.5 0a1.2 1.2 0 1 0 -2.5 0M1243.8 316.3m-1.2 0a1.2 1.2 0 1 0 2.5 0a1.2 1.2 0 1 0 -2.5 0M1211.1 295.4m-1.2 0a1.2 1.2 0 1 0 2.5 0a1.2 1.2 0 1 0 -2.5 0M1205.0 291.4m-1.2 0a1.2 1.2 0 1 0 2.5 0a1.2 1.2 0 1 0 -2.5 0M1200.8 292.3m-1.2 0a1.2 1.2 0 1 0 2.5 0a1.2 1.2 0 1 0 -2.5 0M1190.8 287.9m-1.2 0a1.2 1.2 0 1 0 2.5 0a1.2 1.2 0 1 0 -2.5 0M1202.2 289.9m-1.2 0a1.2 1.2 0 1 0 2.5 0a1.2 1.2 0 1 0 -2.5 0M1212.5 299.1m-1.2 0a1.2 1.2 0 1 0 2.5 0a1.2 1.2 0 1 0 -2.5 0M1199.7 291.8m-1.2 0a1.2 1.2 0 1 0 2.5 0a1.2 1.2 0 1 0 -2.5 0M1217.8 395.4m-1.2 0a1.2 1.2 0 1 0 2.5 0a1.2 1.2 0 1 0 -2.5 0M1215.3 396.3m-1.2 0a1.2 1.2 0 1 0 2.5 0a1.2 1.2 0 1 0 -2.5 0M1220.3 391.0m-1.2 0a1.2 1.2 0 1 0 2.5 0a1.2 1.2 0 1 0 -2.5 0M1212.5 387.0m-1.2 0a1.2 1.2 0 1 0 2.5 0a1.2 1.2 0 1 0 -2.5 0M1215.7 388.8m-1.2 0a1.2 1.2 0 1 0 2.5 0a1.2 1.2 0 1 0 -2.5 0M1219.4 394.9m-1.2 0a1.2 1.2 0 1 0 2.5 0a1.2 1.2 0 1 0 -2.5 0M1220.3 388.1m-1.2 0a1.2 1.2 0 1 0 2.5 0a1.2 1.2 0 1 0 -2.5 0M1213.9 396.5m-1.2 0a1.2 1.2 0 1 0 2.5 0a1.2 1.2 0 1 0 -2.5 0M1312.3 287.4m-2.0 0a2.0 2.0 0 1 0 4.0 0a2.0 2.0 0 1 0 -4.0 0M1316.2 285.7m-1.2 0a1.2 1.2 0 1 0 2.5 0a1.2 1.2 0 1 0 -2.5 0M1306.7 290.1m-1.2 0a1.2 1.2 0 1 0 2.5 0a1.2 1.2 0 1 0 -2.5 0M1083.2 390.5m-1.2 0a1.2 1.2 0 1 0 2.5 0a1.2 1.2 0 1 0 -2.5 0M1085.0 397.6m-1.2 0a1.2 1.2 0 1 0 2.5 0a1.2 1.2 0 1 0 -2.5 0M1083.5 394.1m-1.2 0a1.2 1.2 0 1 0 2.5 0a1.2 1.2 0 1 0 -2.5 0M1085.0 400.7m-1.2 0a1.2 1.2 0 1 0 2.5 0a1.2 1.2 0 1 0 -2.5 0M1084.3 403.7m-1.2 0a1.2 1.2 0 1 0 2.5 0a1.2 1.2 0 1 0 -2.5 0M1082.5 408.6m-1.2 0a1.2 1.2 0 1 0 2.5 0a1.2 1.2 0 1 0 -2.5 0M1090.3 403.7m-1.2 0a1.2 1.2 0 1 0 2.5 0a1.2 1.2 0 1 0 -2.5 0M1078.6 385.7m-1.2 0a1.2 1.2 0 1 0 2.5 0a1.2 1.2 0 1 0 -2.5 0M1077.9 382.2m-1.2 0a1.2 1.2 0 1 0 2.5 0a1.2 1.2 0 1 0 -2.5 0M1082.1 386.6m-1.2 0a1.2 1.2 0 1 0 2.5 0a1.2 1.2 0 1 0 -2.5 0M1071.5 381.3m-1.2 0a1.2 1.2 0 1 0 2.5 0a1.2 1.2 0 1 0 -2.5 0M1071.8 383.9m-1.2 0a1.2 1.2 0 1 0 2.5 0a1.2 1.2 0 1 0 -2.5 0M1056.9 408.2m-1.2 0a1.2 1.2 0 1 0 2.5 0a1.2 1.2 0 1 0 -2.5 0M1059.0 408.2m-1.2 0a1.2 1.2 0 1 0 2.5 0a1.2 1.2 0 1 0 -2.5 0M1053.0 406.8m-1.2 0a1.2 1.2 0 1 0 2.5 0a1.2 1.2 0 1 0 -2.5 0M1074.3 413.4m-1.2 0a1.2 1.2 0 1 0 2.5 0a1.2 1.2 0 1 0 -2.5 0M1083.9 416.1m-2.2 0a2.2 2.2 0 1 0 4.5 0a2.2 2.2 0 1 0 -4.5 0M1024.6 354.4m-1.6 0a1.6 1.6 0 1 0 3.2 0a1.6 1.6 0 1 0 -3.2 0M1023.5 344.7m-1.6 0a1.6 1.6 0 1 0 3.2 0a1.6 1.6 0 1 0 -3.2 0M1027.4 345.6m-1.6 0a1.6 1.6 0 1 0 3.2 0a1.6 1.6 0 1 0 -3.2 0M1031.0 351.3m-1.6 0a1.6 1.6 0 1 0 3.2 0a1.6 1.6 0 1 0 -3.2 0M1034.9 359.3m-1.6 0a1.6 1.6 0 1 0 3.2 0a1.6 1.6 0 1 0 -3.2 0M1041.3 368.9m-1.6 0a1.6 1.6 0 1 0 3.2 0a1.6 1.6 0 1 0 -3.2 0M1046.6 365.9m-1.6 0a1.6 1.6 0 1 0 3.2 0a1.6 1.6 0 1 0 -3.2 0M1024.9 355.7m-1.6 0a1.6 1.6 0 1 0 3.2 0a1.6 1.6 0 1 0 -3.2 0M1026.3 351.5m-1.6 0a1.6 1.6 0 1 0 3.2 0a1.6 1.6 0 1 0 -3.2 0M1037.0 355.7m-1.6 0a1.6 1.6 0 1 0 3.2 0a1.6 1.6 0 1 0 -3.2 0M1042.3 362.8m-1.6 0a1.6 1.6 0 1 0 3.2 0a1.6 1.6 0 1 0 -3.2 0M1032.7 354.0m-1.6 0a1.6 1.6 0 1 0 3.2 0a1.6 1.6 0 1 0 -3.2 0M1038.1 361.9m-1.6 0a1.6 1.6 0 1 0 3.2 0a1.6 1.6 0 1 0 -3.2 0M1043.0 367.2m-1.6 0a1.6 1.6 0 1 0 3.2 0a1.6 1.6 0 1 0 -3.2 0M1013.2 376.9m-1.1 0a1.1 1.1 0 1 0 2.2 0a1.1 1.1 0 1 0 -2.2 0M1017.8 375.1m-1.1 0a1.1 1.1 0 1 0 2.2 0a1.1 1.1 0 1 0 -2.2 0M1071.5 319.6m-1.1 0a1.1 1.1 0 1 0 2.2 0a1.1 1.1 0 1 0 -2.2 0M1007.5 366.3m-1.1 0a1.1 1.1 0 1 0 2.2 0a1.1 1.1 0 1 0 -2.2 0M992.9 372.0m-1.1 0a1.1 1.1 0 1 0 2.2 0a1.1 1.1 0 1 0 -2.2 0M352.4 406.8m-1.5 0a1.5 1.5 0 1 0 3.0 0a1.5 1.5 0 1 0 -3.0 0M352.0 411.2m-1.5 0a1.5 1.5 0 1 0 3.0 0a1.5 1.5 0 1 0 -3.0 0M355.9 430.2m-1.5 0a1.5 1.5 0 1 0 3.0 0a1.5 1.5 0 1 0 -3.0 0M354.9 425.8m-1.5 0a1.5 1.5 0 1 0 3.0 0a1.5 1.5 0 1 0 -3.0 0M352.7 403.3m-1.5 0a1.5 1.5 0 1 0 3.0 0a1.5 1.5 0 1 0 -3.0 0M351.7 414.8m-1.5 0a1.5 1.5 0 1 0 3.0 0a1.5 1.5 0 1 0 -3.0 0M352.4 421.4m-1.5 0a1.5 1.5 0 1 0 3.0 0a1.5 1.5 0 1 0 -3.0 0M353.1 409.0m-1.5 0a1.5 1.5 0 1 0 3.0 0a1.5 1.5 0 1 0 -3.0 0M282.7 461.9m-0.7 0a0.7 0.7 0 1 0 1.4 0a0.7 0.7 0 1 0 -1.4 0M282.4 447.8m-0.7 0a0.7 0.7 0 1 0 1.4 0a0.7 0.7 0 1 0 -1.4 0M282.0 438.6m-0.7 0a0.7 0.7 0 1 0 1.4 0a0.7 0.7 0 1 0 -1.4 0M281.0 414.3m-0.7 0a0.7 0.7 0 1 0 1.4 0a0.7 0.7 0 1 0 -1.4 0M282.0 425.3m-0.7 0a0.7 0.7 0 1 0 1.4 0a0.7 0.7 0 1 0 -1.4 0M219.9 482.6m-1.0 0a1.0 1.0 0 1 0 2.0 0a1.0 1.0 0 1 0 -2.0 0M220.9 480.8m-1.0 0a1.0 1.0 0 1 0 2.0 0a1.0 1.0 0 1 0 -2.0 0M279.9 494.1m-1.0 0a1.0 1.0 0 1 0 2.0 0a1.0 1.0 0 1 0 -2.0 0M366.6 515.2m-1.0 0a1.0 1.0 0 1 0 2.0 0a1.0 1.0 0 1 0 -2.0 0M398.2 508.2m-1.0 0a1.0 1.0 0 1 0 2.0 0a1.0 1.0 0 1 0 -2.0 0M247.9 548.7m-1.0 0a1.0 1.0 0 1 0 2.0 0a1.0 1.0 0 1 0 -2.0 0M187.2 503.3m-1.0 0a1.0 1.0 0 1 0 2.0 0a1.0 1.0 0 1 0 -2.0 0M212.0 486.1m-1.0 0a1.0 1.0 0 1 0 2.0 0a1.0 1.0 0 1 0 -2.0 0M176.5 513.4m-1.5 0a1.5 1.5 0 1 0 3.0 0a1.5 1.5 0 1 0 -3.0 0M180.4 515.6m-1.5 0a1.5 1.5 0 1 0 3.0 0a1.5 1.5 0 1 0 -3.0 0M183.3 518.3m-1.5 0a1.5 1.5 0 1 0 3.0 0a1.5 1.5 0 1 0 -3.0 0M227.3 551.3m-1.5 0a1.5 1.5 0 1 0 3.0 0a1.5 1.5 0 1 0 -3.0 0M219.9 554.9m-1.5 0a1.5 1.5 0 1 0 3.0 0a1.5 1.5 0 1 0 -3.0 0M206.4 666.3m-1.2 0a1.2 1.2 0 1 0 2.5 0a1.2 1.2 0 1 0 -2.5 0M157.0 668.5m-1.2 0a1.2 1.2 0 1 0 2.5 0a1.2 1.2 0 1 0 -2.5 0M283.8 695.8m-1.2 0a1.2 1.2 0 1 0 2.5 0a1.2 1.2 0 1 0 -2.5 0M298.0 628.4m-1.2 0a1.2 1.2 0 1 0 2.5 0a1.2 1.2 0 1 0 -2.5 0M201.0 665.0m-1.2 0a1.2 1.2 0 1 0 2.5 0a1.2 1.2 0 1 0 -2.5 0M1207.5 716.5m-1.2 0a1.2 1.2 0 1 0 2.5 0a1.2 1.2 0 1 0 -2.5 0M1206.8 713.0m-1.2 0a1.2 1.2 0 1 0 2.5 0a1.2 1.2 0 1 0 -2.5 0M1205.0 723.6m-1.2 0a1.2 1.2 0 1 0 2.5 0a1.2 1.2 0 1 0 -2.5 0M1313.8 701.6m-1.2 0a1.2 1.2 0 1 0 2.5 0a1.2 1.2 0 1 0 -2.5 0M1258.0 625.3m-1.2 0a1.2 1.2 0 1 0 2.5 0a1.2 1.2 0 1 0 -2.5 0M1266.5 639.4m-1.2 0a1.2 1.2 0 1 0 2.5 0a1.2 1.2 0 1 0 -2.5 0M1281.4 532.4m-1.2 0a1.2 1.2 0 1 0 2.5 0a1.2 1.2 0 1 0 -2.5 0M1250.5 496.7m-1.2 0a1.2 1.2 0 1 0 2.5 0a1.2 1.2 0 1 0 -2.5 0M1186.6 478.9m-1.2 0a1.2 1.2 0 1 0 2.5 0a1.2 1.2 0 1 0 -2.5 0M1197.6 552.2m-1.2 0a1.2 1.2 0 1 0 2.5 0a1.2 1.2 0 1 0 -2.5 0M1140.0 728.9m-1.6 0a1.6 1.6 0 1 0 3.2 0a1.6 1.6 0 1 0 -3.2 0M1092.1 735.9m-1.6 0a1.6 1.6 0 1 0 3.2 0a1.6 1.6 0 1 0 -3.2 0M1086.7 738.6m-1.6 0a1.6 1.6 0 1 0 3.2 0a1.6 1.6 0 1 0 -3.2 0M1094.6 735.0m-1.6 0a1.6 1.6 0 1 0 3.2 0a1.6 1.6 0 1 0 -3.2 0M1105.6 731.1m-1.6 0a1.6 1.6 0 1 0 3.2 0a1.6 1.6 0 1 0 -3.2 0M1083.2 739.5m-1.6 0a1.6 1.6 0 1 0 3.2 0a1.6 1.6 0 1 0 -3.2 0M1079.6 740.8m-1.6 0a1.6 1.6 0 1 0 3.2 0a1.6 1.6 0 1 0 -3.2 0M1138.3 729.3m-1.6 0a1.6 1.6 0 1 0 3.2 0a1.6 1.6 0 1 0 -3.2 0M674.6 655.7m-1.2 0a1.2 1.2 0 1 0 2.5 0a1.2 1.2 0 1 0 -2.5 0M612.8 685.3m-1.2 0a1.2 1.2 0 1 0 2.5 0a1.2 1.2 0 1 0 -2.5 0M623.5 693.2m-1.2 0a1.2 1.2 0 1 0 2.5 0a1.2 1.2 0 1 0 -2.5 0M587.2 702.4m-1.2 0a1.2 1.2 0 1 0 2.5 0a1.2 1.2 0 1 0 -2.5 0M619.5 589.7m-1.2 0a1.2 1.2 0 1 0 2.5 0a1.2 1.2 0 1 0 -2.5 0M587.9 600.7m-1.2 0a1.2 1.2 0 1 0 2.5 0a1.2 1.2 0 1 0 -2.5 0M1021.7 609.9m-1.2 0a1.2 1.2 0 1 0 2.5 0a1.2 1.2 0 1 0 -2.5 0M1014.6 610.8m-1.2 0a1.2 1.2 0 1 0 2.5 0a1.2 1.2 0 1 0 -2.5 0M657.9 680.9m-1.2 0a1.2 1.2 0 1 0 2.5 0a1.2 1.2 0 1 0 -2.5 0M619.2 669.0m-1.9 0a1.9 1.9 0 1 0 3.8 0a1.9 1.9 0 1 0 -3.8 0M1325.1 461.0m-1.2 0a1.2 1.2 0 1 0 2.5 0a1.2 1.2 0 1 0 -2.5 0M1328.0 454.9m-1.2 0a1.2 1.2 0 1 0 2.5 0a1.2 1.2 0 1 0 -2.5 0M1332.6 446.5m-1.8 0a1.8 1.8 0 1 0 3.5 0a1.8 1.8 0 1 0 -3.5 0M472.1 314.8m-1.6 0a1.6 1.6 0 1 0 3.2 0a1.6 1.6 0 1 0 -3.2 0M482.1 310.3m-1.6 0a1.6 1.6 0 1 0 3.2 0a1.6 1.6 0 1 0 -3.2 0M514.4 294.5m-1.6 0a1.6 1.6 0 1 0 3.2 0a1.6 1.6 0 1 0 -3.2 0M480.3 317.8m-1.6 0a1.6 1.6 0 1 0 3.2 0a1.6 1.6 0 1 0 -3.2 0M484.5 319.6m-1.6 0a1.6 1.6 0 1 0 3.2 0a1.6 1.6 0 1 0 -3.2 0M1276.8 188.8m-1.2 0a1.2 1.2 0 1 0 2.5 0a1.2 1.2 0 1 0 -2.5 0M1297.1 196.2m-1.2 0a1.2 1.2 0 1 0 2.5 0a1.2 1.2 0 1 0 -2.5 0M1291.0 202.0m-1.2 0a1.2 1.2 0 1 0 2.5 0a1.2 1.2 0 1 0 -2.5 0M1276.8 207.3m-1.2 0a1.2 1.2 0 1 0 2.5 0a1.2 1.2 0 1 0 -2.5 0M1272.2 149.1m-1.2 0a1.2 1.2 0 1 0 2.5 0a1.2 1.2 0 1 0 -2.5 0M1369.2 134.1m-1.2 0a1.2 1.2 0 1 0 2.5 0a1.2 1.2 0 1 0 -2.5 0M1279.3 209.5m-1.2 0a1.2 1.2 0 1 0 2.5 0a1.2 1.2 0 1 0 -2.5 0M1279.7 213.0m-1.2 0a1.2 1.2 0 1 0 2.5 0a1.2 1.2 0 1 0 -2.5 0M1277.2 205.5m-1.2 0a1.2 1.2 0 1 0 2.5 0a1.2 1.2 0 1 0 -2.5 0M1297.8 194.9m-1.2 0a1.2 1.2 0 1 0 2.5 0a1.2 1.2 0 1 0 -2.5 0M1367.4 208.6m-1.8 0a1.8 1.8 0 1 0 3.5 0a1.8 1.8 0 1 0 -3.5 0M1343.6 217.4m-1.8 0a1.8 1.8 0 1 0 3.5 0a1.8 1.8 0 1 0 -3.5 0M1338.6 218.3m-1.8 0a1.8 1.8 0 1 0 3.5 0a1.8 1.8 0 1 0 -3.5 0M1381.6 204.6m-1.8 0a1.8 1.8 0 1 0 3.5 0a1.8 1.8 0 1 0 -3.5 0M1361.0 212.1m-1.8 0a1.8 1.8 0 1 0 3.5 0a1.8 1.8 0 1 0 -3.5 0M1382.3 202.4m-1.8 0a1.8 1.8 0 1 0 3.5 0a1.8 1.8 0 1 0 -3.5 0M1354.6 219.2m-1.8 0a1.8 1.8 0 1 0 3.5 0a1.8 1.8 0 1 0 -3.5 0M1342.2 220.5m-1.8 0a1.8 1.8 0 1 0 3.5 0a1.8 1.8 0 1 0 -3.5 0M1372.7 196.7m-1.8 0a1.8 1.8 0 1 0 3.5 0a1.8 1.8 0 1 0 -3.5 0M449.0 504.6m-1.8 0a1.8 1.8 0 1 0 3.5 0a1.8 1.8 0 1 0 -3.5 0M432.0 498.9m-1.8 0a1.8 1.8 0 1 0 3.5 0a1.8 1.8 0 1 0 -3.5 0M435.9 499.8m-1.8 0a1.8 1.8 0 1 0 3.5 0a1.8 1.8 0 1 0 -3.5 0M472.5 476.9m-1.8 0a1.8 1.8 0 1 0 3.5 0a1.8 1.8 0 1 0 -3.5 0M399.3 471.6m-1.8 0a1.8 1.8 0 1 0 3.5 0a1.8 1.8 0 1 0 -3.5 0M406.4 474.7m-1.8 0a1.8 1.8 0 1 0 3.5 0a1.8 1.8 0 1 0 -3.5 0M369.4 457.1m-1.8 0a1.8 1.8 0 1 0 3.5 0a1.8 1.8 0 1 0 -3.5 0M374.1 468.1m-1.8 0a1.8 1.8 0 1 0 3.5 0a1.8 1.8 0 1 0 -3.5 0M363.7 450.4m-1.8 0a1.8 1.8 0 1 0 3.5 0a1.8 1.8 0 1 0 -3.5 0M407.1 444.3m-1.8 0a1.8 1.8 0 1 0 3.5 0a1.8 1.8 0 1 0 -3.5 0M489.9 494.9m-1.8 0a1.8 1.8 0 1 0 3.5 0a1.8 1.8 0 1 0 -3.5 0M500.5 489.2m-1.8 0a1.8 1.8 0 1 0 3.5 0a1.8 1.8 0 1 0 -3.5 0M505.9 466.3m-1.8 0a1.8 1.8 0 1 0 3.5 0a1.8 1.8 0 1 0 -3.5 0M544.9 471.2m-1.8 0a1.8 1.8 0 1 0 3.5 0a1.8 1.8 0 1 0 -3.5 0M506.6 469.4m-1.8 0a1.8 1.8 0 1 0 3.5 0a1.8 1.8 0 1 0 -3.5 0M483.8 469.8m-1.8 0a1.8 1.8 0 1 0 3.5 0a1.8 1.8 0 1 0 -3.5 0M485.6 462.8m-1.8 0a1.8 1.8 0 1 0 3.5 0a1.8 1.8 0 1 0 -3.5 0M477.1 468.5m-1.8 0a1.8 1.8 0 1 0 3.5 0a1.8 1.8 0 1 0 -3.5 0M478.9 451.8m-1.8 0a1.8 1.8 0 1 0 3.5 0a1.8 1.8 0 1 0 -3.5 0M468.6 446.5m-1.8 0a1.8 1.8 0 1 0 3.5 0a1.8 1.8 0 1 0 -3.5 0M473.2 443.4m-1.8 0a1.8 1.8 0 1 0 3.5 0a1.8 1.8 0 1 0 -3.5 0M459.7 484.8m-1.8 0a1.8 1.8 0 1 0 3.5 0a1.8 1.8 0 1 0 -3.5 0M458.3 509.5m-1.8 0a1.8 1.8 0 1 0 3.5 0a1.8 1.8 0 1 0 -3.5 0M499.8 487.5m-1.8 0a1.8 1.8 0 1 0 3.5 0a1.8 1.8 0 1 0 -3.5 0M494.1 486.6m-1.8 0a1.8 1.8 0 1 0 3.5 0a1.8 1.8 0 1 0 -3.5 0M379.0 475.1m-1.8 0a1.8 1.8 0 1 0 3.5 0a1.8 1.8 0 1 0 -3.5 0M376.5 470.7m-1.8 0a1.8 1.8 0 1 0 3.5 0a1.8 1.8 0 1 0 -3.5 0M393.9 457.9m-1.8 0a1.8 1.8 0 1 0 3.5 0a1.8 1.8 0 1 0 -3.5 0M392.5 457.5m-1.8 0a1.8 1.8 0 1 0 3.5 0a1.8 1.8 0 1 0 -3.5 0M440.8 446.9m-1.8 0a1.8 1.8 0 1 0 3.5 0a1.8 1.8 0 1 0 -3.5 0M455.8 469.4m-1.8 0a1.8 1.8 0 1 0 3.5 0a1.8 1.8 0 1 0 -3.5 0M461.1 468.1m-1.8 0a1.8 1.8 0 1 0 3.5 0a1.8 1.8 0 1 0 -3.5 0M465.0 469.8m-1.8 0a1.8 1.8 0 1 0 3.5 0a1.8 1.8 0 1 0 -3.5 0M470.0 470.3m-1.8 0a1.8 1.8 0 1 0 3.5 0a1.8 1.8 0 1 0 -3.5 0M475.3 464.5m-1.8 0a1.8 1.8 0 1 0 3.5 0a1.8 1.8 0 1 0 -3.5 0M487.7 498.0m-1.8 0a1.8 1.8 0 1 0 3.5 0a1.8 1.8 0 1 0 -3.5 0M483.5 496.7m-1.8 0a1.8 1.8 0 1 0 3.5 0a1.8 1.8 0 1 0 -3.5 0M474.9 478.2m-1.8 0a1.8 1.8 0 1 0 3.5 0a1.8 1.8 0 1 0 -3.5 0M452.9 404.6m-1.4 0a1.4 1.4 0 1 0 2.9 0a1.4 1.4 0 1 0 -2.9 0M460.0 416.1m-1.4 0a1.4 1.4 0 1 0 2.9 0a1.4 1.4 0 1 0 -2.9 0M458.3 413.4m-1.4 0a1.4 1.4 0 1 0 2.9 0a1.4 1.4 0 1 0 -2.9 0M463.2 416.5m-1.4 0a1.4 1.4 0 1 0 2.9 0a1.4 1.4 0 1 0 -2.9 0M466.4 413.9m-1.4 0a1.4 1.4 0 1 0 2.9 0a1.4 1.4 0 1 0 -2.9 0M467.5 408.6m-1.4 0a1.4 1.4 0 1 0 2.9 0a1.4 1.4 0 1 0 -2.9 0M461.1 407.7m-1.4 0a1.4 1.4 0 1 0 2.9 0a1.4 1.4 0 1 0 -2.9 0M456.1 406.8m-1.4 0a1.4 1.4 0 1 0 2.9 0a1.4 1.4 0 1 0 -2.9 0M449.0 409.5m-1.4 0a1.4 1.4 0 1 0 2.9 0a1.4 1.4 0 1 0 -2.9 0M455.8 372.0m-1.4 0a1.4 1.4 0 1 0 2.9 0a1.4 1.4 0 1 0 -2.9 0M456.1 432.8m-1.4 0a1.4 1.4 0 1 0 2.9 0a1.4 1.4 0 1 0 -2.9 0M452.6 435.5m-1.4 0a1.4 1.4 0 1 0 2.9 0a1.4 1.4 0 1 0 -2.9 0M449.0 439.0m-1.4 0a1.4 1.4 0 1 0 2.9 0a1.4 1.4 0 1 0 -2.9 0M462.5 418.7m-1.4 0a1.4 1.4 0 1 0 2.9 0a1.4 1.4 0 1 0 -2.9 0M470.7 418.7m-1.4 0a1.4 1.4 0 1 0 2.9 0a1.4 1.4 0 1 0 -2.9 0M463.9 401.5m-1.4 0a1.4 1.4 0 1 0 2.9 0a1.4 1.4 0 1 0 -2.9 0M449.7 408.2m-1.4 0a1.4 1.4 0 1 0 2.9 0a1.4 1.4 0 1 0 -2.9 0M448.7 415.6m-1.4 0a1.4 1.4 0 1 0 2.9 0a1.4 1.4 0 1 0 -2.9 0M1076.8 257.5m-1.6 0a1.6 1.6 0 1 0 3.2 0a1.6 1.6 0 1 0 -3.2 0M1077.9 243.8m-1.6 0a1.6 1.6 0 1 0 3.2 0a1.6 1.6 0 1 0 -3.2 0M1042.3 282.2m-1.6 0a1.6 1.6 0 1 0 3.2 0a1.6 1.6 0 1 0 -3.2 0M1082.1 253.1m-1.6 0a1.6 1.6 0 1 0 3.2 0a1.6 1.6 0 1 0 -3.2 0M1052.6 280.0m-1.6 0a1.6 1.6 0 1 0 3.2 0a1.6 1.6 0 1 0 -3.2 0M1088.5 268.5m-1.6 0a1.6 1.6 0 1 0 3.2 0a1.6 1.6 0 1 0 -3.2 0M488.1 512.6m-1.8 0a1.8 1.8 0 1 0 3.5 0a1.8 1.8 0 1 0 -3.5 0M486.0 513.0m-1.8 0a1.8 1.8 0 1 0 3.5 0a1.8 1.8 0 1 0 -3.5 0M508.0 523.6m-1.8 0a1.8 1.8 0 1 0 3.5 0a1.8 1.8 0 1 0 -3.5 0M510.1 619.6m-1.8 0a1.8 1.8 0 1 0 3.5 0a1.8 1.8 0 1 0 -3.5 0M534.3 637.7m-1.8 0a1.8 1.8 0 1 0 3.5 0a1.8 1.8 0 1 0 -3.5 0M548.5 638.1m-1.8 0a1.8 1.8 0 1 0 3.5 0a1.8 1.8 0 1 0 -3.5 0M518.3 535.0m-1.8 0a1.8 1.8 0 1 0 3.5 0a1.8 1.8 0 1 0 -3.5 0M567.0 572.9m-1.8 0a1.8 1.8 0 1 0 3.5 0a1.8 1.8 0 1 0 -3.5 0M424.1 575.6m-1.8 0a1.8 1.8 0 1 0 3.5 0a1.8 1.8 0 1 0 -3.5 0M508.3 513.4m-1.8 0a1.8 1.8 0 1 0 3.5 0a1.8 1.8 0 1 0 -3.5 0M163.9 484.8m-1.2 0a1.2 1.2 0 1 0 2.5 0a1.2 1.2 0 1 0 -2.5 0M164.1 496.7m-1.2 0a1.2 1.2 0 1 0 2.5 0a1.2 1.2 0 1 0 -2.5 0M202.1 346.9m-1.2 0a1.2 1.2 0 1 0 2.5 0a1.2 1.2 0 1 0 -2.5 0M172.6 391.9m-1.2 0a1.2 1.2 0 1 0 2.5 0a1.2 1.2 0 1 0 -2.5 0M165.1 391.9m-1.2 0a1.2 1.2 0 1 0 2.5 0a1.2 1.2 0 1 0 -2.5 0M212.0 355.3m-1.2 0a1.2 1.2 0 1 0 2.5 0a1.2 1.2 0 1 0 -2.5 0M221.6 344.3m-1.2 0a1.2 1.2 0 1 0 2.5 0a1.2 1.2 0 1 0 -2.5 0M196.8 157.5m-1.8 0a1.8 1.8 0 1 0 3.5 0a1.8 1.8 0 1 0 -3.5 0M234.1 153.5m-1.8 0a1.8 1.8 0 1 0 3.5 0a1.8 1.8 0 1 0 -3.5 0M273.2 138.5m-1.8 0a1.8 1.8 0 1 0 3.5 0a1.8 1.8 0 1 0 -3.5 0M296.2 139.0m-1.8 0a1.8 1.8 0 1 0 3.5 0a1.8 1.8 0 1 0 -3.5 0M292.7 111.7m-1.8 0a1.8 1.8 0 1 0 3.5 0a1.8 1.8 0 1 0 -3.5 0M346.0 108.6m-1.8 0a1.8 1.8 0 1 0 3.5 0a1.8 1.8 0 1 0 -3.5 0M365.5 122.7m-1.8 0a1.8 1.8 0 1 0 3.5 0a1.8 1.8 0 1 0 -3.5 0M402.8 118.3m-1.8 0a1.8 1.8 0 1 0 3.5 0a1.8 1.8 0 1 0 -3.5 0M420.6 135.0m-1.8 0a1.8 1.8 0 1 0 3.5 0a1.8 1.8 0 1 0 -3.5 0M504.1 135.4m-1.8 0a1.8 1.8 0 1 0 3.5 0a1.8 1.8 0 1 0 -3.5 0M523.6 137.2m-1.8 0a1.8 1.8 0 1 0 3.5 0a1.8 1.8 0 1 0 -3.5 0M555.6 126.6m-1.8 0a1.8 1.8 0 1 0 3.5 0a1.8 1.8 0 1 0 -3.5 0M596.5 155.3m-1.8 0a1.8 1.8 0 1 0 3.5 0a1.8 1.8 0 1 0 -3.5 0M677.5 176.9m-1.8 0a1.8 1.8 0 1 0 3.5 0a1.8 1.8 0 1 0 -3.5 0M611.7 509.0m-1.2 0a1.2 1.2 0 1 0 2.5 0a1.2 1.2 0 1 0 -2.5 0M614.6 513.0m-1.2 0a1.2 1.2 0 1 0 2.5 0a1.2 1.2 0 1 0 -2.5 0M616.7 505.1m-1.2 0a1.2 1.2 0 1 0 2.5 0a1.2 1.2 0 1 0 -2.5 0M573.4 484.8m-1.2 0a1.2 1.2 0 1 0 2.5 0a1.2 1.2 0 1 0 -2.5 0M564.1 475.6m-1.2 0a1.2 1.2 0 1 0 2.5 0a1.2 1.2 0 1 0 -2.5 0M556.7 472.9m-1.2 0a1.2 1.2 0 1 0 2.5 0a1.2 1.2 0 1 0 -2.5 0M554.2 468.5m-1.2 0a1.2 1.2 0 1 0 2.5 0a1.2 1.2 0 1 0 -2.5 0M539.6 482.2m-1.2 0a1.2 1.2 0 1 0 2.5 0a1.2 1.2 0 1 0 -2.5 0M545.6 485.7m-1.2 0a1.2 1.2 0 1 0 2.5 0a1.2 1.2 0 1 0 -2.5 0M559.1 500.2m-1.2 0a1.2 1.2 0 1 0 2.5 0a1.2 1.2 0 1 0 -2.5 0M568.0 512.6m-1.2 0a1.2 1.2 0 1 0 2.5 0a1.2 1.2 0 1 0 -2.5 0M570.5 512.1m-1.2 0a1.2 1.2 0 1 0 2.5 0a1.2 1.2 0 1 0 -2.5 0M565.5 502.4m-1.2 0a1.2 1.2 0 1 0 2.5 0a1.2 1.2 0 1 0 -2.5 0M558.4 503.8m-1.2 0a1.2 1.2 0 1 0 2.5 0a1.2 1.2 0 1 0 -2.5 0M532.5 468.5m-1.2 0a1.2 1.2 0 1 0 2.5 0a1.2 1.2 0 1 0 -2.5 0M530.0 468.1m-1.2 0a1.2 1.2 0 1 0 2.5 0a1.2 1.2 0 1 0 -2.5 0M462.2 354.4m-1.1 0a1.1 1.1 0 1 0 2.2 0a1.1 1.1 0 1 0 -2.2 0M488.8 348.0m-1.1 0a1.1 1.1 0 1 0 2.2 0a1.1 1.1 0 1 0 -2.2 0M569.7 354.8m-1.1 0a1.1 1.1 0 1 0 2.2 0a1.1 1.1 0 1 0 -2.2 0M524.7 352.6m-1.1 0a1.1 1.1 0 1 0 2.2 0a1.1 1.1 0 1 0 -2.2 0M524.7 350.0m-1.1 0a1.1 1.1 0 1 0 2.2 0a1.1 1.1 0 1 0 -2.2 0M614.6 376.9m-1.1 0a1.1 1.1 0 1 0 2.2 0a1.1 1.1 0 1 0 -2.2 0M699.5 388.3m-1.1 0a1.1 1.1 0 1 0 2.2 0a1.1 1.1 0 1 0 -2.2 0M671.4 337.7m-1.1 0a1.1 1.1 0 1 0 2.2 0a1.1 1.1 0 1 0 -2.2 0M269.2 679.1m-2.9 0a2.9 2.9 0 1 0 5.8 0a2.9 2.9 0 1 0 -5.8 0M272.1 679.5m-2.0 0a2.0 2.0 0 1 0 4.0 0a2.0 2.0 0 1 0 -4.0 0M267.5 678.2m-2.0 0a2.0 2.0 0 1 0 4.0 0a2.0 2.0 0 1 0 -4.0 0" fill="#000"/><text x="1301.5" y="832.5" font-family="Liberation Sans, sans-serif" font-weight="bold" font-size="32" fill="#231f20" textLength="78" lengthAdjust="spacingAndGlyphs">OCPC</text></g><rect x="111.5" y="65.4" width="1279.0" height="793.0" fill="none" stroke="#000" stroke-width="1.1"/><path d="M235.8 858.4v5M449.0 858.4v5M662.2 858.4v5M875.3 858.4v5M1088.5 858.4v5M1301.7 858.4v5M111.5 65.4h-5M111.5 263.6h-5M111.5 461.9h-5M111.5 660.1h-5M111.5 858.4h-5M197.9 953.5v5M320.6 953.5v5M443.4 953.5v5M566.1 953.5v5M688.9 953.5v5M811.6 953.5v5M934.4 953.5v5M1057.1 953.5v5M1179.9 953.5v5M1302.6 953.5v5" stroke="#000" stroke-width="1.1" fill="none"/><path d="M198.4 928.5L143.0 941.0L198.4 953.5Z" fill="#000080"/><rect x="197.90" y="928.5" width="61.67" height="25.0" fill="#00009f"/><rect x="259.27" y="928.5" width="61.67" height="25.0" fill="#0000df"/><rect x="320.64" y="928.5" width="61.67" height="25.0" fill="#000cff"/><rect x="382.02" y="928.5" width="61.67" height="25.0" fill="#0044ff"/><rect x="443.39" y="928.5" width="61.67" height="25.0" fill="#0080ff"/><rect x="504.76" y="928.5" width="61.67" height="25.0" fill="#00b8ff"/><rect x="566.13" y="928.5" width="61.67" height="25.0" fill="#09f0ee"/><rect x="627.51" y="928.5" width="61.67" height="25.0" fill="#36ffc1"/><rect x="688.88" y="928.5" width="61.67" height="25.0" fill="#63ff94"/><rect x="750.25" y="928.5" width="61.67" height="25.0" fill="#94ff63"/><rect x="811.62" y="928.5" width="61.67" height="25.0" fill="#c1ff36"/><rect x="872.99" y="928.5" width="61.67" height="25.0" fill="#eeff09"/><rect x="934.37" y="928.5" width="61.67" height="25.0" fill="#ffcc00"/><rect x="995.74" y="928.5" width="61.67" height="25.0" fill="#ff9400"/><rect x="1057.11" y="928.5" width="61.67" height="25.0" fill="#ff6000"/><rect x="1118.48" y="928.5" width="61.67" height="25.0" fill="#ff2d00"/><rect x="1179.86" y="928.5" width="61.67" height="25.0" fill="#df0000"/><rect x="1241.23" y="928.5" width="61.67" height="25.0" fill="#9f0000"/><path d="M1302.1 928.5L1357.5 941.0L1302.1 953.5Z" fill="#800000"/><path d="M143.0 941.0L197.9 928.5L1302.6 928.5L1357.5 941.0L1302.6 953.5L197.9 953.5Z" fill="none" stroke="#000" stroke-width="1"/><text x="153.7" y="42.5" font-family="&quot;Liberation Sans&quot;, &quot;Noto Sans CJK KR&quot;, sans-serif" font-weight="bold" font-size="39" fill="#000" textLength="279" lengthAdjust="spacingAndGlyphs">전지구 해면수온</text></svg><div class="t" style="left:434.2px;top:8.7px;font-size:38.4px;word-spacing:7.0px;transform:scaleX(0.9321)">(OISST, JFM Climatology masked by CFSv2 Ice, °C)</div><div class="t" style="left:196.0px;top:869.4px;font-size:39.2px;transform:scaleX(0.9330)">60°E</div><div class="t" style="left:399.8px;top:869.4px;font-size:39.2px;transform:scaleX(0.9186)">120°E</div><div class="t" style="left:622.9px;top:869.4px;font-size:39.2px;transform:scaleX(0.9682)">180°</div><div class="t" style="left:816.6px;top:869.4px;font-size:39.2px;transform:scaleX(0.9951)">120°W</div><div class="t" style="left:1039.5px;top:869.4px;font-size:39.2px;transform:scaleX(1.0179)">60°W</div><div class="t" style="left:1283.4px;top:869.4px;font-size:39.2px;transform:scaleX(0.9739)">0°</div><div class="t" style="left:12.0px;top:44.2px;font-size:39.2px;transform:scaleX(0.9910)">90°N</div><div class="t" style="left:11.4px;top:242.5px;font-size:39.2px;transform:scaleX(0.9979)">45°N</div><div class="t" style="left:52.2px;top:440.7px;font-size:39.2px;transform:scaleX(0.8740)">EQ</div><div class="t" style="left:20.4px;top:639.0px;font-size:39.2px;transform:scaleX(0.9377)">45°S</div><div class="t" style="left:20.5px;top:837.2px;font-size:39.2px;transform:scaleX(0.9365)">90°S</div><div class="t" style="left:180.1px;top:957.5px;font-size:39.2px;transform:scaleX(1.0214)">-2</div><div class="t" style="left:310.1px;top:957.5px;font-size:39.2px;transform:scaleX(0.9633)">2</div><div class="t" style="left:432.9px;top:957.5px;font-size:39.2px;transform:scaleX(0.9633)">6</div><div class="t" style="left:545.9px;top:957.5px;font-size:39.2px;transform:scaleX(0.9288)">10</div><div class="t" style="left:667.9px;top:957.5px;font-size:39.2px;transform:scaleX(0.9633)">14</div><div class="t" style="left:790.9px;top:957.5px;font-size:39.2px;transform:scaleX(0.9518)">18</div><div class="t" style="left:913.4px;top:957.5px;font-size:39.2px;transform:scaleX(0.9633)">22</div><div class="t" style="left:1036.1px;top:957.5px;font-size:39.2px;transform:scaleX(0.9633)">26</div><div class="t" style="left:1158.9px;top:957.5px;font-size:39.2px;transform:scaleX(0.9633)">30</div><div class="t" style="left:1281.6px;top:957.5px;font-size:39.2px;transform:scaleX(0.9633)">34</div></div></body></html>
